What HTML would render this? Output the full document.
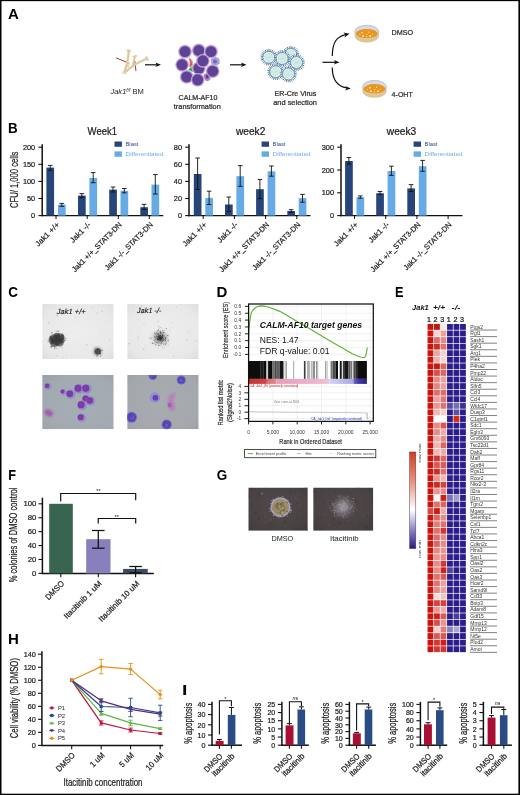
<!DOCTYPE html>
<html lang="en"><head><meta charset="utf-8"><title>Figure</title>
<style>html,body{margin:0;padding:0;background:#fff}body{width:520px;height:795px;overflow:hidden;font-family:"Liberation Sans",sans-serif}svg{display:block}</style></head>
<body>
<svg width="520" height="795" viewBox="0 0 520 795" font-family='"Liberation Sans", sans-serif'>
<defs>
<marker id="ah" viewBox="0 0 10 10" refX="8" refY="5" markerWidth="5.5" markerHeight="5.5" orient="auto-start-reverse"><path d="M0,0.8 L10,5 L0,9.2 L2.5,5 Z" fill="#111"/></marker>
<filter id="b1" x="-20%" y="-20%" width="140%" height="140%"><feGaussianBlur stdDeviation="0.5"/></filter>
<filter id="b2" x="-30%" y="-30%" width="160%" height="160%"><feGaussianBlur stdDeviation="1.2"/></filter>
<filter id="b3" x="-50%" y="-50%" width="200%" height="200%"><feGaussianBlur stdDeviation="2.2"/></filter>
<filter id="b05" x="-20%" y="-20%" width="140%" height="140%"><feGaussianBlur stdDeviation="0.3"/></filter>
<linearGradient id="cbar" x1="0" y1="0" x2="0" y2="1"><stop offset="0" stop-color="#d63a22"/><stop offset="0.3" stop-color="#e9907c"/><stop offset="0.6" stop-color="#ffffff"/><stop offset="0.8" stop-color="#8f86c8"/><stop offset="1" stop-color="#2a1688"/></linearGradient>
<radialGradient id="pg1" cx="0.5" cy="0.5" r="0.75"><stop offset="0" stop-color="#eeeeee"/><stop offset="0.7" stop-color="#e8e8e8"/><stop offset="1" stop-color="#dadada"/></radialGradient>
<radialGradient id="pg2" cx="0.55" cy="0.55" r="0.8"><stop offset="0" stop-color="#a7adb4"/><stop offset="0.7" stop-color="#a3a9b0"/><stop offset="1" stop-color="#979da6"/></radialGradient>
<radialGradient id="pg2b" cx="0.5" cy="0.5" r="0.8"><stop offset="0" stop-color="#a8acb1"/><stop offset="0.7" stop-color="#a4a8ad"/><stop offset="1" stop-color="#999da3"/></radialGradient>
<radialGradient id="pg3" cx="0.5" cy="0.45" r="0.8"><stop offset="0" stop-color="#514949"/><stop offset="0.6" stop-color="#4a4343"/><stop offset="1" stop-color="#3f3939"/></radialGradient>
<radialGradient id="cellg" cx="0.45" cy="0.45" r="0.6"><stop offset="0" stop-color="#7a52b8"/><stop offset="0.8" stop-color="#5d3f9d"/><stop offset="1" stop-color="#54388f"/></radialGradient>
<radialGradient id="dmsoCol" cx="0.5" cy="0.5" r="0.5"><stop offset="0" stop-color="#a89a78"/><stop offset="0.7" stop-color="#9a8c6e"/><stop offset="1" stop-color="#7d7494"/></radialGradient>
</defs>
<rect x="0.00" y="0.00" width="520.00" height="795.00" fill="#ffffff" />
<text transform="translate(8.0,18.75) scale(1.0,1)" font-size="15" font-weight="bold" fill="#000">A</text>
<text transform="translate(8.0,132.9) scale(0.9,1)" font-size="15" font-weight="bold" fill="#000">B</text>
<text transform="translate(8.2,297.1) scale(0.9,1)" font-size="15" font-weight="bold" fill="#000">C</text>
<text transform="translate(216.4,297.1) scale(1.0,1)" font-size="15" font-weight="bold" fill="#000">D</text>
<text transform="translate(395.1,297.1) scale(0.85,1)" font-size="15" font-weight="bold" fill="#000">E</text>
<text transform="translate(8.3,480.4) scale(0.85,1)" font-size="15" font-weight="bold" fill="#000">F</text>
<text transform="translate(216.7,480.4) scale(0.9,1)" font-size="15" font-weight="bold" fill="#000">G</text>
<text transform="translate(8.0,644.2) scale(1.0,1)" font-size="15" font-weight="bold" fill="#000">H</text>
<text transform="translate(181.9,694.5) scale(1.3,1)" font-size="15" font-weight="bold" fill="#000">I</text>
<g stroke-linecap="round" fill="none">
<path d="M116.5,58 L126.5,62.2" stroke="#a03a3a" stroke-width="1"/>
<path d="M134.8,61 L135.9,70.6" stroke="#a03a3a" stroke-width="1"/>
<path d="M124.3,72.2 C126.6,67 128.1,60 128.8,51.2" stroke="#dfc99e" stroke-width="2.3"/>
<path d="M126.6,71.2 C131,66.8 138,62.2 146.8,58.8" stroke="#dfc99e" stroke-width="2.0"/>
<path d="M132.4,66 C133.5,62 134.4,59.5 134.8,57" stroke="#dfc99e" stroke-width="1.9"/>
</g>
<circle cx="127.6" cy="50.4" r="1.3" fill="#dfc99e"/>
<circle cx="129.7" cy="50.9" r="1.2" fill="#dfc99e"/>
<circle cx="123.6" cy="72.6" r="1.3" fill="#dfc99e"/>
<circle cx="125.4" cy="73.2" r="1.1" fill="#dfc99e"/>
<circle cx="146.4" cy="57.6" r="1.3" fill="#dfc99e"/>
<circle cx="147.6" cy="59.6" r="1.3" fill="#dfc99e"/>
<circle cx="133.6" cy="56.6" r="1.1" fill="#dfc99e"/>
<circle cx="135.8" cy="56" r="1.2" fill="#dfc99e"/>
<circle cx="128.8" cy="63.5" r="1.2" fill="#dfc99e"/>
<circle cx="128.3" cy="66.3" r="1.1" fill="#dfc99e"/>
<circle cx="127.5" cy="70.2" r="1.0" fill="#dfc99e"/>
<circle cx="127.2" cy="50" r="0.8" fill="#eeeeee"/><circle cx="124" cy="73" r="0.8" fill="#eeeeee"/>
<line x1="145.00" y1="64.80" x2="158.00" y2="64.80" stroke="#111" stroke-width="1.2" />
<path d="M161,64.8 L155.4,62.5 L156.8,64.8 L155.4,67.1 Z" fill="#111"/>
<line x1="230.00" y1="64.80" x2="243.50" y2="64.80" stroke="#111" stroke-width="1.2" />
<path d="M246.5,64.8 L240.9,62.5 L242.3,64.8 L240.9,67.1 Z" fill="#111"/>
<line x1="322.50" y1="62.30" x2="336.50" y2="62.30" stroke="#111" stroke-width="1.2" />
<path d="M339.5,62.3 L333.9,60.0 L335.3,62.3 L333.9,64.6 Z" fill="#111"/>
<text x="110.4" y="94.3" font-size="7.3" fill="#2a2a2a" textLength="33.4" lengthAdjust="spacingAndGlyphs"><tspan font-style="italic">Jak1</tspan><tspan font-size="4.6" dy="-2.6" font-style="italic">f/f</tspan><tspan dy="2.6"> BM</tspan></text>
<g filter="url(#b05)">
<circle cx="198.8" cy="68.3" r="6.9" fill="#cdaedb"/>
<circle cx="198.8" cy="68.3" r="6.2" fill="#b691cd"/>
<circle cx="198.8" cy="68.3" r="5.45" fill="#5d4296"/>
<circle cx="185" cy="51.6" r="6.9" fill="#cdaedb"/>
<circle cx="185" cy="51.6" r="6.2" fill="#b691cd"/>
<circle cx="185" cy="51.6" r="5.45" fill="#5d4296"/>
<circle cx="198.8" cy="50.5" r="6.9" fill="#cdaedb"/>
<circle cx="198.8" cy="50.5" r="6.2" fill="#b691cd"/>
<circle cx="198.8" cy="50.5" r="5.45" fill="#5d4296"/>
<circle cx="211" cy="51.6" r="6.9" fill="#cdaedb"/>
<circle cx="211" cy="51.6" r="6.2" fill="#b691cd"/>
<circle cx="211" cy="51.6" r="5.45" fill="#5d4296"/>
<circle cx="182.1" cy="64.8" r="6.9" fill="#cdaedb"/>
<circle cx="182.1" cy="64.8" r="6.2" fill="#b691cd"/>
<circle cx="182.1" cy="64.8" r="5.45" fill="#5d4296"/>
<circle cx="212.7" cy="71.2" r="6.9" fill="#cdaedb"/>
<circle cx="212.7" cy="71.2" r="6.2" fill="#b691cd"/>
<circle cx="212.7" cy="71.2" r="5.45" fill="#5d4296"/>
<circle cx="186.7" cy="76.9" r="6.9" fill="#cdaedb"/>
<circle cx="186.7" cy="76.9" r="6.2" fill="#b691cd"/>
<circle cx="186.7" cy="76.9" r="5.45" fill="#5d4296"/>
<path d="M187.6,57.2 Q194.4,58.6 193.2,66.4 Q190.6,68.2 188.8,66.6 Q190.8,62 187.6,57.2 Z" fill="#e7a3ae"/>
<path d="M189,58.8 Q192.4,60.5 191.6,65.6 Q190.6,66.3 189.9,65.6 Q191.3,62 189,58.8 Z" fill="#bf3f57"/>
<path d="M191.2,66.6 L193,72 L188.4,69.8 Z" fill="#2f9a57" stroke="#8fd0a4" stroke-width="0.5"/>
<path d="M215,56.6 L219.2,58.8 L219.6,63.4 L216,66 L211.4,64.4 L210.8,59.2 Z" fill="#a79fd6" stroke="#c3bde6" stroke-width="0.6"/>
<circle cx="215" cy="61.4" r="2" fill="#7c63b8"/>
<ellipse cx="207" cy="77.2" rx="3.2" ry="4" fill="#a987c6" transform="rotate(-25 207 77.2)"/>
<ellipse cx="207.2" cy="76.8" rx="1.5" ry="2" fill="#6b3a8c" transform="rotate(-25 207 77.2)"/>
<circle cx="197.7" cy="79.8" r="6.9" fill="#cdaedb"/>
<circle cx="197.7" cy="79.8" r="6.2" fill="#b691cd"/>
<circle cx="197.7" cy="79.8" r="5.45" fill="#5d4296"/>
<circle cx="202.9" cy="60.8" r="6.9" fill="#cdaedb"/>
<circle cx="202.9" cy="60.8" r="6.2" fill="#b691cd"/>
<circle cx="202.9" cy="60.8" r="5.45" fill="#5d4296"/>
</g>
<text x="198.00" y="100.20" font-size="7.1" text-anchor="middle" fill="#2a2a2a" textLength="38.8" lengthAdjust="spacingAndGlyphs" stroke="#2a2a2a" stroke-width="0.22" >CALM-AF10</text>
<text x="197.30" y="108.60" font-size="7.1" text-anchor="middle" fill="#2a2a2a" textLength="47" lengthAdjust="spacingAndGlyphs" stroke="#2a2a2a" stroke-width="0.22" >transformation</text>
<g>
<circle cx="290.8" cy="54.4" r="7.6" fill="#ffffff"/>
<line x1="296.63" y1="55.28" x2="299.01" y2="55.64" stroke="#3f8f93" stroke-width="0.8"/>
<line x1="296.25" y1="56.65" x2="298.47" y2="57.57" stroke="#3a3a9c" stroke-width="0.8"/>
<line x1="295.56" y1="57.89" x2="297.49" y2="59.31" stroke="#3f8f93" stroke-width="0.8"/>
<line x1="294.58" y1="58.93" x2="296.12" y2="60.77" stroke="#3a3a9c" stroke-width="0.8"/>
<line x1="293.39" y1="59.70" x2="294.44" y2="61.86" stroke="#3f8f93" stroke-width="0.8"/>
<line x1="292.04" y1="60.17" x2="292.55" y2="62.51" stroke="#3a3a9c" stroke-width="0.8"/>
<line x1="290.63" y1="60.30" x2="290.56" y2="62.70" stroke="#3f8f93" stroke-width="0.8"/>
<line x1="289.22" y1="60.08" x2="288.58" y2="62.40" stroke="#3a3a9c" stroke-width="0.8"/>
<line x1="287.91" y1="59.54" x2="286.73" y2="61.63" stroke="#3f8f93" stroke-width="0.8"/>
<line x1="286.76" y1="58.70" x2="285.12" y2="60.45" stroke="#3a3a9c" stroke-width="0.8"/>
<line x1="285.85" y1="57.61" x2="283.83" y2="58.91" stroke="#3f8f93" stroke-width="0.8"/>
<line x1="285.22" y1="56.33" x2="282.96" y2="57.12" stroke="#3a3a9c" stroke-width="0.8"/>
<line x1="284.92" y1="54.94" x2="282.53" y2="55.16" stroke="#3f8f93" stroke-width="0.8"/>
<line x1="284.97" y1="53.52" x2="282.59" y2="53.16" stroke="#3a3a9c" stroke-width="0.8"/>
<line x1="285.35" y1="52.15" x2="283.13" y2="51.23" stroke="#3f8f93" stroke-width="0.8"/>
<line x1="286.04" y1="50.91" x2="284.11" y2="49.49" stroke="#3a3a9c" stroke-width="0.8"/>
<line x1="287.02" y1="49.87" x2="285.48" y2="48.03" stroke="#3f8f93" stroke-width="0.8"/>
<line x1="288.21" y1="49.10" x2="287.16" y2="46.94" stroke="#3a3a9c" stroke-width="0.8"/>
<line x1="289.56" y1="48.63" x2="289.05" y2="46.29" stroke="#3f8f93" stroke-width="0.8"/>
<line x1="290.97" y1="48.50" x2="291.04" y2="46.10" stroke="#3a3a9c" stroke-width="0.8"/>
<line x1="292.38" y1="48.72" x2="293.02" y2="46.40" stroke="#3f8f93" stroke-width="0.8"/>
<line x1="293.69" y1="49.26" x2="294.87" y2="47.17" stroke="#3a3a9c" stroke-width="0.8"/>
<line x1="294.84" y1="50.10" x2="296.48" y2="48.35" stroke="#3f8f93" stroke-width="0.8"/>
<line x1="295.75" y1="51.19" x2="297.77" y2="49.89" stroke="#3a3a9c" stroke-width="0.8"/>
<line x1="296.38" y1="52.47" x2="298.64" y2="51.68" stroke="#3f8f93" stroke-width="0.8"/>
<line x1="296.68" y1="53.86" x2="299.07" y2="53.64" stroke="#3a3a9c" stroke-width="0.8"/>
<circle cx="290.8" cy="54.4" r="5.9" fill="#ffffff" stroke="#3d7f9a" stroke-width="0.8"/>
<circle cx="290.8" cy="54.4" r="4.3" fill="#d3ebe4" stroke="#a2d2c6" stroke-width="0.45"/>
<path d="M289.2,55.4 q0.8,-1.6 1.6,-0.8 q0.8,0.6 1.6,-1" fill="none" stroke="#9fcfc2" stroke-width="0.5"/>
<circle cx="268.8" cy="57.3" r="7.6" fill="#ffffff"/>
<line x1="274.63" y1="58.18" x2="277.01" y2="58.54" stroke="#3f8f93" stroke-width="0.8"/>
<line x1="274.25" y1="59.55" x2="276.47" y2="60.47" stroke="#3a3a9c" stroke-width="0.8"/>
<line x1="273.56" y1="60.79" x2="275.49" y2="62.21" stroke="#3f8f93" stroke-width="0.8"/>
<line x1="272.58" y1="61.83" x2="274.12" y2="63.67" stroke="#3a3a9c" stroke-width="0.8"/>
<line x1="271.39" y1="62.60" x2="272.44" y2="64.76" stroke="#3f8f93" stroke-width="0.8"/>
<line x1="270.04" y1="63.07" x2="270.55" y2="65.41" stroke="#3a3a9c" stroke-width="0.8"/>
<line x1="268.63" y1="63.20" x2="268.56" y2="65.60" stroke="#3f8f93" stroke-width="0.8"/>
<line x1="267.22" y1="62.98" x2="266.58" y2="65.30" stroke="#3a3a9c" stroke-width="0.8"/>
<line x1="265.91" y1="62.44" x2="264.73" y2="64.53" stroke="#3f8f93" stroke-width="0.8"/>
<line x1="264.76" y1="61.60" x2="263.12" y2="63.35" stroke="#3a3a9c" stroke-width="0.8"/>
<line x1="263.85" y1="60.51" x2="261.83" y2="61.81" stroke="#3f8f93" stroke-width="0.8"/>
<line x1="263.22" y1="59.23" x2="260.96" y2="60.02" stroke="#3a3a9c" stroke-width="0.8"/>
<line x1="262.92" y1="57.84" x2="260.53" y2="58.06" stroke="#3f8f93" stroke-width="0.8"/>
<line x1="262.97" y1="56.42" x2="260.59" y2="56.06" stroke="#3a3a9c" stroke-width="0.8"/>
<line x1="263.35" y1="55.05" x2="261.13" y2="54.13" stroke="#3f8f93" stroke-width="0.8"/>
<line x1="264.04" y1="53.81" x2="262.11" y2="52.39" stroke="#3a3a9c" stroke-width="0.8"/>
<line x1="265.02" y1="52.77" x2="263.48" y2="50.93" stroke="#3f8f93" stroke-width="0.8"/>
<line x1="266.21" y1="52.00" x2="265.16" y2="49.84" stroke="#3a3a9c" stroke-width="0.8"/>
<line x1="267.56" y1="51.53" x2="267.05" y2="49.19" stroke="#3f8f93" stroke-width="0.8"/>
<line x1="268.97" y1="51.40" x2="269.04" y2="49.00" stroke="#3a3a9c" stroke-width="0.8"/>
<line x1="270.38" y1="51.62" x2="271.02" y2="49.30" stroke="#3f8f93" stroke-width="0.8"/>
<line x1="271.69" y1="52.16" x2="272.87" y2="50.07" stroke="#3a3a9c" stroke-width="0.8"/>
<line x1="272.84" y1="53.00" x2="274.48" y2="51.25" stroke="#3f8f93" stroke-width="0.8"/>
<line x1="273.75" y1="54.09" x2="275.77" y2="52.79" stroke="#3a3a9c" stroke-width="0.8"/>
<line x1="274.38" y1="55.37" x2="276.64" y2="54.58" stroke="#3f8f93" stroke-width="0.8"/>
<line x1="274.68" y1="56.76" x2="277.07" y2="56.54" stroke="#3a3a9c" stroke-width="0.8"/>
<circle cx="268.8" cy="57.3" r="5.9" fill="#ffffff" stroke="#3d7f9a" stroke-width="0.8"/>
<circle cx="268.8" cy="57.3" r="4.3" fill="#d3ebe4" stroke="#a2d2c6" stroke-width="0.45"/>
<path d="M267.2,58.3 q0.8,-1.6 1.6,-0.8 q0.8,0.6 1.6,-1" fill="none" stroke="#9fcfc2" stroke-width="0.5"/>
<circle cx="282.1" cy="58.5" r="7.6" fill="#ffffff"/>
<line x1="287.93" y1="59.38" x2="290.31" y2="59.74" stroke="#3f8f93" stroke-width="0.8"/>
<line x1="287.55" y1="60.75" x2="289.77" y2="61.67" stroke="#3a3a9c" stroke-width="0.8"/>
<line x1="286.86" y1="61.99" x2="288.79" y2="63.41" stroke="#3f8f93" stroke-width="0.8"/>
<line x1="285.88" y1="63.03" x2="287.42" y2="64.87" stroke="#3a3a9c" stroke-width="0.8"/>
<line x1="284.69" y1="63.80" x2="285.74" y2="65.96" stroke="#3f8f93" stroke-width="0.8"/>
<line x1="283.34" y1="64.27" x2="283.85" y2="66.61" stroke="#3a3a9c" stroke-width="0.8"/>
<line x1="281.93" y1="64.40" x2="281.86" y2="66.80" stroke="#3f8f93" stroke-width="0.8"/>
<line x1="280.52" y1="64.18" x2="279.88" y2="66.50" stroke="#3a3a9c" stroke-width="0.8"/>
<line x1="279.21" y1="63.64" x2="278.03" y2="65.73" stroke="#3f8f93" stroke-width="0.8"/>
<line x1="278.06" y1="62.80" x2="276.42" y2="64.55" stroke="#3a3a9c" stroke-width="0.8"/>
<line x1="277.15" y1="61.71" x2="275.13" y2="63.01" stroke="#3f8f93" stroke-width="0.8"/>
<line x1="276.52" y1="60.43" x2="274.26" y2="61.22" stroke="#3a3a9c" stroke-width="0.8"/>
<line x1="276.22" y1="59.04" x2="273.83" y2="59.26" stroke="#3f8f93" stroke-width="0.8"/>
<line x1="276.27" y1="57.62" x2="273.89" y2="57.26" stroke="#3a3a9c" stroke-width="0.8"/>
<line x1="276.65" y1="56.25" x2="274.43" y2="55.33" stroke="#3f8f93" stroke-width="0.8"/>
<line x1="277.34" y1="55.01" x2="275.41" y2="53.59" stroke="#3a3a9c" stroke-width="0.8"/>
<line x1="278.32" y1="53.97" x2="276.78" y2="52.13" stroke="#3f8f93" stroke-width="0.8"/>
<line x1="279.51" y1="53.20" x2="278.46" y2="51.04" stroke="#3a3a9c" stroke-width="0.8"/>
<line x1="280.86" y1="52.73" x2="280.35" y2="50.39" stroke="#3f8f93" stroke-width="0.8"/>
<line x1="282.27" y1="52.60" x2="282.34" y2="50.20" stroke="#3a3a9c" stroke-width="0.8"/>
<line x1="283.68" y1="52.82" x2="284.32" y2="50.50" stroke="#3f8f93" stroke-width="0.8"/>
<line x1="284.99" y1="53.36" x2="286.17" y2="51.27" stroke="#3a3a9c" stroke-width="0.8"/>
<line x1="286.14" y1="54.20" x2="287.78" y2="52.45" stroke="#3f8f93" stroke-width="0.8"/>
<line x1="287.05" y1="55.29" x2="289.07" y2="53.99" stroke="#3a3a9c" stroke-width="0.8"/>
<line x1="287.68" y1="56.57" x2="289.94" y2="55.78" stroke="#3f8f93" stroke-width="0.8"/>
<line x1="287.98" y1="57.96" x2="290.37" y2="57.74" stroke="#3a3a9c" stroke-width="0.8"/>
<circle cx="282.1" cy="58.5" r="5.9" fill="#ffffff" stroke="#3d7f9a" stroke-width="0.8"/>
<circle cx="282.1" cy="58.5" r="4.3" fill="#d3ebe4" stroke="#a2d2c6" stroke-width="0.45"/>
<path d="M280.5,59.5 q0.8,-1.6 1.6,-0.8 q0.8,0.6 1.6,-1" fill="none" stroke="#9fcfc2" stroke-width="0.5"/>
<circle cx="296.5" cy="62.5" r="7.6" fill="#ffffff"/>
<line x1="302.33" y1="63.38" x2="304.71" y2="63.74" stroke="#3f8f93" stroke-width="0.8"/>
<line x1="301.95" y1="64.75" x2="304.17" y2="65.67" stroke="#3a3a9c" stroke-width="0.8"/>
<line x1="301.26" y1="65.99" x2="303.19" y2="67.41" stroke="#3f8f93" stroke-width="0.8"/>
<line x1="300.28" y1="67.03" x2="301.82" y2="68.87" stroke="#3a3a9c" stroke-width="0.8"/>
<line x1="299.09" y1="67.80" x2="300.14" y2="69.96" stroke="#3f8f93" stroke-width="0.8"/>
<line x1="297.74" y1="68.27" x2="298.25" y2="70.61" stroke="#3a3a9c" stroke-width="0.8"/>
<line x1="296.33" y1="68.40" x2="296.26" y2="70.80" stroke="#3f8f93" stroke-width="0.8"/>
<line x1="294.92" y1="68.18" x2="294.28" y2="70.50" stroke="#3a3a9c" stroke-width="0.8"/>
<line x1="293.61" y1="67.64" x2="292.43" y2="69.73" stroke="#3f8f93" stroke-width="0.8"/>
<line x1="292.46" y1="66.80" x2="290.82" y2="68.55" stroke="#3a3a9c" stroke-width="0.8"/>
<line x1="291.55" y1="65.71" x2="289.53" y2="67.01" stroke="#3f8f93" stroke-width="0.8"/>
<line x1="290.92" y1="64.43" x2="288.66" y2="65.22" stroke="#3a3a9c" stroke-width="0.8"/>
<line x1="290.62" y1="63.04" x2="288.23" y2="63.26" stroke="#3f8f93" stroke-width="0.8"/>
<line x1="290.67" y1="61.62" x2="288.29" y2="61.26" stroke="#3a3a9c" stroke-width="0.8"/>
<line x1="291.05" y1="60.25" x2="288.83" y2="59.33" stroke="#3f8f93" stroke-width="0.8"/>
<line x1="291.74" y1="59.01" x2="289.81" y2="57.59" stroke="#3a3a9c" stroke-width="0.8"/>
<line x1="292.72" y1="57.97" x2="291.18" y2="56.13" stroke="#3f8f93" stroke-width="0.8"/>
<line x1="293.91" y1="57.20" x2="292.86" y2="55.04" stroke="#3a3a9c" stroke-width="0.8"/>
<line x1="295.26" y1="56.73" x2="294.75" y2="54.39" stroke="#3f8f93" stroke-width="0.8"/>
<line x1="296.67" y1="56.60" x2="296.74" y2="54.20" stroke="#3a3a9c" stroke-width="0.8"/>
<line x1="298.08" y1="56.82" x2="298.72" y2="54.50" stroke="#3f8f93" stroke-width="0.8"/>
<line x1="299.39" y1="57.36" x2="300.57" y2="55.27" stroke="#3a3a9c" stroke-width="0.8"/>
<line x1="300.54" y1="58.20" x2="302.18" y2="56.45" stroke="#3f8f93" stroke-width="0.8"/>
<line x1="301.45" y1="59.29" x2="303.47" y2="57.99" stroke="#3a3a9c" stroke-width="0.8"/>
<line x1="302.08" y1="60.57" x2="304.34" y2="59.78" stroke="#3f8f93" stroke-width="0.8"/>
<line x1="302.38" y1="61.96" x2="304.77" y2="61.74" stroke="#3a3a9c" stroke-width="0.8"/>
<circle cx="296.5" cy="62.5" r="5.9" fill="#ffffff" stroke="#3d7f9a" stroke-width="0.8"/>
<circle cx="296.5" cy="62.5" r="4.3" fill="#d3ebe4" stroke="#a2d2c6" stroke-width="0.45"/>
<path d="M294.9,63.5 q0.8,-1.6 1.6,-0.8 q0.8,0.6 1.6,-1" fill="none" stroke="#9fcfc2" stroke-width="0.5"/>
<circle cx="275.8" cy="71.7" r="7.6" fill="#ffffff"/>
<line x1="281.63" y1="72.58" x2="284.01" y2="72.94" stroke="#3f8f93" stroke-width="0.8"/>
<line x1="281.25" y1="73.95" x2="283.47" y2="74.87" stroke="#3a3a9c" stroke-width="0.8"/>
<line x1="280.56" y1="75.19" x2="282.49" y2="76.61" stroke="#3f8f93" stroke-width="0.8"/>
<line x1="279.58" y1="76.23" x2="281.12" y2="78.07" stroke="#3a3a9c" stroke-width="0.8"/>
<line x1="278.39" y1="77.00" x2="279.44" y2="79.16" stroke="#3f8f93" stroke-width="0.8"/>
<line x1="277.04" y1="77.47" x2="277.55" y2="79.81" stroke="#3a3a9c" stroke-width="0.8"/>
<line x1="275.63" y1="77.60" x2="275.56" y2="80.00" stroke="#3f8f93" stroke-width="0.8"/>
<line x1="274.22" y1="77.38" x2="273.58" y2="79.70" stroke="#3a3a9c" stroke-width="0.8"/>
<line x1="272.91" y1="76.84" x2="271.73" y2="78.93" stroke="#3f8f93" stroke-width="0.8"/>
<line x1="271.76" y1="76.00" x2="270.12" y2="77.75" stroke="#3a3a9c" stroke-width="0.8"/>
<line x1="270.85" y1="74.91" x2="268.83" y2="76.21" stroke="#3f8f93" stroke-width="0.8"/>
<line x1="270.22" y1="73.63" x2="267.96" y2="74.42" stroke="#3a3a9c" stroke-width="0.8"/>
<line x1="269.92" y1="72.24" x2="267.53" y2="72.46" stroke="#3f8f93" stroke-width="0.8"/>
<line x1="269.97" y1="70.82" x2="267.59" y2="70.46" stroke="#3a3a9c" stroke-width="0.8"/>
<line x1="270.35" y1="69.45" x2="268.13" y2="68.53" stroke="#3f8f93" stroke-width="0.8"/>
<line x1="271.04" y1="68.21" x2="269.11" y2="66.79" stroke="#3a3a9c" stroke-width="0.8"/>
<line x1="272.02" y1="67.17" x2="270.48" y2="65.33" stroke="#3f8f93" stroke-width="0.8"/>
<line x1="273.21" y1="66.40" x2="272.16" y2="64.24" stroke="#3a3a9c" stroke-width="0.8"/>
<line x1="274.56" y1="65.93" x2="274.05" y2="63.59" stroke="#3f8f93" stroke-width="0.8"/>
<line x1="275.97" y1="65.80" x2="276.04" y2="63.40" stroke="#3a3a9c" stroke-width="0.8"/>
<line x1="277.38" y1="66.02" x2="278.02" y2="63.70" stroke="#3f8f93" stroke-width="0.8"/>
<line x1="278.69" y1="66.56" x2="279.87" y2="64.47" stroke="#3a3a9c" stroke-width="0.8"/>
<line x1="279.84" y1="67.40" x2="281.48" y2="65.65" stroke="#3f8f93" stroke-width="0.8"/>
<line x1="280.75" y1="68.49" x2="282.77" y2="67.19" stroke="#3a3a9c" stroke-width="0.8"/>
<line x1="281.38" y1="69.77" x2="283.64" y2="68.98" stroke="#3f8f93" stroke-width="0.8"/>
<line x1="281.68" y1="71.16" x2="284.07" y2="70.94" stroke="#3a3a9c" stroke-width="0.8"/>
<circle cx="275.8" cy="71.7" r="5.9" fill="#ffffff" stroke="#3d7f9a" stroke-width="0.8"/>
<circle cx="275.8" cy="71.7" r="4.3" fill="#d3ebe4" stroke="#a2d2c6" stroke-width="0.45"/>
<path d="M274.2,72.7 q0.8,-1.6 1.6,-0.8 q0.8,0.6 1.6,-1" fill="none" stroke="#9fcfc2" stroke-width="0.5"/>
<circle cx="288.5" cy="74" r="7.6" fill="#ffffff"/>
<line x1="294.33" y1="74.88" x2="296.71" y2="75.24" stroke="#3f8f93" stroke-width="0.8"/>
<line x1="293.95" y1="76.25" x2="296.17" y2="77.17" stroke="#3a3a9c" stroke-width="0.8"/>
<line x1="293.26" y1="77.49" x2="295.19" y2="78.91" stroke="#3f8f93" stroke-width="0.8"/>
<line x1="292.28" y1="78.53" x2="293.82" y2="80.37" stroke="#3a3a9c" stroke-width="0.8"/>
<line x1="291.09" y1="79.30" x2="292.14" y2="81.46" stroke="#3f8f93" stroke-width="0.8"/>
<line x1="289.74" y1="79.77" x2="290.25" y2="82.11" stroke="#3a3a9c" stroke-width="0.8"/>
<line x1="288.33" y1="79.90" x2="288.26" y2="82.30" stroke="#3f8f93" stroke-width="0.8"/>
<line x1="286.92" y1="79.68" x2="286.28" y2="82.00" stroke="#3a3a9c" stroke-width="0.8"/>
<line x1="285.61" y1="79.14" x2="284.43" y2="81.23" stroke="#3f8f93" stroke-width="0.8"/>
<line x1="284.46" y1="78.30" x2="282.82" y2="80.05" stroke="#3a3a9c" stroke-width="0.8"/>
<line x1="283.55" y1="77.21" x2="281.53" y2="78.51" stroke="#3f8f93" stroke-width="0.8"/>
<line x1="282.92" y1="75.93" x2="280.66" y2="76.72" stroke="#3a3a9c" stroke-width="0.8"/>
<line x1="282.62" y1="74.54" x2="280.23" y2="74.76" stroke="#3f8f93" stroke-width="0.8"/>
<line x1="282.67" y1="73.12" x2="280.29" y2="72.76" stroke="#3a3a9c" stroke-width="0.8"/>
<line x1="283.05" y1="71.75" x2="280.83" y2="70.83" stroke="#3f8f93" stroke-width="0.8"/>
<line x1="283.74" y1="70.51" x2="281.81" y2="69.09" stroke="#3a3a9c" stroke-width="0.8"/>
<line x1="284.72" y1="69.47" x2="283.18" y2="67.63" stroke="#3f8f93" stroke-width="0.8"/>
<line x1="285.91" y1="68.70" x2="284.86" y2="66.54" stroke="#3a3a9c" stroke-width="0.8"/>
<line x1="287.26" y1="68.23" x2="286.75" y2="65.89" stroke="#3f8f93" stroke-width="0.8"/>
<line x1="288.67" y1="68.10" x2="288.74" y2="65.70" stroke="#3a3a9c" stroke-width="0.8"/>
<line x1="290.08" y1="68.32" x2="290.72" y2="66.00" stroke="#3f8f93" stroke-width="0.8"/>
<line x1="291.39" y1="68.86" x2="292.57" y2="66.77" stroke="#3a3a9c" stroke-width="0.8"/>
<line x1="292.54" y1="69.70" x2="294.18" y2="67.95" stroke="#3f8f93" stroke-width="0.8"/>
<line x1="293.45" y1="70.79" x2="295.47" y2="69.49" stroke="#3a3a9c" stroke-width="0.8"/>
<line x1="294.08" y1="72.07" x2="296.34" y2="71.28" stroke="#3f8f93" stroke-width="0.8"/>
<line x1="294.38" y1="73.46" x2="296.77" y2="73.24" stroke="#3a3a9c" stroke-width="0.8"/>
<circle cx="288.5" cy="74" r="5.9" fill="#ffffff" stroke="#3d7f9a" stroke-width="0.8"/>
<circle cx="288.5" cy="74" r="4.3" fill="#d3ebe4" stroke="#a2d2c6" stroke-width="0.45"/>
<path d="M286.9,75 q0.8,-1.6 1.6,-0.8 q0.8,0.6 1.6,-1" fill="none" stroke="#9fcfc2" stroke-width="0.5"/>
</g>
<text x="295.40" y="96.30" font-size="7.1" text-anchor="middle" fill="#2a2a2a" textLength="41.8" lengthAdjust="spacingAndGlyphs" stroke="#2a2a2a" stroke-width="0.22" >ER-Cre Virus</text>
<text x="295.10" y="105.40" font-size="7.1" text-anchor="middle" fill="#2a2a2a" textLength="43.8" lengthAdjust="spacingAndGlyphs" stroke="#2a2a2a" stroke-width="0.22" >and selection</text>
<path d="M332.3,56 C332.3,42 337,36.5 345.5,34.6" fill="none" stroke="#111" stroke-width="1.2"/>
<path d="M349.4,33.8 L343.6,32.6 L345.4,34.7 L344.6,37.4 Z" fill="#111"/>
<path d="M332.3,67.5 C332.3,81 338,86.5 346.8,88" fill="none" stroke="#111" stroke-width="1.2"/>
<path d="M350.8,88.6 L345.2,86 L346.6,88.2 L345,90.6 Z" fill="#111"/>
<g filter="url(#b05)">
<path d="M355.0,31.5 L355.0,36.0 A11.8,6.3 0 0 0 378.6,36.0 L378.6,31.5 Z" fill="#dfc694" stroke="#cdb88c" stroke-width="0.4"/>
<ellipse cx="366.8" cy="31.5" rx="11.8" ry="6.3" fill="#d6dae4" stroke="#b4b8c6" stroke-width="0.8"/>
<ellipse cx="366.8" cy="33.5" rx="10.8" ry="4.6" fill="#e8961a"/>
<circle cx="362.2" cy="32.6" r="0.9" fill="#fbe6b8"/>
<circle cx="368.8" cy="32.1" r="0.7" fill="#fbe6b8"/>
<circle cx="367.0" cy="34.3" r="0.6" fill="#fbe6b8"/>
<circle cx="363.2" cy="36.1" r="1.0" fill="#fbe6b8"/>
<circle cx="370.2" cy="36.1" r="1.0" fill="#fbe6b8"/>
<circle cx="366.6" cy="36.7" r="0.6" fill="#fbe6b8"/>
<circle cx="359.8" cy="34.3" r="0.6" fill="#fbe6b8"/>
<circle cx="372.40000000000003" cy="34.1" r="0.5" fill="#fbe6b8"/>
</g>
<g filter="url(#b05)">
<path d="M362.7,86.7 L362.7,91.2 A11.8,6.3 0 0 0 386.3,91.2 L386.3,86.7 Z" fill="#dfc694" stroke="#cdb88c" stroke-width="0.4"/>
<ellipse cx="374.5" cy="86.7" rx="11.8" ry="6.3" fill="#d6dae4" stroke="#b4b8c6" stroke-width="0.8"/>
<ellipse cx="374.5" cy="88.7" rx="10.8" ry="4.6" fill="#e8961a"/>
<circle cx="369.9" cy="87.8" r="0.9" fill="#fbe6b8"/>
<circle cx="376.5" cy="87.3" r="0.7" fill="#fbe6b8"/>
<circle cx="374.7" cy="89.5" r="0.6" fill="#fbe6b8"/>
<circle cx="370.9" cy="91.3" r="1.0" fill="#fbe6b8"/>
<circle cx="377.9" cy="91.3" r="1.0" fill="#fbe6b8"/>
<circle cx="374.3" cy="91.9" r="0.6" fill="#fbe6b8"/>
<circle cx="367.5" cy="89.5" r="0.6" fill="#fbe6b8"/>
<circle cx="380.1" cy="89.3" r="0.5" fill="#fbe6b8"/>
</g>
<text x="391.60" y="34.70" font-size="7.5" text-anchor="start" fill="#2a2a2a" textLength="21.6" lengthAdjust="spacingAndGlyphs" stroke="#2a2a2a" stroke-width="0.22" >DMSO</text>
<text x="391.60" y="96.50" font-size="7.5" text-anchor="start" fill="#2a2a2a" textLength="21.2" lengthAdjust="spacingAndGlyphs" stroke="#2a2a2a" stroke-width="0.22" >4-OHT</text>
<line x1="42.20" y1="144.20" x2="42.20" y2="216.30" stroke="#111" stroke-width="1.5" />
<line x1="41.50" y1="215.60" x2="163.20" y2="215.60" stroke="#111" stroke-width="1.4" />
<line x1="38.40" y1="215.60" x2="42.20" y2="215.60" stroke="#111" stroke-width="1.1" />
<text x="35.20" y="218.20" font-size="7.3" text-anchor="end" fill="#222" textLength="4.1" lengthAdjust="spacingAndGlyphs" stroke="#222" stroke-width="0.22" >0</text>
<line x1="38.40" y1="198.50" x2="42.20" y2="198.50" stroke="#111" stroke-width="1.1" />
<text x="35.20" y="201.10" font-size="7.3" text-anchor="end" fill="#222" textLength="8.2" lengthAdjust="spacingAndGlyphs" stroke="#222" stroke-width="0.22" >50</text>
<line x1="38.40" y1="181.40" x2="42.20" y2="181.40" stroke="#111" stroke-width="1.1" />
<text x="35.20" y="184.00" font-size="7.3" text-anchor="end" fill="#222" textLength="12.299999999999999" lengthAdjust="spacingAndGlyphs" stroke="#222" stroke-width="0.22" >100</text>
<line x1="38.40" y1="164.30" x2="42.20" y2="164.30" stroke="#111" stroke-width="1.1" />
<text x="35.20" y="166.90" font-size="7.3" text-anchor="end" fill="#222" textLength="12.299999999999999" lengthAdjust="spacingAndGlyphs" stroke="#222" stroke-width="0.22" >150</text>
<line x1="38.40" y1="147.20" x2="42.20" y2="147.20" stroke="#111" stroke-width="1.1" />
<text x="35.20" y="149.80" font-size="7.3" text-anchor="end" fill="#222" textLength="12.299999999999999" lengthAdjust="spacingAndGlyphs" stroke="#222" stroke-width="0.22" >200</text>
<text x="102.30" y="135.00" font-size="10.4" text-anchor="middle" fill="#1a1a1a" textLength="29.4" lengthAdjust="spacingAndGlyphs" stroke="#1a1a1a" stroke-width="0.22" >Week1</text>
<rect x="46.40" y="167.60" width="7.70" height="48.00" fill="#28457a" />
<rect x="58.00" y="204.60" width="7.70" height="11.00" fill="#66abe5" />
<rect x="78.00" y="195.60" width="7.70" height="20.00" fill="#28457a" />
<rect x="89.40" y="178.00" width="7.70" height="37.60" fill="#66abe5" />
<rect x="109.20" y="189.60" width="7.70" height="26.00" fill="#28457a" />
<rect x="120.50" y="190.80" width="7.70" height="24.80" fill="#66abe5" />
<rect x="140.30" y="207.20" width="7.70" height="8.40" fill="#28457a" />
<rect x="151.50" y="184.60" width="7.70" height="31.00" fill="#66abe5" />
<line x1="50.20" y1="165.40" x2="50.20" y2="170.30" stroke="#111" stroke-width="0.9" />
<line x1="47.90" y1="165.40" x2="52.50" y2="165.40" stroke="#111" stroke-width="0.9" />
<line x1="47.90" y1="170.30" x2="52.50" y2="170.30" stroke="#111" stroke-width="0.9" />
<line x1="61.80" y1="203.40" x2="61.80" y2="206.30" stroke="#111" stroke-width="0.9" />
<line x1="59.50" y1="203.40" x2="64.10" y2="203.40" stroke="#111" stroke-width="0.9" />
<line x1="59.50" y1="206.30" x2="64.10" y2="206.30" stroke="#111" stroke-width="0.9" />
<line x1="81.80" y1="193.60" x2="81.80" y2="197.70" stroke="#111" stroke-width="0.9" />
<line x1="79.50" y1="193.60" x2="84.10" y2="193.60" stroke="#111" stroke-width="0.9" />
<line x1="79.50" y1="197.70" x2="84.10" y2="197.70" stroke="#111" stroke-width="0.9" />
<line x1="93.20" y1="172.60" x2="93.20" y2="182.70" stroke="#111" stroke-width="0.9" />
<line x1="90.90" y1="172.60" x2="95.50" y2="172.60" stroke="#111" stroke-width="0.9" />
<line x1="90.90" y1="182.70" x2="95.50" y2="182.70" stroke="#111" stroke-width="0.9" />
<line x1="113.00" y1="187.00" x2="113.00" y2="192.00" stroke="#111" stroke-width="0.9" />
<line x1="110.70" y1="187.00" x2="115.30" y2="187.00" stroke="#111" stroke-width="0.9" />
<line x1="110.70" y1="192.00" x2="115.30" y2="192.00" stroke="#111" stroke-width="0.9" />
<line x1="124.30" y1="188.50" x2="124.30" y2="192.80" stroke="#111" stroke-width="0.9" />
<line x1="122.00" y1="188.50" x2="126.60" y2="188.50" stroke="#111" stroke-width="0.9" />
<line x1="122.00" y1="192.80" x2="126.60" y2="192.80" stroke="#111" stroke-width="0.9" />
<line x1="144.10" y1="204.30" x2="144.10" y2="209.40" stroke="#111" stroke-width="0.9" />
<line x1="141.80" y1="204.30" x2="146.40" y2="204.30" stroke="#111" stroke-width="0.9" />
<line x1="141.80" y1="209.40" x2="146.40" y2="209.40" stroke="#111" stroke-width="0.9" />
<line x1="155.30" y1="174.60" x2="155.30" y2="194.00" stroke="#111" stroke-width="0.9" />
<line x1="153.00" y1="174.60" x2="157.60" y2="174.60" stroke="#111" stroke-width="0.9" />
<line x1="153.00" y1="194.00" x2="157.60" y2="194.00" stroke="#111" stroke-width="0.9" />
<line x1="56.00" y1="215.60" x2="56.00" y2="219.00" stroke="#111" stroke-width="1.0" />
<text transform="translate(60.00,225.20) rotate(-45)" font-size="7.6" text-anchor="end" fill="#222" textLength="30.8" lengthAdjust="spacingAndGlyphs" stroke="#222" stroke-width="0.22" >Jak1 +/+</text>
<line x1="87.20" y1="215.60" x2="87.20" y2="219.00" stroke="#111" stroke-width="1.0" />
<text transform="translate(91.20,225.20) rotate(-45)" font-size="7.6" text-anchor="end" fill="#222" textLength="25.6" lengthAdjust="spacingAndGlyphs" stroke="#222" stroke-width="0.22" >Jak1 -/-</text>
<line x1="118.30" y1="215.60" x2="118.30" y2="219.00" stroke="#111" stroke-width="1.0" />
<text transform="translate(122.30,225.20) rotate(-45)" font-size="7.6" text-anchor="end" fill="#222" textLength="67" lengthAdjust="spacingAndGlyphs" stroke="#222" stroke-width="0.22" >Jak1 +/+_STAT3-DN</text>
<line x1="149.30" y1="215.60" x2="149.30" y2="219.00" stroke="#111" stroke-width="1.0" />
<text transform="translate(153.30,225.20) rotate(-45)" font-size="7.6" text-anchor="end" fill="#222" textLength="64.5" lengthAdjust="spacingAndGlyphs" stroke="#222" stroke-width="0.22" >Jak1 -/-_STAT3-DN</text>
<rect x="114.50" y="141.50" width="7.40" height="5.30" fill="#28457a" />
<rect x="114.50" y="151.40" width="7.40" height="5.40" fill="#66abe5" />
<text x="125.50" y="146.10" font-size="6.2" text-anchor="start" fill="#2c4a8c" textLength="12.9" lengthAdjust="spacingAndGlyphs" >Blast</text>
<text x="125.50" y="156.30" font-size="6.2" text-anchor="start" fill="#6aaee6" textLength="38" lengthAdjust="spacingAndGlyphs" >Differentiated</text>
<text transform="translate(17.70,179.80) rotate(-90)" font-size="10" text-anchor="middle" fill="#222" textLength="56.5" lengthAdjust="spacingAndGlyphs" stroke="#222" stroke-width="0.22" >CFU/ 1,000 cells</text>
<line x1="189.00" y1="144.20" x2="189.00" y2="216.30" stroke="#111" stroke-width="1.5" />
<line x1="188.30" y1="215.60" x2="310.50" y2="215.60" stroke="#111" stroke-width="1.4" />
<line x1="185.20" y1="215.60" x2="189.00" y2="215.60" stroke="#111" stroke-width="1.1" />
<text x="182.00" y="218.20" font-size="7.3" text-anchor="end" fill="#222" textLength="4.1" lengthAdjust="spacingAndGlyphs" stroke="#222" stroke-width="0.22" >0</text>
<line x1="185.20" y1="198.50" x2="189.00" y2="198.50" stroke="#111" stroke-width="1.1" />
<text x="182.00" y="201.10" font-size="7.3" text-anchor="end" fill="#222" textLength="8.2" lengthAdjust="spacingAndGlyphs" stroke="#222" stroke-width="0.22" >20</text>
<line x1="185.20" y1="181.40" x2="189.00" y2="181.40" stroke="#111" stroke-width="1.1" />
<text x="182.00" y="184.00" font-size="7.3" text-anchor="end" fill="#222" textLength="8.2" lengthAdjust="spacingAndGlyphs" stroke="#222" stroke-width="0.22" >40</text>
<line x1="185.20" y1="164.30" x2="189.00" y2="164.30" stroke="#111" stroke-width="1.1" />
<text x="182.00" y="166.90" font-size="7.3" text-anchor="end" fill="#222" textLength="8.2" lengthAdjust="spacingAndGlyphs" stroke="#222" stroke-width="0.22" >60</text>
<line x1="185.20" y1="147.20" x2="189.00" y2="147.20" stroke="#111" stroke-width="1.1" />
<text x="182.00" y="149.80" font-size="7.3" text-anchor="end" fill="#222" textLength="8.2" lengthAdjust="spacingAndGlyphs" stroke="#222" stroke-width="0.22" >80</text>
<text x="250.60" y="135.00" font-size="10.4" text-anchor="middle" fill="#1a1a1a" textLength="29.4" lengthAdjust="spacingAndGlyphs" stroke="#1a1a1a" stroke-width="0.22" >week2</text>
<rect x="193.80" y="174.00" width="7.70" height="41.60" fill="#28457a" />
<rect x="205.30" y="197.90" width="7.70" height="17.70" fill="#66abe5" />
<rect x="225.00" y="204.50" width="7.70" height="11.10" fill="#28457a" />
<rect x="236.40" y="176.20" width="7.70" height="39.40" fill="#66abe5" />
<rect x="256.10" y="189.20" width="7.70" height="26.40" fill="#28457a" />
<rect x="267.60" y="171.30" width="7.70" height="44.30" fill="#66abe5" />
<rect x="287.30" y="211.00" width="7.70" height="4.60" fill="#28457a" />
<rect x="298.70" y="198.20" width="7.70" height="17.40" fill="#66abe5" />
<line x1="197.60" y1="158.00" x2="197.60" y2="189.50" stroke="#111" stroke-width="0.9" />
<line x1="195.30" y1="158.00" x2="199.90" y2="158.00" stroke="#111" stroke-width="0.9" />
<line x1="195.30" y1="189.50" x2="199.90" y2="189.50" stroke="#111" stroke-width="0.9" />
<line x1="209.10" y1="191.20" x2="209.10" y2="204.50" stroke="#111" stroke-width="0.9" />
<line x1="206.80" y1="191.20" x2="211.40" y2="191.20" stroke="#111" stroke-width="0.9" />
<line x1="206.80" y1="204.50" x2="211.40" y2="204.50" stroke="#111" stroke-width="0.9" />
<line x1="228.80" y1="197.00" x2="228.80" y2="211.70" stroke="#111" stroke-width="0.9" />
<line x1="226.50" y1="197.00" x2="231.10" y2="197.00" stroke="#111" stroke-width="0.9" />
<line x1="226.50" y1="211.70" x2="231.10" y2="211.70" stroke="#111" stroke-width="0.9" />
<line x1="240.20" y1="165.60" x2="240.20" y2="186.30" stroke="#111" stroke-width="0.9" />
<line x1="237.90" y1="165.60" x2="242.50" y2="165.60" stroke="#111" stroke-width="0.9" />
<line x1="237.90" y1="186.30" x2="242.50" y2="186.30" stroke="#111" stroke-width="0.9" />
<line x1="259.90" y1="179.40" x2="259.90" y2="198.70" stroke="#111" stroke-width="0.9" />
<line x1="257.60" y1="179.40" x2="262.20" y2="179.40" stroke="#111" stroke-width="0.9" />
<line x1="257.60" y1="198.70" x2="262.20" y2="198.70" stroke="#111" stroke-width="0.9" />
<line x1="271.40" y1="166.00" x2="271.40" y2="176.20" stroke="#111" stroke-width="0.9" />
<line x1="269.10" y1="166.00" x2="273.70" y2="166.00" stroke="#111" stroke-width="0.9" />
<line x1="269.10" y1="176.20" x2="273.70" y2="176.20" stroke="#111" stroke-width="0.9" />
<line x1="291.10" y1="209.70" x2="291.10" y2="212.60" stroke="#111" stroke-width="0.9" />
<line x1="288.80" y1="209.70" x2="293.40" y2="209.70" stroke="#111" stroke-width="0.9" />
<line x1="288.80" y1="212.60" x2="293.40" y2="212.60" stroke="#111" stroke-width="0.9" />
<line x1="302.50" y1="194.40" x2="302.50" y2="202.20" stroke="#111" stroke-width="0.9" />
<line x1="300.20" y1="194.40" x2="304.80" y2="194.40" stroke="#111" stroke-width="0.9" />
<line x1="300.20" y1="202.20" x2="304.80" y2="202.20" stroke="#111" stroke-width="0.9" />
<line x1="203.20" y1="215.60" x2="203.20" y2="219.00" stroke="#111" stroke-width="1.0" />
<text transform="translate(207.20,225.20) rotate(-45)" font-size="7.6" text-anchor="end" fill="#222" textLength="30.8" lengthAdjust="spacingAndGlyphs" stroke="#222" stroke-width="0.22" >Jak1 +/+</text>
<line x1="234.40" y1="215.60" x2="234.40" y2="219.00" stroke="#111" stroke-width="1.0" />
<text transform="translate(238.40,225.20) rotate(-45)" font-size="7.6" text-anchor="end" fill="#222" textLength="25.6" lengthAdjust="spacingAndGlyphs" stroke="#222" stroke-width="0.22" >Jak1 -/-</text>
<line x1="265.60" y1="215.60" x2="265.60" y2="219.00" stroke="#111" stroke-width="1.0" />
<text transform="translate(269.60,225.20) rotate(-45)" font-size="7.6" text-anchor="end" fill="#222" textLength="67" lengthAdjust="spacingAndGlyphs" stroke="#222" stroke-width="0.22" >Jak1 +/+_STAT3-DN</text>
<line x1="296.80" y1="215.60" x2="296.80" y2="219.00" stroke="#111" stroke-width="1.0" />
<text transform="translate(300.80,225.20) rotate(-45)" font-size="7.6" text-anchor="end" fill="#222" textLength="64.5" lengthAdjust="spacingAndGlyphs" stroke="#222" stroke-width="0.22" >Jak1 -/-_STAT3-DN</text>
<rect x="261.60" y="141.50" width="7.40" height="5.30" fill="#28457a" />
<rect x="261.60" y="151.40" width="7.40" height="5.40" fill="#66abe5" />
<text x="272.60" y="146.10" font-size="6.2" text-anchor="start" fill="#2c4a8c" textLength="12.9" lengthAdjust="spacingAndGlyphs" >Blast</text>
<text x="272.60" y="156.30" font-size="6.2" text-anchor="start" fill="#6aaee6" textLength="38" lengthAdjust="spacingAndGlyphs" >Differentiated</text>
<line x1="341.00" y1="144.20" x2="341.00" y2="216.30" stroke="#111" stroke-width="1.5" />
<line x1="340.30" y1="215.60" x2="462.50" y2="215.60" stroke="#111" stroke-width="1.4" />
<line x1="337.20" y1="215.60" x2="341.00" y2="215.60" stroke="#111" stroke-width="1.1" />
<text x="334.00" y="218.20" font-size="7.3" text-anchor="end" fill="#222" textLength="4.1" lengthAdjust="spacingAndGlyphs" stroke="#222" stroke-width="0.22" >0</text>
<line x1="337.20" y1="192.80" x2="341.00" y2="192.80" stroke="#111" stroke-width="1.1" />
<text x="334.00" y="195.40" font-size="7.3" text-anchor="end" fill="#222" textLength="12.299999999999999" lengthAdjust="spacingAndGlyphs" stroke="#222" stroke-width="0.22" >100</text>
<line x1="337.20" y1="170.00" x2="341.00" y2="170.00" stroke="#111" stroke-width="1.1" />
<text x="334.00" y="172.60" font-size="7.3" text-anchor="end" fill="#222" textLength="12.299999999999999" lengthAdjust="spacingAndGlyphs" stroke="#222" stroke-width="0.22" >200</text>
<line x1="337.20" y1="147.20" x2="341.00" y2="147.20" stroke="#111" stroke-width="1.1" />
<text x="334.00" y="149.80" font-size="7.3" text-anchor="end" fill="#222" textLength="12.299999999999999" lengthAdjust="spacingAndGlyphs" stroke="#222" stroke-width="0.22" >300</text>
<text x="401.50" y="135.00" font-size="10.4" text-anchor="middle" fill="#1a1a1a" textLength="29.4" lengthAdjust="spacingAndGlyphs" stroke="#1a1a1a" stroke-width="0.22" >week3</text>
<rect x="345.10" y="161.00" width="7.70" height="54.60" fill="#28457a" />
<rect x="356.50" y="197.30" width="7.70" height="18.30" fill="#66abe5" />
<rect x="376.20" y="193.30" width="7.70" height="22.30" fill="#28457a" />
<rect x="387.60" y="171.00" width="7.70" height="44.60" fill="#66abe5" />
<rect x="407.30" y="188.40" width="7.70" height="27.20" fill="#28457a" />
<rect x="418.80" y="166.20" width="7.70" height="49.40" fill="#66abe5" />
<line x1="348.90" y1="157.50" x2="348.90" y2="164.10" stroke="#111" stroke-width="0.9" />
<line x1="346.60" y1="157.50" x2="351.20" y2="157.50" stroke="#111" stroke-width="0.9" />
<line x1="346.60" y1="164.10" x2="351.20" y2="164.10" stroke="#111" stroke-width="0.9" />
<line x1="360.30" y1="195.90" x2="360.30" y2="198.20" stroke="#111" stroke-width="0.9" />
<line x1="358.00" y1="195.90" x2="362.60" y2="195.90" stroke="#111" stroke-width="0.9" />
<line x1="358.00" y1="198.20" x2="362.60" y2="198.20" stroke="#111" stroke-width="0.9" />
<line x1="380.00" y1="191.50" x2="380.00" y2="194.40" stroke="#111" stroke-width="0.9" />
<line x1="377.70" y1="191.50" x2="382.30" y2="191.50" stroke="#111" stroke-width="0.9" />
<line x1="377.70" y1="194.40" x2="382.30" y2="194.40" stroke="#111" stroke-width="0.9" />
<line x1="391.40" y1="166.20" x2="391.40" y2="175.40" stroke="#111" stroke-width="0.9" />
<line x1="389.10" y1="166.20" x2="393.70" y2="166.20" stroke="#111" stroke-width="0.9" />
<line x1="389.10" y1="175.40" x2="393.70" y2="175.40" stroke="#111" stroke-width="0.9" />
<line x1="411.10" y1="184.60" x2="411.10" y2="191.50" stroke="#111" stroke-width="0.9" />
<line x1="408.80" y1="184.60" x2="413.40" y2="184.60" stroke="#111" stroke-width="0.9" />
<line x1="408.80" y1="191.50" x2="413.40" y2="191.50" stroke="#111" stroke-width="0.9" />
<line x1="422.60" y1="160.40" x2="422.60" y2="171.30" stroke="#111" stroke-width="0.9" />
<line x1="420.30" y1="160.40" x2="424.90" y2="160.40" stroke="#111" stroke-width="0.9" />
<line x1="420.30" y1="171.30" x2="424.90" y2="171.30" stroke="#111" stroke-width="0.9" />
<line x1="354.50" y1="215.60" x2="354.50" y2="219.00" stroke="#111" stroke-width="1.0" />
<text transform="translate(358.50,225.20) rotate(-45)" font-size="7.6" text-anchor="end" fill="#222" textLength="30.8" lengthAdjust="spacingAndGlyphs" stroke="#222" stroke-width="0.22" >Jak1 +/+</text>
<line x1="385.70" y1="215.60" x2="385.70" y2="219.00" stroke="#111" stroke-width="1.0" />
<text transform="translate(389.70,225.20) rotate(-45)" font-size="7.6" text-anchor="end" fill="#222" textLength="25.6" lengthAdjust="spacingAndGlyphs" stroke="#222" stroke-width="0.22" >Jak1 -/-</text>
<line x1="416.90" y1="215.60" x2="416.90" y2="219.00" stroke="#111" stroke-width="1.0" />
<text transform="translate(420.90,225.20) rotate(-45)" font-size="7.6" text-anchor="end" fill="#222" textLength="67" lengthAdjust="spacingAndGlyphs" stroke="#222" stroke-width="0.22" >Jak1 +/+_STAT3-DN</text>
<line x1="448.10" y1="215.60" x2="448.10" y2="219.00" stroke="#111" stroke-width="1.0" />
<text transform="translate(452.10,225.20) rotate(-45)" font-size="7.6" text-anchor="end" fill="#222" textLength="64.5" lengthAdjust="spacingAndGlyphs" stroke="#222" stroke-width="0.22" >Jak1 -/-_STAT3-DN</text>
<rect x="413.60" y="141.50" width="7.40" height="5.30" fill="#28457a" />
<rect x="413.60" y="151.40" width="7.40" height="5.40" fill="#66abe5" />
<text x="424.60" y="146.10" font-size="6.2" text-anchor="start" fill="#2c4a8c" textLength="12.9" lengthAdjust="spacingAndGlyphs" >Blast</text>
<text x="424.60" y="156.30" font-size="6.2" text-anchor="start" fill="#6aaee6" textLength="38" lengthAdjust="spacingAndGlyphs" >Differentiated</text>
<clipPath id="c1"><rect x="42.2" y="304.1" width="71.5" height="55.0"/></clipPath>
<clipPath id="c2"><rect x="127.2" y="304.1" width="71.5" height="55.0"/></clipPath>
<clipPath id="c3"><rect x="42.2" y="375.0" width="71.5" height="54.2"/></clipPath>
<clipPath id="c4"><rect x="127.2" y="375.0" width="71.5" height="54.2"/></clipPath>
<g clip-path="url(#c1)">
<rect x="42.20" y="304.10" width="71.50" height="55.00" fill="url(#pg1)" />
<circle cx="86.7" cy="344.9" r="0.70" fill="#a8a8a8" opacity="0.68"/>
<circle cx="95.1" cy="354.8" r="0.31" fill="#a8a8a8" opacity="0.49"/>
<circle cx="109.7" cy="339.8" r="0.75" fill="#a8a8a8" opacity="0.35"/>
<circle cx="75.7" cy="317.7" r="0.57" fill="#a8a8a8" opacity="0.53"/>
<circle cx="43.1" cy="316.0" r="0.44" fill="#a8a8a8" opacity="0.67"/>
<circle cx="96.9" cy="312.9" r="0.70" fill="#a8a8a8" opacity="0.36"/>
<circle cx="86.3" cy="311.1" r="0.30" fill="#a8a8a8" opacity="0.65"/>
<circle cx="57.2" cy="316.0" r="0.79" fill="#a8a8a8" opacity="0.65"/>
<circle cx="62.9" cy="357.0" r="0.57" fill="#a8a8a8" opacity="0.57"/>
<circle cx="56.8" cy="355.9" r="0.65" fill="#a8a8a8" opacity="0.69"/>
<circle cx="106.1" cy="320.5" r="0.48" fill="#a8a8a8" opacity="0.37"/>
<circle cx="52.6" cy="307.7" r="0.45" fill="#a8a8a8" opacity="0.54"/>
<circle cx="42.4" cy="341.4" r="0.47" fill="#a8a8a8" opacity="0.42"/>
<circle cx="100.7" cy="330.5" r="0.46" fill="#a8a8a8" opacity="0.49"/>
<circle cx="92.6" cy="307.2" r="0.79" fill="#a8a8a8" opacity="0.31"/>
<circle cx="95.8" cy="350.6" r="0.31" fill="#a8a8a8" opacity="0.62"/>
<circle cx="68.4" cy="335.9" r="0.30" fill="#a8a8a8" opacity="0.32"/>
<circle cx="55.1" cy="356.6" r="0.40" fill="#a8a8a8" opacity="0.60"/>
<circle cx="108.7" cy="355.9" r="0.47" fill="#a8a8a8" opacity="0.44"/>
<circle cx="79.7" cy="346.8" r="0.35" fill="#a8a8a8" opacity="0.60"/>
<circle cx="99.2" cy="351.4" r="0.32" fill="#a8a8a8" opacity="0.68"/>
<circle cx="48.7" cy="322.8" r="0.61" fill="#a8a8a8" opacity="0.67"/>
<circle cx="66.5" cy="354.9" r="0.57" fill="#a8a8a8" opacity="0.42"/>
<circle cx="64.9" cy="313.9" r="0.34" fill="#a8a8a8" opacity="0.36"/>
<circle cx="91.5" cy="358.9" r="0.38" fill="#a8a8a8" opacity="0.32"/>
<circle cx="112.7" cy="333.4" r="0.50" fill="#a8a8a8" opacity="0.39"/>
<circle cx="84.7" cy="349.5" r="0.53" fill="#a8a8a8" opacity="0.47"/>
<circle cx="46.2" cy="354.5" r="0.32" fill="#a8a8a8" opacity="0.50"/>
<circle cx="102.1" cy="311.3" r="0.67" fill="#a8a8a8" opacity="0.68"/>
<circle cx="87.3" cy="347.4" r="0.35" fill="#a8a8a8" opacity="0.47"/>
<g filter="url(#b1)">
<circle cx="56.8" cy="339.9" r="5.4" fill="#363636" opacity="0.66"/>
<circle cx="53.8" cy="338.4" r="4.2" fill="#363636" opacity="0.66"/>
<circle cx="59.8" cy="337.7" r="4.4" fill="#363636" opacity="0.66"/>
<circle cx="59.4" cy="342.5" r="4" fill="#363636" opacity="0.66"/>
<circle cx="54.3" cy="342.9" r="4" fill="#363636" opacity="0.66"/>
<circle cx="61.4" cy="340.2" r="3.3" fill="#363636" opacity="0.66"/>
<circle cx="52.0" cy="340.9" r="3" fill="#363636" opacity="0.66"/>
<circle cx="56.8" cy="335.9" r="3.2" fill="#363636" opacity="0.66"/>
<circle cx="62.3" cy="336.4" r="2.2" fill="#363636" opacity="0.66"/>
<circle cx="51.0" cy="338.1" r="2" fill="#363636" opacity="0.66"/>
</g>
<circle cx="62.1" cy="347.2" r="0.5" fill="#444" opacity="0.5"/>
<circle cx="54.6" cy="347.7" r="0.5" fill="#444" opacity="0.5"/>
<circle cx="65.8" cy="339.9" r="0.5" fill="#444" opacity="0.5"/>
<circle cx="64.8" cy="338.7" r="0.5" fill="#444" opacity="0.5"/>
<circle cx="48.1" cy="340.6" r="0.5" fill="#444" opacity="0.5"/>
<circle cx="49.2" cy="340.9" r="0.5" fill="#444" opacity="0.5"/>
<circle cx="50.8" cy="344.1" r="0.5" fill="#444" opacity="0.5"/>
<circle cx="50.1" cy="346.4" r="0.5" fill="#444" opacity="0.5"/>
<circle cx="65.0" cy="337.8" r="0.5" fill="#444" opacity="0.5"/>
<circle cx="49.0" cy="339.9" r="0.5" fill="#444" opacity="0.5"/>
<circle cx="63.3" cy="344.0" r="0.5" fill="#444" opacity="0.5"/>
<circle cx="58.6" cy="331.0" r="0.5" fill="#444" opacity="0.5"/>
<circle cx="51.1" cy="346.7" r="0.5" fill="#444" opacity="0.5"/>
<circle cx="58.1" cy="331.3" r="0.5" fill="#444" opacity="0.5"/>
<circle cx="52.3" cy="332.3" r="0.5" fill="#444" opacity="0.5"/>
<circle cx="51.1" cy="346.5" r="0.5" fill="#444" opacity="0.5"/>
<circle cx="55.2" cy="347.9" r="0.5" fill="#444" opacity="0.5"/>
<circle cx="57.9" cy="331.3" r="0.5" fill="#444" opacity="0.5"/>
<circle cx="54.3" cy="348.8" r="0.5" fill="#444" opacity="0.5"/>
<circle cx="51.9" cy="333.1" r="0.5" fill="#444" opacity="0.5"/>
<circle cx="65.1" cy="340.5" r="0.5" fill="#444" opacity="0.5"/>
<circle cx="56.8" cy="348.5" r="0.5" fill="#444" opacity="0.5"/>
<circle cx="48.1" cy="342.0" r="0.5" fill="#444" opacity="0.5"/>
<circle cx="51.4" cy="332.8" r="0.5" fill="#444" opacity="0.5"/>
<circle cx="51.9" cy="346.9" r="0.5" fill="#444" opacity="0.5"/>
<circle cx="56.1" cy="330.9" r="0.5" fill="#444" opacity="0.5"/>
<circle cx="51.5" cy="347.2" r="0.5" fill="#444" opacity="0.5"/>
<circle cx="62.7" cy="333.6" r="0.5" fill="#444" opacity="0.5"/>
<circle cx="66.0" cy="338.5" r="0.5" fill="#444" opacity="0.5"/>
<circle cx="48.6" cy="339.0" r="0.5" fill="#444" opacity="0.5"/>
<circle cx="97.8" cy="351.4" r="3.0" fill="#333" opacity="0.85" filter="url(#b1)"/>
<circle cx="97.8" cy="351.4" r="4.6" fill="#555" opacity="0.35" filter="url(#b2)"/>
<circle cx="100.8" cy="356.5" r="0.4" fill="#333" opacity="0.7"/>
<circle cx="93.4" cy="352.0" r="0.4" fill="#333" opacity="0.7"/>
<circle cx="97.5" cy="348.7" r="0.4" fill="#333" opacity="0.7"/>
<circle cx="94.8" cy="349.7" r="0.4" fill="#333" opacity="0.7"/>
<circle cx="94.6" cy="348.3" r="0.4" fill="#333" opacity="0.7"/>
<circle cx="97.4" cy="349.4" r="0.4" fill="#333" opacity="0.7"/>
<circle cx="95.3" cy="352.4" r="0.4" fill="#333" opacity="0.7"/>
<circle cx="97.0" cy="349.4" r="0.4" fill="#333" opacity="0.7"/>
<circle cx="95.8" cy="351.8" r="0.4" fill="#333" opacity="0.7"/>
<circle cx="99.3" cy="353.1" r="0.4" fill="#333" opacity="0.7"/>
<circle cx="98.5" cy="353.4" r="0.4" fill="#333" opacity="0.7"/>
<circle cx="95.0" cy="354.0" r="0.4" fill="#333" opacity="0.7"/>
<circle cx="98.0" cy="353.4" r="0.4" fill="#333" opacity="0.7"/>
<circle cx="95.7" cy="352.8" r="0.4" fill="#333" opacity="0.7"/>
<circle cx="100.5" cy="353.8" r="0.4" fill="#333" opacity="0.7"/>
<circle cx="100.0" cy="351.9" r="0.4" fill="#333" opacity="0.7"/>
<circle cx="94.9" cy="350.6" r="0.4" fill="#333" opacity="0.7"/>
<circle cx="101.4" cy="350.4" r="0.4" fill="#333" opacity="0.7"/>
<circle cx="99.0" cy="348.5" r="0.4" fill="#333" opacity="0.7"/>
<circle cx="100.1" cy="354.3" r="0.4" fill="#333" opacity="0.7"/>
<circle cx="102.6" cy="350.1" r="0.4" fill="#333" opacity="0.7"/>
<circle cx="96.6" cy="353.0" r="0.4" fill="#333" opacity="0.7"/>
<circle cx="100.7" cy="353.7" r="0.4" fill="#333" opacity="0.7"/>
<circle cx="100.8" cy="355.1" r="0.4" fill="#333" opacity="0.7"/>
<circle cx="96.0" cy="353.2" r="0.4" fill="#333" opacity="0.7"/>
<circle cx="96.8" cy="355.1" r="0.4" fill="#333" opacity="0.7"/>
<circle cx="102.4" cy="350.3" r="0.4" fill="#333" opacity="0.7"/>
<circle cx="97.5" cy="355.8" r="0.4" fill="#333" opacity="0.7"/>
<circle cx="94.7" cy="353.2" r="0.4" fill="#333" opacity="0.7"/>
<circle cx="95.1" cy="351.5" r="0.4" fill="#333" opacity="0.7"/>
<circle cx="100.2" cy="353.7" r="0.4" fill="#333" opacity="0.7"/>
<circle cx="96.4" cy="356.4" r="0.4" fill="#333" opacity="0.7"/>
<circle cx="100.5" cy="351.6" r="0.4" fill="#333" opacity="0.7"/>
<circle cx="100.5" cy="350.2" r="0.4" fill="#333" opacity="0.7"/>
<circle cx="97.5" cy="354.1" r="0.4" fill="#333" opacity="0.7"/>
<circle cx="96.9" cy="354.7" r="0.4" fill="#333" opacity="0.7"/>
<circle cx="95.2" cy="348.0" r="0.4" fill="#333" opacity="0.7"/>
<circle cx="100.1" cy="353.5" r="0.4" fill="#333" opacity="0.7"/>
<circle cx="95.4" cy="350.9" r="0.4" fill="#333" opacity="0.7"/>
<circle cx="95.0" cy="350.9" r="0.4" fill="#333" opacity="0.7"/>
<circle cx="97.7" cy="349.3" r="0.4" fill="#333" opacity="0.7"/>
<circle cx="97.7" cy="355.5" r="0.4" fill="#333" opacity="0.7"/>
<circle cx="99.4" cy="350.1" r="0.4" fill="#333" opacity="0.7"/>
<circle cx="98.4" cy="348.2" r="0.4" fill="#333" opacity="0.7"/>
<circle cx="96.9" cy="348.0" r="0.4" fill="#333" opacity="0.7"/>
<circle cx="100.1" cy="349.9" r="0.4" fill="#333" opacity="0.7"/>
<circle cx="99.2" cy="349.6" r="0.4" fill="#333" opacity="0.7"/>
<circle cx="98.9" cy="349.4" r="0.4" fill="#333" opacity="0.7"/>
<circle cx="96.9" cy="348.9" r="0.4" fill="#333" opacity="0.7"/>
<circle cx="98.3" cy="348.8" r="0.4" fill="#333" opacity="0.7"/>
</g>
<text transform="translate(56.2,313.6) skewX(-12)" font-size="7.4" fill="#222" textLength="29" lengthAdjust="spacingAndGlyphs" stroke="#222" stroke-width="0.15">Jak1 +/+</text>
<g clip-path="url(#c2)">
<rect x="127.20" y="304.10" width="71.50" height="55.00" fill="url(#pg1)" />
<circle cx="161.4" cy="334.3" r="0.55" fill="#a8a8a8" opacity="0.43"/>
<circle cx="138.2" cy="336.3" r="0.71" fill="#a8a8a8" opacity="0.33"/>
<circle cx="143.6" cy="349.2" r="0.70" fill="#a8a8a8" opacity="0.57"/>
<circle cx="129.0" cy="343.8" r="0.79" fill="#a8a8a8" opacity="0.70"/>
<circle cx="177.3" cy="306.8" r="0.72" fill="#a8a8a8" opacity="0.39"/>
<circle cx="173.4" cy="356.5" r="0.66" fill="#a8a8a8" opacity="0.35"/>
<circle cx="148.1" cy="354.6" r="0.37" fill="#a8a8a8" opacity="0.54"/>
<circle cx="156.8" cy="313.0" r="0.61" fill="#a8a8a8" opacity="0.32"/>
<circle cx="134.9" cy="325.0" r="0.34" fill="#a8a8a8" opacity="0.32"/>
<circle cx="168.3" cy="344.9" r="0.74" fill="#a8a8a8" opacity="0.35"/>
<circle cx="158.1" cy="321.4" r="0.60" fill="#a8a8a8" opacity="0.50"/>
<circle cx="194.3" cy="324.7" r="0.33" fill="#a8a8a8" opacity="0.58"/>
<circle cx="138.0" cy="338.8" r="0.55" fill="#a8a8a8" opacity="0.66"/>
<circle cx="166.9" cy="338.2" r="0.43" fill="#a8a8a8" opacity="0.52"/>
<circle cx="145.4" cy="345.4" r="0.56" fill="#a8a8a8" opacity="0.35"/>
<circle cx="144.0" cy="324.5" r="0.67" fill="#a8a8a8" opacity="0.37"/>
<circle cx="178.2" cy="340.1" r="0.34" fill="#a8a8a8" opacity="0.57"/>
<circle cx="133.7" cy="311.0" r="0.60" fill="#a8a8a8" opacity="0.40"/>
<circle cx="189.9" cy="330.5" r="0.46" fill="#a8a8a8" opacity="0.62"/>
<circle cx="129.3" cy="344.0" r="0.33" fill="#a8a8a8" opacity="0.36"/>
<circle cx="195.3" cy="341.6" r="0.41" fill="#a8a8a8" opacity="0.35"/>
<circle cx="196.7" cy="340.7" r="0.71" fill="#a8a8a8" opacity="0.36"/>
<circle cx="171.9" cy="323.6" r="0.42" fill="#a8a8a8" opacity="0.43"/>
<circle cx="171.1" cy="323.3" r="0.49" fill="#a8a8a8" opacity="0.35"/>
<circle cx="186.6" cy="339.7" r="0.70" fill="#a8a8a8" opacity="0.47"/>
<circle cx="188.1" cy="332.6" r="0.60" fill="#a8a8a8" opacity="0.53"/>
<circle cx="180.1" cy="325.9" r="0.35" fill="#a8a8a8" opacity="0.31"/>
<circle cx="141.7" cy="306.3" r="0.74" fill="#a8a8a8" opacity="0.49"/>
<circle cx="181.6" cy="304.1" r="0.54" fill="#a8a8a8" opacity="0.66"/>
<circle cx="171.5" cy="327.7" r="0.53" fill="#a8a8a8" opacity="0.34"/>
<circle cx="138.3" cy="312.8" r="0.49" fill="#a8a8a8" opacity="0.45"/>
<circle cx="190.1" cy="312.5" r="0.43" fill="#a8a8a8" opacity="0.41"/>
<circle cx="138.7" cy="319.9" r="0.42" fill="#a8a8a8" opacity="0.49"/>
<circle cx="129.5" cy="354.9" r="0.48" fill="#a8a8a8" opacity="0.68"/>
<ellipse cx="160.2" cy="337.8" rx="7" ry="6.4" fill="#666" opacity="0.5" filter="url(#b3)"/>
<ellipse cx="160" cy="337.8" rx="3.2" ry="2.8" fill="#333" opacity="0.6" filter="url(#b2)"/>
<circle cx="159.2" cy="335.4" r="0.58" fill="#2e2e2e" opacity="0.45"/>
<circle cx="157.6" cy="333.5" r="0.39" fill="#2e2e2e" opacity="0.67"/>
<circle cx="160.0" cy="336.1" r="0.31" fill="#2e2e2e" opacity="0.49"/>
<circle cx="162.8" cy="339.1" r="0.42" fill="#2e2e2e" opacity="0.79"/>
<circle cx="158.7" cy="339.4" r="0.38" fill="#2e2e2e" opacity="0.69"/>
<circle cx="159.1" cy="332.8" r="0.35" fill="#2e2e2e" opacity="0.50"/>
<circle cx="156.9" cy="332.0" r="0.43" fill="#2e2e2e" opacity="0.79"/>
<circle cx="162.9" cy="337.9" r="0.32" fill="#2e2e2e" opacity="0.71"/>
<circle cx="154.9" cy="341.0" r="0.60" fill="#2e2e2e" opacity="0.61"/>
<circle cx="159.1" cy="339.2" r="0.33" fill="#2e2e2e" opacity="0.43"/>
<circle cx="170.0" cy="330.9" r="0.32" fill="#2e2e2e" opacity="0.50"/>
<circle cx="160.8" cy="338.0" r="0.42" fill="#2e2e2e" opacity="0.42"/>
<circle cx="160.1" cy="341.3" r="0.32" fill="#2e2e2e" opacity="0.42"/>
<circle cx="162.6" cy="337.4" r="0.35" fill="#2e2e2e" opacity="0.60"/>
<circle cx="158.4" cy="339.0" r="0.39" fill="#2e2e2e" opacity="0.44"/>
<circle cx="159.8" cy="337.7" r="0.58" fill="#2e2e2e" opacity="0.64"/>
<circle cx="160.3" cy="337.6" r="0.46" fill="#2e2e2e" opacity="0.59"/>
<circle cx="159.3" cy="337.4" r="0.41" fill="#2e2e2e" opacity="0.65"/>
<circle cx="159.6" cy="334.2" r="0.43" fill="#2e2e2e" opacity="0.73"/>
<circle cx="160.6" cy="340.0" r="0.33" fill="#2e2e2e" opacity="0.52"/>
<circle cx="161.4" cy="338.5" r="0.39" fill="#2e2e2e" opacity="0.45"/>
<circle cx="168.5" cy="342.3" r="0.37" fill="#2e2e2e" opacity="0.43"/>
<circle cx="157.1" cy="339.2" r="0.32" fill="#2e2e2e" opacity="0.68"/>
<circle cx="161.9" cy="338.3" r="0.36" fill="#2e2e2e" opacity="0.51"/>
<circle cx="157.1" cy="340.8" r="0.39" fill="#2e2e2e" opacity="0.70"/>
<circle cx="157.2" cy="336.8" r="0.57" fill="#2e2e2e" opacity="0.66"/>
<circle cx="160.5" cy="333.0" r="0.55" fill="#2e2e2e" opacity="0.66"/>
<circle cx="162.6" cy="337.1" r="0.52" fill="#2e2e2e" opacity="0.68"/>
<circle cx="160.0" cy="339.6" r="0.34" fill="#2e2e2e" opacity="0.43"/>
<circle cx="162.5" cy="341.7" r="0.38" fill="#2e2e2e" opacity="0.67"/>
<circle cx="158.4" cy="345.3" r="0.47" fill="#2e2e2e" opacity="0.41"/>
<circle cx="163.5" cy="338.8" r="0.34" fill="#2e2e2e" opacity="0.54"/>
<circle cx="164.5" cy="332.8" r="0.37" fill="#2e2e2e" opacity="0.57"/>
<circle cx="158.7" cy="339.4" r="0.40" fill="#2e2e2e" opacity="0.40"/>
<circle cx="156.8" cy="335.9" r="0.33" fill="#2e2e2e" opacity="0.61"/>
<circle cx="163.7" cy="344.0" r="0.51" fill="#2e2e2e" opacity="0.58"/>
<circle cx="160.9" cy="337.5" r="0.40" fill="#2e2e2e" opacity="0.77"/>
<circle cx="157.8" cy="338.4" r="0.43" fill="#2e2e2e" opacity="0.58"/>
<circle cx="160.8" cy="332.2" r="0.59" fill="#2e2e2e" opacity="0.64"/>
<circle cx="162.2" cy="339.2" r="0.54" fill="#2e2e2e" opacity="0.57"/>
<circle cx="161.5" cy="338.2" r="0.47" fill="#2e2e2e" opacity="0.59"/>
<circle cx="160.3" cy="337.7" r="0.42" fill="#2e2e2e" opacity="0.49"/>
<circle cx="159.9" cy="339.7" r="0.41" fill="#2e2e2e" opacity="0.70"/>
<circle cx="160.5" cy="343.8" r="0.41" fill="#2e2e2e" opacity="0.50"/>
<circle cx="165.6" cy="337.2" r="0.49" fill="#2e2e2e" opacity="0.56"/>
<circle cx="165.5" cy="344.2" r="0.55" fill="#2e2e2e" opacity="0.60"/>
<circle cx="161.3" cy="338.1" r="0.52" fill="#2e2e2e" opacity="0.76"/>
<circle cx="160.8" cy="339.7" r="0.54" fill="#2e2e2e" opacity="0.53"/>
<circle cx="158.3" cy="333.7" r="0.54" fill="#2e2e2e" opacity="0.55"/>
<circle cx="165.7" cy="338.1" r="0.45" fill="#2e2e2e" opacity="0.63"/>
<circle cx="161.6" cy="340.8" r="0.31" fill="#2e2e2e" opacity="0.52"/>
<circle cx="158.0" cy="339.7" r="0.44" fill="#2e2e2e" opacity="0.68"/>
<circle cx="152.5" cy="343.1" r="0.58" fill="#2e2e2e" opacity="0.68"/>
<circle cx="159.7" cy="336.9" r="0.46" fill="#2e2e2e" opacity="0.72"/>
<circle cx="156.0" cy="342.5" r="0.46" fill="#2e2e2e" opacity="0.51"/>
<circle cx="164.0" cy="339.7" r="0.33" fill="#2e2e2e" opacity="0.54"/>
<circle cx="159.8" cy="337.6" r="0.39" fill="#2e2e2e" opacity="0.77"/>
<circle cx="158.9" cy="345.5" r="0.51" fill="#2e2e2e" opacity="0.43"/>
<circle cx="160.3" cy="331.8" r="0.57" fill="#2e2e2e" opacity="0.68"/>
<circle cx="166.2" cy="328.6" r="0.52" fill="#2e2e2e" opacity="0.64"/>
<circle cx="163.0" cy="347.9" r="0.37" fill="#2e2e2e" opacity="0.79"/>
<circle cx="159.1" cy="337.5" r="0.42" fill="#2e2e2e" opacity="0.40"/>
<circle cx="157.7" cy="339.8" r="0.57" fill="#2e2e2e" opacity="0.76"/>
<circle cx="155.1" cy="333.6" r="0.42" fill="#2e2e2e" opacity="0.44"/>
<circle cx="157.3" cy="330.9" r="0.41" fill="#2e2e2e" opacity="0.75"/>
<circle cx="160.8" cy="340.3" r="0.39" fill="#2e2e2e" opacity="0.51"/>
<circle cx="158.4" cy="336.1" r="0.49" fill="#2e2e2e" opacity="0.71"/>
<circle cx="160.5" cy="339.6" r="0.32" fill="#2e2e2e" opacity="0.63"/>
<circle cx="163.1" cy="332.8" r="0.43" fill="#2e2e2e" opacity="0.57"/>
<circle cx="154.5" cy="336.8" r="0.57" fill="#2e2e2e" opacity="0.52"/>
<circle cx="158.1" cy="347.8" r="0.36" fill="#2e2e2e" opacity="0.41"/>
<circle cx="166.4" cy="343.1" r="0.47" fill="#2e2e2e" opacity="0.64"/>
<circle cx="161.2" cy="340.0" r="0.49" fill="#2e2e2e" opacity="0.68"/>
<circle cx="159.3" cy="331.7" r="0.32" fill="#2e2e2e" opacity="0.59"/>
<circle cx="162.4" cy="334.2" r="0.56" fill="#2e2e2e" opacity="0.66"/>
<circle cx="161.3" cy="337.3" r="0.37" fill="#2e2e2e" opacity="0.68"/>
<circle cx="161.5" cy="335.9" r="0.36" fill="#2e2e2e" opacity="0.46"/>
<circle cx="160.5" cy="338.0" r="0.35" fill="#2e2e2e" opacity="0.65"/>
<circle cx="160.5" cy="338.1" r="0.54" fill="#2e2e2e" opacity="0.72"/>
<circle cx="158.3" cy="330.0" r="0.58" fill="#2e2e2e" opacity="0.78"/>
<circle cx="158.5" cy="336.2" r="0.33" fill="#2e2e2e" opacity="0.43"/>
<circle cx="160.3" cy="338.3" r="0.41" fill="#2e2e2e" opacity="0.58"/>
<circle cx="160.2" cy="337.7" r="0.42" fill="#2e2e2e" opacity="0.62"/>
<circle cx="158.7" cy="339.3" r="0.34" fill="#2e2e2e" opacity="0.64"/>
<circle cx="158.5" cy="339.5" r="0.59" fill="#2e2e2e" opacity="0.78"/>
<circle cx="165.2" cy="340.1" r="0.53" fill="#2e2e2e" opacity="0.69"/>
<circle cx="158.9" cy="341.8" r="0.41" fill="#2e2e2e" opacity="0.69"/>
<circle cx="163.7" cy="335.9" r="0.41" fill="#2e2e2e" opacity="0.52"/>
<circle cx="157.2" cy="337.8" r="0.47" fill="#2e2e2e" opacity="0.52"/>
<circle cx="155.7" cy="344.8" r="0.55" fill="#2e2e2e" opacity="0.61"/>
<circle cx="163.4" cy="338.8" r="0.50" fill="#2e2e2e" opacity="0.43"/>
<circle cx="160.0" cy="339.5" r="0.33" fill="#2e2e2e" opacity="0.59"/>
<circle cx="165.1" cy="337.3" r="0.58" fill="#2e2e2e" opacity="0.44"/>
<circle cx="159.4" cy="338.8" r="0.54" fill="#2e2e2e" opacity="0.40"/>
<circle cx="160.3" cy="337.2" r="0.38" fill="#2e2e2e" opacity="0.58"/>
<circle cx="159.7" cy="338.3" r="0.46" fill="#2e2e2e" opacity="0.42"/>
<circle cx="161.3" cy="343.0" r="0.44" fill="#2e2e2e" opacity="0.43"/>
<circle cx="160.0" cy="338.6" r="0.59" fill="#2e2e2e" opacity="0.67"/>
<circle cx="155.3" cy="337.6" r="0.53" fill="#2e2e2e" opacity="0.57"/>
<circle cx="158.8" cy="336.9" r="0.57" fill="#2e2e2e" opacity="0.66"/>
<circle cx="159.5" cy="337.0" r="0.53" fill="#2e2e2e" opacity="0.57"/>
<circle cx="160.4" cy="337.6" r="0.55" fill="#2e2e2e" opacity="0.77"/>
<circle cx="153.9" cy="343.5" r="0.57" fill="#2e2e2e" opacity="0.46"/>
<circle cx="160.2" cy="337.8" r="0.43" fill="#2e2e2e" opacity="0.79"/>
<circle cx="161.3" cy="337.8" r="0.38" fill="#2e2e2e" opacity="0.59"/>
<circle cx="159.0" cy="342.7" r="0.50" fill="#2e2e2e" opacity="0.45"/>
<circle cx="161.2" cy="339.4" r="0.41" fill="#2e2e2e" opacity="0.76"/>
<circle cx="160.6" cy="337.5" r="0.36" fill="#2e2e2e" opacity="0.41"/>
<circle cx="163.4" cy="332.1" r="0.34" fill="#2e2e2e" opacity="0.49"/>
<circle cx="161.7" cy="337.0" r="0.58" fill="#2e2e2e" opacity="0.41"/>
<circle cx="161.7" cy="341.0" r="0.53" fill="#2e2e2e" opacity="0.55"/>
<circle cx="160.5" cy="336.1" r="0.35" fill="#2e2e2e" opacity="0.61"/>
<circle cx="160.9" cy="337.7" r="0.33" fill="#2e2e2e" opacity="0.66"/>
<circle cx="158.7" cy="339.2" r="0.41" fill="#2e2e2e" opacity="0.59"/>
<circle cx="156.9" cy="336.0" r="0.47" fill="#2e2e2e" opacity="0.51"/>
<circle cx="159.4" cy="337.6" r="0.52" fill="#2e2e2e" opacity="0.45"/>
<circle cx="160.0" cy="337.8" r="0.53" fill="#2e2e2e" opacity="0.57"/>
<circle cx="159.6" cy="337.8" r="0.48" fill="#2e2e2e" opacity="0.72"/>
<circle cx="161.6" cy="338.3" r="0.42" fill="#2e2e2e" opacity="0.54"/>
<circle cx="160.2" cy="337.8" r="0.39" fill="#2e2e2e" opacity="0.58"/>
<circle cx="157.7" cy="334.3" r="0.46" fill="#2e2e2e" opacity="0.69"/>
<circle cx="162.3" cy="337.0" r="0.58" fill="#2e2e2e" opacity="0.80"/>
<circle cx="158.3" cy="343.2" r="0.32" fill="#2e2e2e" opacity="0.58"/>
<circle cx="159.3" cy="327.9" r="0.46" fill="#2e2e2e" opacity="0.56"/>
<circle cx="162.0" cy="336.9" r="0.55" fill="#2e2e2e" opacity="0.46"/>
<circle cx="156.5" cy="342.6" r="0.45" fill="#2e2e2e" opacity="0.63"/>
<circle cx="160.7" cy="339.4" r="0.33" fill="#2e2e2e" opacity="0.54"/>
<circle cx="160.5" cy="338.2" r="0.59" fill="#2e2e2e" opacity="0.51"/>
<circle cx="159.9" cy="339.5" r="0.38" fill="#2e2e2e" opacity="0.73"/>
<circle cx="154.3" cy="332.2" r="0.42" fill="#2e2e2e" opacity="0.65"/>
<circle cx="160.2" cy="338.6" r="0.43" fill="#2e2e2e" opacity="0.76"/>
<circle cx="164.9" cy="346.8" r="0.34" fill="#2e2e2e" opacity="0.42"/>
<circle cx="160.2" cy="337.2" r="0.31" fill="#2e2e2e" opacity="0.73"/>
<circle cx="159.9" cy="337.8" r="0.56" fill="#2e2e2e" opacity="0.42"/>
<circle cx="155.0" cy="334.7" r="0.48" fill="#2e2e2e" opacity="0.64"/>
<circle cx="161.2" cy="343.0" r="0.58" fill="#2e2e2e" opacity="0.44"/>
<circle cx="161.1" cy="338.1" r="0.32" fill="#2e2e2e" opacity="0.58"/>
<circle cx="159.0" cy="336.2" r="0.57" fill="#2e2e2e" opacity="0.69"/>
<circle cx="165.9" cy="340.3" r="0.34" fill="#2e2e2e" opacity="0.70"/>
<circle cx="159.8" cy="345.2" r="0.39" fill="#2e2e2e" opacity="0.40"/>
<circle cx="160.8" cy="327.2" r="0.44" fill="#2e2e2e" opacity="0.46"/>
<circle cx="160.4" cy="338.8" r="0.38" fill="#2e2e2e" opacity="0.78"/>
<circle cx="161.3" cy="341.6" r="0.32" fill="#2e2e2e" opacity="0.57"/>
<circle cx="158.4" cy="336.1" r="0.50" fill="#2e2e2e" opacity="0.47"/>
<circle cx="165.3" cy="343.6" r="0.43" fill="#2e2e2e" opacity="0.63"/>
<circle cx="160.6" cy="337.6" r="0.34" fill="#2e2e2e" opacity="0.51"/>
<circle cx="149.3" cy="338.2" r="0.47" fill="#2e2e2e" opacity="0.66"/>
<circle cx="158.0" cy="339.0" r="0.54" fill="#2e2e2e" opacity="0.73"/>
<circle cx="159.4" cy="340.7" r="0.41" fill="#2e2e2e" opacity="0.76"/>
<circle cx="160.0" cy="340.2" r="0.49" fill="#2e2e2e" opacity="0.66"/>
<circle cx="166.6" cy="336.1" r="0.40" fill="#2e2e2e" opacity="0.44"/>
<circle cx="156.2" cy="333.6" r="0.55" fill="#2e2e2e" opacity="0.63"/>
<circle cx="165.0" cy="339.3" r="0.49" fill="#2e2e2e" opacity="0.69"/>
<circle cx="160.1" cy="338.6" r="0.42" fill="#2e2e2e" opacity="0.53"/>
<circle cx="166.5" cy="341.9" r="0.42" fill="#2e2e2e" opacity="0.75"/>
<circle cx="163.2" cy="339.0" r="0.39" fill="#2e2e2e" opacity="0.47"/>
<circle cx="162.8" cy="336.9" r="0.45" fill="#2e2e2e" opacity="0.44"/>
<circle cx="150.9" cy="342.9" r="0.37" fill="#2e2e2e" opacity="0.41"/>
<circle cx="159.6" cy="337.6" r="0.45" fill="#2e2e2e" opacity="0.77"/>
<circle cx="162.5" cy="337.0" r="0.44" fill="#2e2e2e" opacity="0.44"/>
<circle cx="160.8" cy="333.2" r="0.33" fill="#2e2e2e" opacity="0.79"/>
<circle cx="156.1" cy="336.7" r="0.43" fill="#2e2e2e" opacity="0.51"/>
<circle cx="155.1" cy="336.2" r="0.36" fill="#2e2e2e" opacity="0.61"/>
<circle cx="161.0" cy="337.4" r="0.41" fill="#2e2e2e" opacity="0.65"/>
<circle cx="164.0" cy="335.8" r="0.46" fill="#2e2e2e" opacity="0.46"/>
<circle cx="168.2" cy="340.4" r="0.58" fill="#2e2e2e" opacity="0.59"/>
<circle cx="154.7" cy="339.8" r="0.45" fill="#2e2e2e" opacity="0.51"/>
<circle cx="160.1" cy="334.6" r="0.38" fill="#2e2e2e" opacity="0.59"/>
<circle cx="160.3" cy="335.7" r="0.36" fill="#2e2e2e" opacity="0.68"/>
<circle cx="160.0" cy="336.2" r="0.33" fill="#2e2e2e" opacity="0.80"/>
<circle cx="160.9" cy="338.6" r="0.43" fill="#2e2e2e" opacity="0.65"/>
<circle cx="161.4" cy="336.3" r="0.35" fill="#2e2e2e" opacity="0.68"/>
<circle cx="162.9" cy="339.8" r="0.41" fill="#2e2e2e" opacity="0.42"/>
<circle cx="159.8" cy="336.0" r="0.34" fill="#2e2e2e" opacity="0.71"/>
<circle cx="157.0" cy="342.9" r="0.45" fill="#2e2e2e" opacity="0.75"/>
<circle cx="163.7" cy="335.9" r="0.38" fill="#2e2e2e" opacity="0.53"/>
<circle cx="162.8" cy="335.4" r="0.42" fill="#2e2e2e" opacity="0.79"/>
<circle cx="163.0" cy="340.6" r="0.50" fill="#2e2e2e" opacity="0.70"/>
<circle cx="158.5" cy="326.1" r="0.39" fill="#2e2e2e" opacity="0.74"/>
<circle cx="160.2" cy="337.7" r="0.43" fill="#2e2e2e" opacity="0.74"/>
<circle cx="158.2" cy="334.0" r="0.45" fill="#2e2e2e" opacity="0.68"/>
<circle cx="154.8" cy="333.3" r="0.54" fill="#2e2e2e" opacity="0.46"/>
<circle cx="151.0" cy="338.1" r="0.53" fill="#2e2e2e" opacity="0.73"/>
<circle cx="160.3" cy="337.8" r="0.46" fill="#2e2e2e" opacity="0.59"/>
<circle cx="163.2" cy="340.5" r="0.56" fill="#2e2e2e" opacity="0.50"/>
<circle cx="164.2" cy="330.7" r="0.42" fill="#2e2e2e" opacity="0.66"/>
<circle cx="160.2" cy="337.9" r="0.50" fill="#2e2e2e" opacity="0.63"/>
<circle cx="160.2" cy="337.1" r="0.45" fill="#2e2e2e" opacity="0.57"/>
<circle cx="160.0" cy="338.2" r="0.48" fill="#2e2e2e" opacity="0.70"/>
<circle cx="155.5" cy="339.4" r="0.51" fill="#2e2e2e" opacity="0.42"/>
<circle cx="160.1" cy="339.3" r="0.32" fill="#2e2e2e" opacity="0.41"/>
<circle cx="160.4" cy="335.5" r="0.33" fill="#2e2e2e" opacity="0.58"/>
<circle cx="158.4" cy="338.5" r="0.46" fill="#2e2e2e" opacity="0.41"/>
<circle cx="161.8" cy="332.7" r="0.53" fill="#2e2e2e" opacity="0.65"/>
<circle cx="163.4" cy="332.7" r="0.56" fill="#2e2e2e" opacity="0.65"/>
<circle cx="165.6" cy="338.5" r="0.57" fill="#2e2e2e" opacity="0.80"/>
<circle cx="161.5" cy="341.7" r="0.33" fill="#2e2e2e" opacity="0.55"/>
<circle cx="161.8" cy="338.8" r="0.37" fill="#2e2e2e" opacity="0.40"/>
<circle cx="157.9" cy="338.9" r="0.42" fill="#2e2e2e" opacity="0.47"/>
<circle cx="167.8" cy="335.6" r="0.57" fill="#2e2e2e" opacity="0.68"/>
<circle cx="161.2" cy="342.1" r="0.42" fill="#2e2e2e" opacity="0.41"/>
<circle cx="157.1" cy="338.7" r="0.53" fill="#2e2e2e" opacity="0.68"/>
<circle cx="162.5" cy="335.2" r="0.56" fill="#2e2e2e" opacity="0.77"/>
<circle cx="162.3" cy="330.4" r="0.42" fill="#2e2e2e" opacity="0.66"/>
<circle cx="156.9" cy="332.9" r="0.43" fill="#2e2e2e" opacity="0.48"/>
<circle cx="157.6" cy="342.4" r="0.38" fill="#2e2e2e" opacity="0.67"/>
<circle cx="160.5" cy="335.6" r="0.55" fill="#2e2e2e" opacity="0.55"/>
<circle cx="165.2" cy="341.0" r="0.48" fill="#2e2e2e" opacity="0.54"/>
<circle cx="160.3" cy="337.9" r="0.34" fill="#2e2e2e" opacity="0.57"/>
<circle cx="160.7" cy="338.1" r="0.30" fill="#2e2e2e" opacity="0.62"/>
</g>
<text transform="translate(136.6,312.9) skewX(-12)" font-size="7.4" fill="#222" textLength="24.3" lengthAdjust="spacingAndGlyphs" stroke="#222" stroke-width="0.15">Jak1 -/-</text>
<g clip-path="url(#c3)">
<rect x="42.20" y="375.00" width="71.50" height="54.20" fill="url(#pg2)" />
<g filter="url(#b1)">
<circle cx="47.9" cy="386.29999999999995" r="3.4" fill="#8a8ec8"/>
<circle cx="47.9" cy="386.29999999999995" r="2.50" fill="#9a86c8"/>
<circle cx="47.06" cy="385.74" r="2.26" fill="#7c38a4"/>
<circle cx="46.70" cy="385.50" r="1.04" fill="#8c44b2" opacity="0.5"/>
<circle cx="63.300000000000004" cy="392.09999999999997" r="3.0" fill="#8a8ec8"/>
<circle cx="63.300000000000004" cy="392.09999999999997" r="2.10" fill="#9a86c8"/>
<circle cx="62.46" cy="391.54" r="1.95" fill="#7c38a4"/>
<circle cx="62.10" cy="391.30" r="0.90" fill="#8c44b2" opacity="0.5"/>
<circle cx="70.6" cy="394.29999999999995" r="4.7" fill="#8a8ec8"/>
<circle cx="70.6" cy="394.29999999999995" r="3.80" fill="#9a86c8"/>
<circle cx="69.76" cy="393.74" r="3.28" fill="#7c38a4"/>
<circle cx="69.40" cy="393.50" r="1.51" fill="#8c44b2" opacity="0.5"/>
<circle cx="78.89999999999999" cy="388.79999999999995" r="5.0" fill="#8a8ec8"/>
<circle cx="78.89999999999999" cy="388.79999999999995" r="4.10" fill="#9a86c8"/>
<circle cx="78.06" cy="388.24" r="3.51" fill="#7c38a4"/>
<circle cx="77.70" cy="388.00" r="1.62" fill="#8c44b2" opacity="0.5"/>
<circle cx="86.6" cy="388.79999999999995" r="5.0" fill="#8a8ec8"/>
<circle cx="86.6" cy="388.79999999999995" r="4.10" fill="#9a86c8"/>
<circle cx="85.76" cy="388.24" r="3.51" fill="#7c38a4"/>
<circle cx="85.40" cy="388.00" r="1.62" fill="#8c44b2" opacity="0.5"/>
<circle cx="86.39999999999999" cy="399.2" r="4.4" fill="#8a8ec8"/>
<circle cx="86.39999999999999" cy="399.2" r="3.50" fill="#9a86c8"/>
<circle cx="85.56" cy="398.64" r="3.04" fill="#7c38a4"/>
<circle cx="85.20" cy="398.40" r="1.40" fill="#8c44b2" opacity="0.5"/>
<circle cx="90.6" cy="401.0" r="4.6" fill="#8a8ec8"/>
<circle cx="90.6" cy="401.0" r="3.70" fill="#9a86c8"/>
<circle cx="89.76" cy="400.44" r="3.20" fill="#7c38a4"/>
<circle cx="89.40" cy="400.20" r="1.48" fill="#8c44b2" opacity="0.5"/>
<circle cx="82.0" cy="405.29999999999995" r="4.9" fill="#8a8ec8"/>
<circle cx="82.0" cy="405.29999999999995" r="4.00" fill="#9a86c8"/>
<circle cx="81.16" cy="404.74" r="3.43" fill="#7c38a4"/>
<circle cx="80.80" cy="404.50" r="1.58" fill="#8c44b2" opacity="0.5"/>
<circle cx="81.5" cy="417.7" r="4.3" fill="#8a8ec8"/>
<circle cx="81.5" cy="417.7" r="3.40" fill="#9a86c8"/>
<circle cx="80.66" cy="417.14" r="2.96" fill="#7c38a4"/>
<circle cx="80.30" cy="416.90" r="1.37" fill="#8c44b2" opacity="0.5"/>
</g>
<ellipse cx="48.8" cy="412.9" rx="4.4" ry="3.2" fill="#a055b2" opacity="0.9" filter="url(#b2)" transform="rotate(30 48.8 412.9)"/>
</g>
<g clip-path="url(#c4)">
<rect x="127.20" y="375.00" width="71.50" height="54.20" fill="url(#pg2b)" />
<g filter="url(#b1)">
<circle cx="152.8" cy="375.7" r="4.3" fill="#6a70cc"/>
<circle cx="152.8" cy="375.7" r="3.30" fill="#5a42b0"/>
<circle cx="154.7" cy="375.2" r="0.5" fill="#8a78d0" opacity="0.8"/>
<circle cx="151.8" cy="377.7" r="0.5" fill="#8a78d0" opacity="0.8"/>
<circle cx="153.1" cy="375.9" r="0.5" fill="#8a78d0" opacity="0.8"/>
<circle cx="152.9" cy="375.7" r="0.5" fill="#8a78d0" opacity="0.8"/>
<circle cx="151.3" cy="374.6" r="0.5" fill="#8a78d0" opacity="0.8"/>
<circle cx="150.9" cy="376.0" r="0.5" fill="#8a78d0" opacity="0.8"/>
<circle cx="150.7" cy="376.4" r="0.5" fill="#8a78d0" opacity="0.8"/>
<circle cx="151.8" cy="374.9" r="0.5" fill="#8a78d0" opacity="0.8"/>
<circle cx="181.3" cy="380" r="4.6" fill="#6a70cc"/>
<circle cx="181.3" cy="380" r="3.60" fill="#5a42b0"/>
<circle cx="181.8" cy="381.0" r="0.5" fill="#8a78d0" opacity="0.8"/>
<circle cx="179.3" cy="380.8" r="0.5" fill="#8a78d0" opacity="0.8"/>
<circle cx="181.4" cy="380.8" r="0.5" fill="#8a78d0" opacity="0.8"/>
<circle cx="181.4" cy="379.8" r="0.5" fill="#8a78d0" opacity="0.8"/>
<circle cx="180.7" cy="379.9" r="0.5" fill="#8a78d0" opacity="0.8"/>
<circle cx="180.5" cy="378.7" r="0.5" fill="#8a78d0" opacity="0.8"/>
<circle cx="182.9" cy="381.1" r="0.5" fill="#8a78d0" opacity="0.8"/>
<circle cx="180.6" cy="380.5" r="0.5" fill="#8a78d0" opacity="0.8"/>
<circle cx="155" cy="397.6" r="5.1" fill="#8388d0"/>
<circle cx="155" cy="397.6" r="4.20" fill="#9d98d6"/>
<circle cx="155.4" cy="397.8" r="2.98" fill="#6c40b0" filter="url(#b05)"/>
<circle cx="131.6" cy="417.3" r="5.5" fill="#6a70cc"/>
<circle cx="131.6" cy="417.3" r="4.50" fill="#5a42b0"/>
<circle cx="133.1" cy="415.4" r="0.5" fill="#8a78d0" opacity="0.8"/>
<circle cx="130.8" cy="419.3" r="0.5" fill="#8a78d0" opacity="0.8"/>
<circle cx="132.8" cy="418.4" r="0.5" fill="#8a78d0" opacity="0.8"/>
<circle cx="133.3" cy="418.3" r="0.5" fill="#8a78d0" opacity="0.8"/>
<circle cx="133.3" cy="416.3" r="0.5" fill="#8a78d0" opacity="0.8"/>
<circle cx="133.1" cy="417.7" r="0.5" fill="#8a78d0" opacity="0.8"/>
<circle cx="130.2" cy="417.6" r="0.5" fill="#8a78d0" opacity="0.8"/>
<circle cx="132.1" cy="418.0" r="0.5" fill="#8a78d0" opacity="0.8"/>
<circle cx="166.7" cy="424.6" r="5.1" fill="#6a70cc"/>
<circle cx="166.7" cy="424.6" r="4.10" fill="#5a42b0"/>
<circle cx="166.5" cy="424.7" r="0.5" fill="#8a78d0" opacity="0.8"/>
<circle cx="166.4" cy="424.0" r="0.5" fill="#8a78d0" opacity="0.8"/>
<circle cx="166.6" cy="424.9" r="0.5" fill="#8a78d0" opacity="0.8"/>
<circle cx="165.8" cy="427.1" r="0.5" fill="#8a78d0" opacity="0.8"/>
<circle cx="166.6" cy="424.9" r="0.5" fill="#8a78d0" opacity="0.8"/>
<circle cx="165.2" cy="426.8" r="0.5" fill="#8a78d0" opacity="0.8"/>
<circle cx="167.5" cy="425.1" r="0.5" fill="#8a78d0" opacity="0.8"/>
<circle cx="167.2" cy="426.5" r="0.5" fill="#8a78d0" opacity="0.8"/>
</g>
<path d="M168.6,396 L176,391.5 L173.5,400 L175.5,409 L171,411.5 L167.4,405.5 Z" fill="#b57abc" opacity="0.85" filter="url(#b2)"/>
<ellipse cx="169.6" cy="405" rx="2" ry="2.6" fill="#a050b0" opacity="0.7" filter="url(#b1)"/>
</g>
<rect x="248.60" y="304.00" width="124.70" height="117.40" fill="#ffffff" />
<line x1="248.60" y1="306.40" x2="373.30" y2="306.40" stroke="#e4e4e4" stroke-width="0.5" />
<line x1="248.60" y1="313.25" x2="373.30" y2="313.25" stroke="#e4e4e4" stroke-width="0.5" />
<line x1="248.60" y1="320.10" x2="373.30" y2="320.10" stroke="#e4e4e4" stroke-width="0.5" />
<line x1="248.60" y1="326.95" x2="373.30" y2="326.95" stroke="#e4e4e4" stroke-width="0.5" />
<line x1="248.60" y1="333.80" x2="373.30" y2="333.80" stroke="#e4e4e4" stroke-width="0.5" />
<line x1="248.60" y1="340.65" x2="373.30" y2="340.65" stroke="#e4e4e4" stroke-width="0.5" />
<line x1="248.60" y1="347.50" x2="373.30" y2="347.50" stroke="#e4e4e4" stroke-width="0.5" />
<line x1="248.60" y1="354.35" x2="373.30" y2="354.35" stroke="#e4e4e4" stroke-width="0.5" />
<line x1="272.90" y1="304.00" x2="272.90" y2="361.00" stroke="#e4e4e4" stroke-width="0.5" />
<line x1="272.90" y1="384.00" x2="272.90" y2="421.40" stroke="#e4e4e4" stroke-width="0.5" />
<line x1="297.20" y1="304.00" x2="297.20" y2="361.00" stroke="#e4e4e4" stroke-width="0.5" />
<line x1="297.20" y1="384.00" x2="297.20" y2="421.40" stroke="#e4e4e4" stroke-width="0.5" />
<line x1="321.50" y1="304.00" x2="321.50" y2="361.00" stroke="#e4e4e4" stroke-width="0.5" />
<line x1="321.50" y1="384.00" x2="321.50" y2="421.40" stroke="#e4e4e4" stroke-width="0.5" />
<line x1="345.80" y1="304.00" x2="345.80" y2="361.00" stroke="#e4e4e4" stroke-width="0.5" />
<line x1="345.80" y1="384.00" x2="345.80" y2="421.40" stroke="#e4e4e4" stroke-width="0.5" />
<line x1="370.10" y1="304.00" x2="370.10" y2="361.00" stroke="#e4e4e4" stroke-width="0.5" />
<line x1="370.10" y1="384.00" x2="370.10" y2="421.40" stroke="#e4e4e4" stroke-width="0.5" />
<polyline fill="none" stroke="#5fb336" stroke-width="1.15" stroke-linejoin="round" points="248.6,347.5 248.7,337.0 249.0,329.0 249.8,321.0 251.0,313.6 252.2,311.2 253.5,309.5 255.3,307.8 257.3,306.7 259.2,306.1 261.2,305.9 264.0,306.1 267.0,306.7 271.0,308.0 276.0,309.9 280.4,311.6 288.0,316.0 296.7,321.2 305.0,326.0 313.1,330.8 321.0,335.6 329.4,340.6 338.0,345.6 345.8,350.0 352.0,353.4 357.0,355.8 360.5,357.0 363.0,357.5 364.6,357.3 365.6,356.2 366.3,353.6 366.8,350.5 367.3,347.5"/>
<text x="259.80" y="327.60" font-size="8.3" text-anchor="start" fill="#111" font-weight="bold" font-style="italic" textLength="102.2" lengthAdjust="spacingAndGlyphs" >CALM-AF10 target genes</text>
<text x="259.80" y="343.00" font-size="8.3" text-anchor="start" fill="#111" textLength="38.8" lengthAdjust="spacingAndGlyphs" >NES: 1.47</text>
<text x="259.80" y="353.80" font-size="8.3" text-anchor="start" fill="#111" textLength="69.8" lengthAdjust="spacingAndGlyphs" >FDR q-value: 0.01</text>
<line x1="245.00" y1="306.40" x2="248.60" y2="306.40" stroke="#222" stroke-width="1.0" />
<text x="241.20" y="308.10" font-size="4.8" text-anchor="end" fill="#333" textLength="6.9" lengthAdjust="spacingAndGlyphs" >0.6</text>
<line x1="245.00" y1="313.25" x2="248.60" y2="313.25" stroke="#222" stroke-width="1.0" />
<text x="241.20" y="314.95" font-size="4.8" text-anchor="end" fill="#333" textLength="6.9" lengthAdjust="spacingAndGlyphs" >0.5</text>
<line x1="245.00" y1="320.10" x2="248.60" y2="320.10" stroke="#222" stroke-width="1.0" />
<text x="241.20" y="321.80" font-size="4.8" text-anchor="end" fill="#333" textLength="6.9" lengthAdjust="spacingAndGlyphs" >0.4</text>
<line x1="245.00" y1="326.95" x2="248.60" y2="326.95" stroke="#222" stroke-width="1.0" />
<text x="241.20" y="328.65" font-size="4.8" text-anchor="end" fill="#333" textLength="6.9" lengthAdjust="spacingAndGlyphs" >0.3</text>
<line x1="245.00" y1="333.80" x2="248.60" y2="333.80" stroke="#222" stroke-width="1.0" />
<text x="241.20" y="335.50" font-size="4.8" text-anchor="end" fill="#333" textLength="6.9" lengthAdjust="spacingAndGlyphs" >0.2</text>
<line x1="245.00" y1="340.65" x2="248.60" y2="340.65" stroke="#222" stroke-width="1.0" />
<text x="241.20" y="342.35" font-size="4.8" text-anchor="end" fill="#333" textLength="6.9" lengthAdjust="spacingAndGlyphs" >0.1</text>
<line x1="245.00" y1="347.50" x2="248.60" y2="347.50" stroke="#222" stroke-width="1.0" />
<text x="241.20" y="349.20" font-size="4.8" text-anchor="end" fill="#333" textLength="6.9" lengthAdjust="spacingAndGlyphs" >0.0</text>
<line x1="245.00" y1="354.35" x2="248.60" y2="354.35" stroke="#222" stroke-width="1.0" />
<text x="241.20" y="356.05" font-size="4.8" text-anchor="end" fill="#333" textLength="7.8" lengthAdjust="spacingAndGlyphs" >-0.1</text>
<text transform="translate(228.30,330.00) rotate(-90)" font-size="7.5" text-anchor="middle" fill="#333" textLength="56" lengthAdjust="spacingAndGlyphs" stroke="#333" stroke-width="0.22" >Enrichment score (ES)</text>
<g filter="url(#b05)">
<rect x="248.50" y="361.00" width="12.30" height="17.90" fill="#080808" />
<rect x="260.80" y="361.00" width="2.40" height="17.90" fill="#1c1c1c" />
<rect x="263.20" y="361.00" width="3.00" height="17.90" fill="#0c0c0c" />
<rect x="266.20" y="361.00" width="0.60" height="17.90" fill="#9a9a9a" />
<rect x="267.40" y="361.00" width="0.60" height="17.90" fill="#aaaaaa" />
<rect x="268.10" y="361.00" width="4.40" height="17.90" fill="#0c0c0c" />
<rect x="272.50" y="361.00" width="1.90" height="17.90" fill="#6a6a6a" />
<rect x="274.40" y="361.00" width="2.40" height="17.90" fill="#4a4a4a" />
<rect x="276.80" y="361.00" width="2.80" height="17.90" fill="#5e5e5e" />
<rect x="279.60" y="361.00" width="3.90" height="17.90" fill="#141414" />
<rect x="283.90" y="361.00" width="0.50" height="17.90" fill="#bbbbbb" />
<rect x="285.00" y="361.00" width="0.50" height="17.90" fill="#888888" />
<rect x="286.20" y="361.00" width="0.50" height="17.90" fill="#555555" />
<rect x="293.50" y="361.00" width="0.60" height="17.90" fill="#666666" />
<rect x="303.90" y="361.00" width="1.60" height="17.90" fill="#3a3a3a" />
<rect x="307.30" y="361.00" width="0.60" height="17.90" fill="#7a7a7a" />
<rect x="308.60" y="361.00" width="0.80" height="17.90" fill="#444444" />
<rect x="310.90" y="361.00" width="0.70" height="17.90" fill="#8a8a8a" />
<rect x="312.20" y="361.00" width="0.50" height="17.90" fill="#9a9a9a" />
<rect x="313.40" y="361.00" width="1.20" height="17.90" fill="#4a4a4a" />
<rect x="316.00" y="361.00" width="0.90" height="17.90" fill="#8a8a8a" />
<rect x="317.40" y="361.00" width="0.80" height="17.90" fill="#9a9a9a" />
<rect x="325.10" y="361.00" width="0.80" height="17.90" fill="#8a8a8a" />
<rect x="326.60" y="361.00" width="0.80" height="17.90" fill="#9a9a9a" />
<rect x="330.60" y="361.00" width="2.00" height="17.90" fill="#777777" />
<rect x="332.60" y="361.00" width="3.00" height="17.90" fill="#4c4c4c" />
<rect x="335.60" y="361.00" width="2.40" height="17.90" fill="#101010" />
<rect x="339.80" y="361.00" width="1.90" height="17.90" fill="#141414" />
<rect x="342.40" y="361.00" width="0.40" height="17.90" fill="#aaaaaa" />
<rect x="343.00" y="361.00" width="2.00" height="17.90" fill="#3c3c3c" />
<rect x="345.00" y="361.00" width="3.50" height="17.90" fill="#121212" />
<rect x="348.50" y="361.00" width="1.90" height="17.90" fill="#5a5a5a" />
<rect x="350.40" y="361.00" width="1.80" height="17.90" fill="#777777" />
<rect x="352.60" y="361.00" width="0.40" height="17.90" fill="#bbbbbb" />
<rect x="353.40" y="361.00" width="2.40" height="17.90" fill="#4a4a4a" />
<rect x="355.80" y="361.00" width="2.20" height="17.90" fill="#2a2a2a" />
<rect x="358.00" y="361.00" width="8.90" height="17.90" fill="#080808" />
</g>
<linearGradient id="gs1" x1="0" x2="1" y1="0" y2="0"><stop offset="0" stop-color="#c8322f"/><stop offset="0.62" stop-color="#cf4648"/><stop offset="0.66" stop-color="#dc6c6c"/><stop offset="1" stop-color="#e48a8c"/></linearGradient>
<linearGradient id="gs2" x1="0" x2="1" y1="0" y2="0"><stop offset="0" stop-color="#e69cba"/><stop offset="1" stop-color="#efc0d6"/></linearGradient>
<linearGradient id="gs3" x1="0" x2="1" y1="0" y2="0"><stop offset="0" stop-color="#d6d2f2"/><stop offset="1" stop-color="#a9a6e2"/></linearGradient>
<linearGradient id="gs4" x1="0" x2="1" y1="0" y2="0"><stop offset="0" stop-color="#6a68c8"/><stop offset="0.4" stop-color="#4038a8"/><stop offset="1" stop-color="#2a2090"/></linearGradient>
<rect x="248.60" y="378.90" width="27.80" height="5.00" fill="url(#gs1)" />
<rect x="276.40" y="378.90" width="53.00" height="5.00" fill="url(#gs2)" />
<rect x="329.40" y="378.90" width="24.00" height="5.00" fill="url(#gs3)" />
<rect x="353.40" y="378.90" width="13.50" height="5.00" fill="url(#gs4)" />
<line x1="248.60" y1="386.40" x2="373.30" y2="386.40" stroke="#e4e4e4" stroke-width="0.5" />
<line x1="244.40" y1="386.40" x2="248.60" y2="386.40" stroke="#222" stroke-width="1.0" />
<text x="241.20" y="388.10" font-size="4.8" text-anchor="end" fill="#333" >4</text>
<line x1="248.60" y1="392.85" x2="373.30" y2="392.85" stroke="#e4e4e4" stroke-width="0.5" />
<line x1="244.40" y1="392.85" x2="248.60" y2="392.85" stroke="#222" stroke-width="1.0" />
<text x="241.20" y="394.55" font-size="4.8" text-anchor="end" fill="#333" >3</text>
<line x1="248.60" y1="399.30" x2="373.30" y2="399.30" stroke="#e4e4e4" stroke-width="0.5" />
<line x1="244.40" y1="399.30" x2="248.60" y2="399.30" stroke="#222" stroke-width="1.0" />
<text x="241.20" y="401.00" font-size="4.8" text-anchor="end" fill="#333" >2</text>
<line x1="248.60" y1="405.75" x2="373.30" y2="405.75" stroke="#e4e4e4" stroke-width="0.5" />
<line x1="244.40" y1="405.75" x2="248.60" y2="405.75" stroke="#222" stroke-width="1.0" />
<text x="241.20" y="407.45" font-size="4.8" text-anchor="end" fill="#333" >1</text>
<line x1="248.60" y1="412.20" x2="373.30" y2="412.20" stroke="#e4e4e4" stroke-width="0.5" />
<line x1="244.40" y1="412.20" x2="248.60" y2="412.20" stroke="#222" stroke-width="1.0" />
<text x="241.20" y="413.90" font-size="4.8" text-anchor="end" fill="#333" >0</text>
<line x1="248.60" y1="418.65" x2="373.30" y2="418.65" stroke="#e4e4e4" stroke-width="0.5" />
<line x1="244.40" y1="418.65" x2="248.60" y2="418.65" stroke="#222" stroke-width="1.0" />
<text x="241.20" y="420.35" font-size="4.8" text-anchor="end" fill="#333" >-1</text>
<path d="M248.8,410.9 L250.4,411.5 L256,411.9 L287,412.2 L340,412.5 L362,412.8 L366.4,413.0 L366.9,413.4 L367.2,419.4 L367.2,412.6" fill="none" stroke="#b8b8b8" stroke-width="0.7"/>
<text x="249.40" y="386.90" font-size="2.9" text-anchor="start" fill="#cc2222" textLength="49.0" lengthAdjust="spacingAndGlyphs" >'CA_Jak1_Wt' (positively correlated)</text>
<text x="310.80" y="420.00" font-size="2.9" text-anchor="start" fill="#2233cc" textLength="51.3" lengthAdjust="spacingAndGlyphs" >'CA_Jak1_Del' (negatively correlated)</text>
<text x="274.00" y="403.40" font-size="3.0" text-anchor="start" fill="#777" textLength="25.5" lengthAdjust="spacingAndGlyphs" >Zero cross at 8001</text>
<rect x="248.6" y="304.0" width="124.70" height="117.40" fill="none" stroke="#111" stroke-width="1.25"/>
<line x1="248.60" y1="421.40" x2="248.60" y2="424.40" stroke="#222" stroke-width="1.0" />
<text x="248.60" y="433.60" font-size="5.4" text-anchor="middle" fill="#333" textLength="2.7" lengthAdjust="spacingAndGlyphs" >0</text>
<line x1="272.90" y1="421.40" x2="272.90" y2="424.40" stroke="#222" stroke-width="1.0" />
<text x="272.90" y="433.60" font-size="5.4" text-anchor="middle" fill="#333" textLength="12.4" lengthAdjust="spacingAndGlyphs" >5,000</text>
<line x1="297.20" y1="421.40" x2="297.20" y2="424.40" stroke="#222" stroke-width="1.0" />
<text x="297.20" y="433.60" font-size="5.4" text-anchor="middle" fill="#333" textLength="15.4" lengthAdjust="spacingAndGlyphs" >10,000</text>
<line x1="321.50" y1="421.40" x2="321.50" y2="424.40" stroke="#222" stroke-width="1.0" />
<text x="321.50" y="433.60" font-size="5.4" text-anchor="middle" fill="#333" textLength="15.4" lengthAdjust="spacingAndGlyphs" >15,000</text>
<line x1="345.80" y1="421.40" x2="345.80" y2="424.40" stroke="#222" stroke-width="1.0" />
<text x="345.80" y="433.60" font-size="5.4" text-anchor="middle" fill="#333" textLength="15.4" lengthAdjust="spacingAndGlyphs" >20,000</text>
<line x1="370.10" y1="421.40" x2="370.10" y2="424.40" stroke="#222" stroke-width="1.0" />
<text x="370.10" y="433.60" font-size="5.4" text-anchor="middle" fill="#333" textLength="15.4" lengthAdjust="spacingAndGlyphs" >25,000</text>
<text x="310.60" y="444.20" font-size="7.4" text-anchor="middle" fill="#333" textLength="62.5" lengthAdjust="spacingAndGlyphs" stroke="#333" stroke-width="0.22" >Rank in Ordered Dataset</text>
<text transform="translate(223.20,402.50) rotate(-90)" font-size="7.5" text-anchor="middle" fill="#333" textLength="46" lengthAdjust="spacingAndGlyphs" stroke="#333" stroke-width="0.22" >Ranked list metric</text>
<text transform="translate(231.60,402.50) rotate(-90)" font-size="7.5" text-anchor="middle" fill="#333" textLength="39" lengthAdjust="spacingAndGlyphs" stroke="#333" stroke-width="0.22" >(Signal2Noise)</text>
<rect x="244.6" y="449.4" width="131.2" height="8.3" fill="#fff" stroke="#222" stroke-width="0.8"/>
<line x1="247.70" y1="453.60" x2="252.80" y2="453.60" stroke="#5fb336" stroke-width="1.0" />
<text x="255.80" y="454.70" font-size="3.6" text-anchor="start" fill="#444" textLength="30.6" lengthAdjust="spacingAndGlyphs" >Enrichment profile</text>
<line x1="297.00" y1="453.60" x2="300.80" y2="453.60" stroke="#888" stroke-width="0.6" />
<text x="305.40" y="454.70" font-size="3.6" text-anchor="start" fill="#444" textLength="6.2" lengthAdjust="spacingAndGlyphs" >Hits</text>
<line x1="329.60" y1="453.60" x2="332.80" y2="453.60" stroke="#ccc" stroke-width="0.6" />
<text x="337.30" y="454.70" font-size="3.6" text-anchor="start" fill="#444" textLength="36.5" lengthAdjust="spacingAndGlyphs" >Ranking metric scores</text>
<text x="412" y="310.2" font-size="7.8" font-weight="bold" font-style="italic" fill="#111" textLength="16.8" lengthAdjust="spacingAndGlyphs">Jak1</text>
<text x="433" y="310.2" font-size="7.8" font-weight="bold" font-style="italic" fill="#111" textLength="12" lengthAdjust="spacingAndGlyphs">+/+</text>
<text x="451.6" y="310.2" font-size="7.8" font-weight="bold" font-style="italic" fill="#111" textLength="8.6" lengthAdjust="spacingAndGlyphs">-/-</text>
<text x="429.00" y="322.20" font-size="7.2" text-anchor="middle" fill="#111" stroke="#111" stroke-width="0.22" >1</text>
<text x="435.62" y="322.20" font-size="7.2" text-anchor="middle" fill="#111" stroke="#111" stroke-width="0.22" >2</text>
<text x="442.24" y="322.20" font-size="7.2" text-anchor="middle" fill="#111" stroke="#111" stroke-width="0.22" >3</text>
<text x="448.86" y="322.20" font-size="7.2" text-anchor="middle" fill="#111" stroke="#111" stroke-width="0.22" >1</text>
<text x="455.48" y="322.20" font-size="7.2" text-anchor="middle" fill="#111" stroke="#111" stroke-width="0.22" >2</text>
<text x="462.10" y="322.20" font-size="7.2" text-anchor="middle" fill="#111" stroke="#111" stroke-width="0.22" >3</text>
<rect x="427.20" y="323.60" width="39.00" height="328.90" fill="#ffffff" />
<rect x="427.55" y="323.95" width="5.80" height="5.88" fill="#cb140e" />
<rect x="434.05" y="323.95" width="5.80" height="5.88" fill="#cb140e" />
<rect x="440.55" y="323.95" width="5.80" height="5.88" fill="#fae8e7" />
<rect x="447.05" y="323.95" width="5.80" height="5.88" fill="#2c1e8a" />
<rect x="453.55" y="323.95" width="5.80" height="5.88" fill="#2c1e8a" />
<rect x="460.05" y="323.95" width="5.80" height="5.88" fill="#2c1e8a" />
<text transform="translate(470.3,328.60) scale(0.94,1)" font-size="5.3" fill="#333">Ptgs2</text>
<line x1="470.00" y1="330.03" x2="497.00" y2="330.03" stroke="#6a6a6a" stroke-width="0.85" />
<rect x="427.55" y="330.53" width="5.80" height="5.88" fill="#cb140e" />
<rect x="434.05" y="330.53" width="5.80" height="5.88" fill="#f6d5d4" />
<rect x="440.55" y="330.53" width="5.80" height="5.88" fill="#eaa19f" />
<rect x="447.05" y="330.53" width="5.80" height="5.88" fill="#2c1e8a" />
<rect x="453.55" y="330.53" width="5.80" height="5.88" fill="#2c1e8a" />
<rect x="460.05" y="330.53" width="5.80" height="5.88" fill="#2c1e8a" />
<text transform="translate(470.3,335.18) scale(0.94,1)" font-size="5.3" fill="#333">Rgl1</text>
<line x1="470.00" y1="336.61" x2="497.00" y2="336.61" stroke="#6a6a6a" stroke-width="0.85" />
<rect x="427.55" y="337.11" width="5.80" height="5.88" fill="#cb140e" />
<rect x="434.05" y="337.11" width="5.80" height="5.88" fill="#df6d6a" />
<rect x="440.55" y="337.11" width="5.80" height="5.88" fill="#e58a86" />
<rect x="447.05" y="337.11" width="5.80" height="5.88" fill="#2c1e8a" />
<rect x="453.55" y="337.11" width="5.80" height="5.88" fill="#2c1e8a" />
<rect x="460.05" y="337.11" width="5.80" height="5.88" fill="#2c1e8a" />
<text transform="translate(470.3,341.76) scale(0.94,1)" font-size="5.3" fill="#333">Sash1</text>
<line x1="470.00" y1="343.18" x2="497.00" y2="343.18" stroke="#6a6a6a" stroke-width="0.85" />
<rect x="427.55" y="343.68" width="5.80" height="5.88" fill="#cb140e" />
<rect x="434.05" y="343.68" width="5.80" height="5.88" fill="#d02c26" />
<rect x="440.55" y="343.68" width="5.80" height="5.88" fill="#e0726e" />
<rect x="447.05" y="343.68" width="5.80" height="5.88" fill="#2c1e8a" />
<rect x="453.55" y="343.68" width="5.80" height="5.88" fill="#2c1e8a" />
<rect x="460.05" y="343.68" width="5.80" height="5.88" fill="#2c1e8a" />
<text transform="translate(470.3,348.33) scale(0.94,1)" font-size="5.3" fill="#333">Sgk1</text>
<line x1="470.00" y1="349.76" x2="497.00" y2="349.76" stroke="#6a6a6a" stroke-width="0.85" />
<rect x="427.55" y="350.26" width="5.80" height="5.88" fill="#cb140e" />
<rect x="434.05" y="350.26" width="5.80" height="5.88" fill="#eba6a3" />
<rect x="440.55" y="350.26" width="5.80" height="5.88" fill="#f5d0cf" />
<rect x="447.05" y="350.26" width="5.80" height="5.88" fill="#2c1e8a" />
<rect x="453.55" y="350.26" width="5.80" height="5.88" fill="#2c1e8a" />
<rect x="460.05" y="350.26" width="5.80" height="5.88" fill="#2c1e8a" />
<text transform="translate(470.3,354.91) scale(0.94,1)" font-size="5.3" fill="#333">Arg1</text>
<line x1="470.00" y1="356.34" x2="497.00" y2="356.34" stroke="#6a6a6a" stroke-width="0.85" />
<rect x="427.55" y="356.84" width="5.80" height="5.88" fill="#cb140e" />
<rect x="434.05" y="356.84" width="5.80" height="5.88" fill="#eeb1af" />
<rect x="440.55" y="356.84" width="5.80" height="5.88" fill="#f6d5d4" />
<rect x="447.05" y="356.84" width="5.80" height="5.88" fill="#2c1e8a" />
<rect x="453.55" y="356.84" width="5.80" height="5.88" fill="#2c1e8a" />
<rect x="460.05" y="356.84" width="5.80" height="5.88" fill="#2c1e8a" />
<text transform="translate(470.3,361.49) scale(0.94,1)" font-size="5.3" fill="#333">Plek</text>
<line x1="470.00" y1="362.92" x2="497.00" y2="362.92" stroke="#6a6a6a" stroke-width="0.85" />
<rect x="427.55" y="363.42" width="5.80" height="5.88" fill="#cb140e" />
<rect x="434.05" y="363.42" width="5.80" height="5.88" fill="#cb140e" />
<rect x="440.55" y="363.42" width="5.80" height="5.88" fill="#dd6460" />
<rect x="447.05" y="363.42" width="5.80" height="5.88" fill="#2c1e8a" />
<rect x="453.55" y="363.42" width="5.80" height="5.88" fill="#2c1e8a" />
<rect x="460.05" y="363.42" width="5.80" height="5.88" fill="#2c1e8a" />
<text transform="translate(470.3,368.07) scale(0.94,1)" font-size="5.3" fill="#333">P4ha2</text>
<line x1="470.00" y1="369.50" x2="497.00" y2="369.50" stroke="#6a6a6a" stroke-width="0.85" />
<rect x="427.55" y="370.00" width="5.80" height="5.88" fill="#cb140e" />
<rect x="434.05" y="370.00" width="5.80" height="5.88" fill="#d84f4a" />
<rect x="440.55" y="370.00" width="5.80" height="5.88" fill="#dd6662" />
<rect x="447.05" y="370.00" width="5.80" height="5.88" fill="#2c1e8a" />
<rect x="453.55" y="370.00" width="5.80" height="5.88" fill="#2c1e8a" />
<rect x="460.05" y="370.00" width="5.80" height="5.88" fill="#2c1e8a" />
<text transform="translate(470.3,374.65) scale(0.94,1)" font-size="5.3" fill="#333">Pmp22</text>
<line x1="470.00" y1="376.07" x2="497.00" y2="376.07" stroke="#6a6a6a" stroke-width="0.85" />
<rect x="427.55" y="376.57" width="5.80" height="5.88" fill="#cb140e" />
<rect x="434.05" y="376.57" width="5.80" height="5.88" fill="#e58a86" />
<rect x="440.55" y="376.57" width="5.80" height="5.88" fill="#eaa19f" />
<rect x="447.05" y="376.57" width="5.80" height="5.88" fill="#2c1e8a" />
<rect x="453.55" y="376.57" width="5.80" height="5.88" fill="#2c1e8a" />
<rect x="460.05" y="376.57" width="5.80" height="5.88" fill="#2c1e8a" />
<text transform="translate(470.3,381.22) scale(0.94,1)" font-size="5.3" fill="#333">Aldoc</text>
<line x1="470.00" y1="382.65" x2="497.00" y2="382.65" stroke="#6a6a6a" stroke-width="0.85" />
<rect x="427.55" y="383.15" width="5.80" height="5.88" fill="#cb140e" />
<rect x="434.05" y="383.15" width="5.80" height="5.88" fill="#e48582" />
<rect x="440.55" y="383.15" width="5.80" height="5.88" fill="#eaa19f" />
<rect x="447.05" y="383.15" width="5.80" height="5.88" fill="#2c1e8a" />
<rect x="453.55" y="383.15" width="5.80" height="5.88" fill="#2c1e8a" />
<rect x="460.05" y="383.15" width="5.80" height="5.88" fill="#2c1e8a" />
<text transform="translate(470.3,387.80) scale(0.94,1)" font-size="5.3" fill="#333">Slfn5</text>
<line x1="470.00" y1="389.23" x2="497.00" y2="389.23" stroke="#6a6a6a" stroke-width="0.85" />
<rect x="427.55" y="389.73" width="5.80" height="5.88" fill="#cb140e" />
<rect x="434.05" y="389.73" width="5.80" height="5.88" fill="#df6d6a" />
<rect x="440.55" y="389.73" width="5.80" height="5.88" fill="#df6d6a" />
<rect x="447.05" y="389.73" width="5.80" height="5.88" fill="#2c1e8a" />
<rect x="453.55" y="389.73" width="5.80" height="5.88" fill="#2c1e8a" />
<rect x="460.05" y="389.73" width="5.80" height="5.88" fill="#2c1e8a" />
<text transform="translate(470.3,394.38) scale(0.94,1)" font-size="5.3" fill="#333">Ccl3</text>
<line x1="470.00" y1="395.81" x2="497.00" y2="395.81" stroke="#6a6a6a" stroke-width="0.85" />
<rect x="427.55" y="396.31" width="5.80" height="5.88" fill="#cb140e" />
<rect x="434.05" y="396.31" width="5.80" height="5.88" fill="#eaa19f" />
<rect x="440.55" y="396.31" width="5.80" height="5.88" fill="#e17773" />
<rect x="447.05" y="396.31" width="5.80" height="5.88" fill="#2c1e8a" />
<rect x="453.55" y="396.31" width="5.80" height="5.88" fill="#2c1e8a" />
<rect x="460.05" y="396.31" width="5.80" height="5.88" fill="#2c1e8a" />
<text transform="translate(470.3,400.96) scale(0.94,1)" font-size="5.3" fill="#333">Ccl4</text>
<line x1="470.00" y1="402.39" x2="497.00" y2="402.39" stroke="#6a6a6a" stroke-width="0.85" />
<rect x="427.55" y="402.89" width="5.80" height="5.88" fill="#cb140e" />
<rect x="434.05" y="402.89" width="5.80" height="5.88" fill="#e89593" />
<rect x="440.55" y="402.89" width="5.80" height="5.88" fill="#e0726e" />
<rect x="447.05" y="402.89" width="5.80" height="5.88" fill="#564ba1" />
<rect x="453.55" y="402.89" width="5.80" height="5.88" fill="#766db3" />
<rect x="460.05" y="402.89" width="5.80" height="5.88" fill="#3d3093" />
<text transform="translate(470.3,407.54) scale(0.94,1)" font-size="5.3" fill="#333">Wfdc17</text>
<line x1="470.00" y1="408.96" x2="497.00" y2="408.96" stroke="#6a6a6a" stroke-width="0.85" />
<rect x="427.55" y="409.46" width="5.80" height="5.88" fill="#cb140e" />
<rect x="434.05" y="409.46" width="5.80" height="5.88" fill="#efb8b7" />
<rect x="440.55" y="409.46" width="5.80" height="5.88" fill="#f5d0cf" />
<rect x="447.05" y="409.46" width="5.80" height="5.88" fill="#2c1e8a" />
<rect x="453.55" y="409.46" width="5.80" height="5.88" fill="#5a50a4" />
<rect x="460.05" y="409.46" width="5.80" height="5.88" fill="#2c1e8a" />
<text transform="translate(470.3,414.11) scale(0.94,1)" font-size="5.3" fill="#333">Dusp3</text>
<line x1="470.00" y1="415.54" x2="497.00" y2="415.54" stroke="#6a6a6a" stroke-width="0.85" />
<rect x="427.55" y="416.04" width="5.80" height="5.88" fill="#cb140e" />
<rect x="434.05" y="416.04" width="5.80" height="5.88" fill="#ffffff" />
<rect x="440.55" y="416.04" width="5.80" height="5.88" fill="#ffffff" />
<rect x="447.05" y="416.04" width="5.80" height="5.88" fill="#2c1e8a" />
<rect x="453.55" y="416.04" width="5.80" height="5.88" fill="#d62a10" />
<rect x="460.05" y="416.04" width="5.80" height="5.88" fill="#2c1e8a" />
<text transform="translate(470.3,420.69) scale(0.94,1)" font-size="5.3" fill="#333">C1qtnf1</text>
<line x1="470.00" y1="422.12" x2="497.00" y2="422.12" stroke="#6a6a6a" stroke-width="0.85" />
<rect x="427.55" y="422.62" width="5.80" height="5.88" fill="#cb140e" />
<rect x="434.05" y="422.62" width="5.80" height="5.88" fill="#e58a86" />
<rect x="440.55" y="422.62" width="5.80" height="5.88" fill="#da5651" />
<rect x="447.05" y="422.62" width="5.80" height="5.88" fill="#2c1e8a" />
<rect x="453.55" y="422.62" width="5.80" height="5.88" fill="#2c1e8a" />
<rect x="460.05" y="422.62" width="5.80" height="5.88" fill="#2c1e8a" />
<text transform="translate(470.3,427.27) scale(0.94,1)" font-size="5.3" fill="#333">Sdc1</text>
<line x1="470.00" y1="428.70" x2="497.00" y2="428.70" stroke="#6a6a6a" stroke-width="0.85" />
<rect x="427.55" y="429.20" width="5.80" height="5.88" fill="#cb140e" />
<rect x="434.05" y="429.20" width="5.80" height="5.88" fill="#e58a86" />
<rect x="440.55" y="429.20" width="5.80" height="5.88" fill="#edadab" />
<rect x="447.05" y="429.20" width="5.80" height="5.88" fill="#2c1e8a" />
<rect x="453.55" y="429.20" width="5.80" height="5.88" fill="#2c1e8a" />
<rect x="460.05" y="429.20" width="5.80" height="5.88" fill="#2c1e8a" />
<text transform="translate(470.3,433.85) scale(0.94,1)" font-size="5.3" fill="#333">Egln3</text>
<line x1="470.00" y1="435.28" x2="497.00" y2="435.28" stroke="#6a6a6a" stroke-width="0.85" />
<rect x="427.55" y="435.78" width="5.80" height="5.88" fill="#cb140e" />
<rect x="434.05" y="435.78" width="5.80" height="5.88" fill="#edadab" />
<rect x="440.55" y="435.78" width="5.80" height="5.88" fill="#e58a86" />
<rect x="447.05" y="435.78" width="5.80" height="5.88" fill="#2c1e8a" />
<rect x="453.55" y="435.78" width="5.80" height="5.88" fill="#2c1e8a" />
<rect x="460.05" y="435.78" width="5.80" height="5.88" fill="#2c1e8a" />
<text transform="translate(470.3,440.43) scale(0.94,1)" font-size="5.3" fill="#333">Gm6093</text>
<line x1="470.00" y1="441.85" x2="497.00" y2="441.85" stroke="#6a6a6a" stroke-width="0.85" />
<rect x="427.55" y="442.35" width="5.80" height="5.88" fill="#cb140e" />
<rect x="434.05" y="442.35" width="5.80" height="5.88" fill="#efb8b7" />
<rect x="440.55" y="442.35" width="5.80" height="5.88" fill="#dd6662" />
<rect x="447.05" y="442.35" width="5.80" height="5.88" fill="#2c1e8a" />
<rect x="453.55" y="442.35" width="5.80" height="5.88" fill="#2c1e8a" />
<rect x="460.05" y="442.35" width="5.80" height="5.88" fill="#2c1e8a" />
<text transform="translate(470.3,447.00) scale(0.94,1)" font-size="5.3" fill="#333">Tsc22d1</text>
<line x1="470.00" y1="448.43" x2="497.00" y2="448.43" stroke="#6a6a6a" stroke-width="0.85" />
<rect x="427.55" y="448.93" width="5.80" height="5.88" fill="#cb140e" />
<rect x="434.05" y="448.93" width="5.80" height="5.88" fill="#efb8b7" />
<rect x="440.55" y="448.93" width="5.80" height="5.88" fill="#ecaaa8" />
<rect x="447.05" y="448.93" width="5.80" height="5.88" fill="#2c1e8a" />
<rect x="453.55" y="448.93" width="5.80" height="5.88" fill="#2c1e8a" />
<rect x="460.05" y="448.93" width="5.80" height="5.88" fill="#2c1e8a" />
<text transform="translate(470.3,453.58) scale(0.94,1)" font-size="5.3" fill="#333">Dab2</text>
<line x1="470.00" y1="455.01" x2="497.00" y2="455.01" stroke="#6a6a6a" stroke-width="0.85" />
<rect x="427.55" y="455.51" width="5.80" height="5.88" fill="#cb140e" />
<rect x="434.05" y="455.51" width="5.80" height="5.88" fill="#d33732" />
<rect x="440.55" y="455.51" width="5.80" height="5.88" fill="#dd6662" />
<rect x="447.05" y="455.51" width="5.80" height="5.88" fill="#2c1e8a" />
<rect x="453.55" y="455.51" width="5.80" height="5.88" fill="#2c1e8a" />
<rect x="460.05" y="455.51" width="5.80" height="5.88" fill="#2c1e8a" />
<text transform="translate(470.3,460.16) scale(0.94,1)" font-size="5.3" fill="#333">Maff</text>
<line x1="470.00" y1="461.59" x2="497.00" y2="461.59" stroke="#6a6a6a" stroke-width="0.85" />
<rect x="427.55" y="462.09" width="5.80" height="5.88" fill="#cb140e" />
<rect x="434.05" y="462.09" width="5.80" height="5.88" fill="#db5a56" />
<rect x="440.55" y="462.09" width="5.80" height="5.88" fill="#db5a56" />
<rect x="447.05" y="462.09" width="5.80" height="5.88" fill="#2c1e8a" />
<rect x="453.55" y="462.09" width="5.80" height="5.88" fill="#2c1e8a" />
<rect x="460.05" y="462.09" width="5.80" height="5.88" fill="#2c1e8a" />
<text transform="translate(470.3,466.74) scale(0.94,1)" font-size="5.3" fill="#333">Gpr84</text>
<line x1="470.00" y1="468.17" x2="497.00" y2="468.17" stroke="#6a6a6a" stroke-width="0.85" />
<rect x="427.55" y="468.67" width="5.80" height="5.88" fill="#cb140e" />
<rect x="434.05" y="468.67" width="5.80" height="5.88" fill="#d02c26" />
<rect x="440.55" y="468.67" width="5.80" height="5.88" fill="#e0726e" />
<rect x="447.05" y="468.67" width="5.80" height="5.88" fill="#2c1e8a" />
<rect x="453.55" y="468.67" width="5.80" height="5.88" fill="#2c1e8a" />
<rect x="460.05" y="468.67" width="5.80" height="5.88" fill="#2c1e8a" />
<text transform="translate(470.3,473.32) scale(0.94,1)" font-size="5.3" fill="#333">Rgs11</text>
<line x1="470.00" y1="474.74" x2="497.00" y2="474.74" stroke="#6a6a6a" stroke-width="0.85" />
<rect x="427.55" y="475.24" width="5.80" height="5.88" fill="#cb140e" />
<rect x="434.05" y="475.24" width="5.80" height="5.88" fill="#e89593" />
<rect x="440.55" y="475.24" width="5.80" height="5.88" fill="#efb8b7" />
<rect x="447.05" y="475.24" width="5.80" height="5.88" fill="#2c1e8a" />
<rect x="453.55" y="475.24" width="5.80" height="5.88" fill="#2c1e8a" />
<rect x="460.05" y="475.24" width="5.80" height="5.88" fill="#2c1e8a" />
<text transform="translate(470.3,479.89) scale(0.94,1)" font-size="5.3" fill="#333">Rcor2</text>
<line x1="470.00" y1="481.32" x2="497.00" y2="481.32" stroke="#6a6a6a" stroke-width="0.85" />
<rect x="427.55" y="481.82" width="5.80" height="5.88" fill="#cb140e" />
<rect x="434.05" y="481.82" width="5.80" height="5.88" fill="#d02c26" />
<rect x="440.55" y="481.82" width="5.80" height="5.88" fill="#d5433e" />
<rect x="447.05" y="481.82" width="5.80" height="5.88" fill="#2c1e8a" />
<rect x="453.55" y="481.82" width="5.80" height="5.88" fill="#2c1e8a" />
<rect x="460.05" y="481.82" width="5.80" height="5.88" fill="#2c1e8a" />
<text transform="translate(470.3,486.47) scale(0.94,1)" font-size="5.3" fill="#333">Nkx2-3</text>
<line x1="470.00" y1="487.90" x2="497.00" y2="487.90" stroke="#6a6a6a" stroke-width="0.85" />
<rect x="427.55" y="488.40" width="5.80" height="5.88" fill="#cb140e" />
<rect x="434.05" y="488.40" width="5.80" height="5.88" fill="#e89593" />
<rect x="440.55" y="488.40" width="5.80" height="5.88" fill="#e58a86" />
<rect x="447.05" y="488.40" width="5.80" height="5.88" fill="#2c1e8a" />
<rect x="453.55" y="488.40" width="5.80" height="5.88" fill="#2c1e8a" />
<rect x="460.05" y="488.40" width="5.80" height="5.88" fill="#2c1e8a" />
<text transform="translate(470.3,493.05) scale(0.94,1)" font-size="5.3" fill="#333">Il2ra</text>
<line x1="470.00" y1="494.48" x2="497.00" y2="494.48" stroke="#6a6a6a" stroke-width="0.85" />
<rect x="427.55" y="494.98" width="5.80" height="5.88" fill="#cb140e" />
<rect x="434.05" y="494.98" width="5.80" height="5.88" fill="#fcf3f3" />
<rect x="440.55" y="494.98" width="5.80" height="5.88" fill="#ce201a" />
<rect x="447.05" y="494.98" width="5.80" height="5.88" fill="#7c74b6" />
<rect x="453.55" y="494.98" width="5.80" height="5.88" fill="#a09aca" />
<rect x="460.05" y="494.98" width="5.80" height="5.88" fill="#2c1e8a" />
<text transform="translate(470.3,499.63) scale(0.94,1)" font-size="5.3" fill="#333">Il1rn</text>
<line x1="470.00" y1="501.06" x2="497.00" y2="501.06" stroke="#6a6a6a" stroke-width="0.85" />
<rect x="427.55" y="501.56" width="5.80" height="5.88" fill="#cb140e" />
<rect x="434.05" y="501.56" width="5.80" height="5.88" fill="#e0726e" />
<rect x="440.55" y="501.56" width="5.80" height="5.88" fill="#dd6662" />
<rect x="447.05" y="501.56" width="5.80" height="5.88" fill="#2c1e8a" />
<rect x="453.55" y="501.56" width="5.80" height="5.88" fill="#2c1e8a" />
<rect x="460.05" y="501.56" width="5.80" height="5.88" fill="#2c1e8a" />
<text transform="translate(470.3,506.21) scale(0.94,1)" font-size="5.3" fill="#333">Tgm2</text>
<line x1="470.00" y1="507.63" x2="497.00" y2="507.63" stroke="#6a6a6a" stroke-width="0.85" />
<rect x="427.55" y="508.13" width="5.80" height="5.88" fill="#d64843" />
<rect x="434.05" y="508.13" width="5.80" height="5.88" fill="#cd1b15" />
<rect x="440.55" y="508.13" width="5.80" height="5.88" fill="#edadab" />
<rect x="447.05" y="508.13" width="5.80" height="5.88" fill="#2c1e8a" />
<rect x="453.55" y="508.13" width="5.80" height="5.88" fill="#2c1e8a" />
<rect x="460.05" y="508.13" width="5.80" height="5.88" fill="#2c1e8a" />
<text transform="translate(470.3,512.78) scale(0.94,1)" font-size="5.3" fill="#333">Mgarp</text>
<line x1="470.00" y1="514.21" x2="497.00" y2="514.21" stroke="#6a6a6a" stroke-width="0.85" />
<rect x="427.55" y="514.71" width="5.80" height="5.88" fill="#cb140e" />
<rect x="434.05" y="514.71" width="5.80" height="5.88" fill="#dd6662" />
<rect x="440.55" y="514.71" width="5.80" height="5.88" fill="#e58a86" />
<rect x="447.05" y="514.71" width="5.80" height="5.88" fill="#2c1e8a" />
<rect x="453.55" y="514.71" width="5.80" height="5.88" fill="#2c1e8a" />
<rect x="460.05" y="514.71" width="5.80" height="5.88" fill="#2c1e8a" />
<text transform="translate(470.3,519.36) scale(0.94,1)" font-size="5.3" fill="#333">Selenbp1</text>
<line x1="470.00" y1="520.79" x2="497.00" y2="520.79" stroke="#6a6a6a" stroke-width="0.85" />
<rect x="427.55" y="521.29" width="5.80" height="5.88" fill="#cb140e" />
<rect x="434.05" y="521.29" width="5.80" height="5.88" fill="#e27e7a" />
<rect x="440.55" y="521.29" width="5.80" height="5.88" fill="#e0726e" />
<rect x="447.05" y="521.29" width="5.80" height="5.88" fill="#2c1e8a" />
<rect x="453.55" y="521.29" width="5.80" height="5.88" fill="#2c1e8a" />
<rect x="460.05" y="521.29" width="5.80" height="5.88" fill="#2c1e8a" />
<text transform="translate(470.3,525.94) scale(0.94,1)" font-size="5.3" fill="#333">Csf1</text>
<line x1="470.00" y1="527.37" x2="497.00" y2="527.37" stroke="#6a6a6a" stroke-width="0.85" />
<rect x="427.55" y="527.87" width="5.80" height="5.88" fill="#cb140e" />
<rect x="434.05" y="527.87" width="5.80" height="5.88" fill="#e0726e" />
<rect x="440.55" y="527.87" width="5.80" height="5.88" fill="#d33732" />
<rect x="447.05" y="527.87" width="5.80" height="5.88" fill="#2c1e8a" />
<rect x="453.55" y="527.87" width="5.80" height="5.88" fill="#2c1e8a" />
<rect x="460.05" y="527.87" width="5.80" height="5.88" fill="#2c1e8a" />
<text transform="translate(470.3,532.52) scale(0.94,1)" font-size="5.3" fill="#333">Tcf7</text>
<line x1="470.00" y1="533.95" x2="497.00" y2="533.95" stroke="#6a6a6a" stroke-width="0.85" />
<rect x="427.55" y="534.45" width="5.80" height="5.88" fill="#cb140e" />
<rect x="434.05" y="534.45" width="5.80" height="5.88" fill="#df6d6a" />
<rect x="440.55" y="534.45" width="5.80" height="5.88" fill="#e58a86" />
<rect x="447.05" y="534.45" width="5.80" height="5.88" fill="#2c1e8a" />
<rect x="453.55" y="534.45" width="5.80" height="5.88" fill="#2c1e8a" />
<rect x="460.05" y="534.45" width="5.80" height="5.88" fill="#2c1e8a" />
<text transform="translate(470.3,539.10) scale(0.94,1)" font-size="5.3" fill="#333">Abca1</text>
<line x1="470.00" y1="540.52" x2="497.00" y2="540.52" stroke="#6a6a6a" stroke-width="0.85" />
<rect x="427.55" y="541.02" width="5.80" height="5.88" fill="#cb140e" />
<rect x="434.05" y="541.02" width="5.80" height="5.88" fill="#dd6662" />
<rect x="440.55" y="541.02" width="5.80" height="5.88" fill="#e58a86" />
<rect x="447.05" y="541.02" width="5.80" height="5.88" fill="#2c1e8a" />
<rect x="453.55" y="541.02" width="5.80" height="5.88" fill="#2c1e8a" />
<rect x="460.05" y="541.02" width="5.80" height="5.88" fill="#2c1e8a" />
<text transform="translate(470.3,545.67) scale(0.94,1)" font-size="5.3" fill="#333">Cdkn2c</text>
<line x1="470.00" y1="547.10" x2="497.00" y2="547.10" stroke="#6a6a6a" stroke-width="0.85" />
<rect x="427.55" y="547.60" width="5.80" height="5.88" fill="#cb140e" />
<rect x="434.05" y="547.60" width="5.80" height="5.88" fill="#e58a86" />
<rect x="440.55" y="547.60" width="5.80" height="5.88" fill="#e89593" />
<rect x="447.05" y="547.60" width="5.80" height="5.88" fill="#2c1e8a" />
<rect x="453.55" y="547.60" width="5.80" height="5.88" fill="#2c1e8a" />
<rect x="460.05" y="547.60" width="5.80" height="5.88" fill="#2c1e8a" />
<text transform="translate(470.3,552.25) scale(0.94,1)" font-size="5.3" fill="#333">Htra3</text>
<line x1="470.00" y1="553.68" x2="497.00" y2="553.68" stroke="#6a6a6a" stroke-width="0.85" />
<rect x="427.55" y="554.18" width="5.80" height="5.88" fill="#cb140e" />
<rect x="434.05" y="554.18" width="5.80" height="5.88" fill="#e89593" />
<rect x="440.55" y="554.18" width="5.80" height="5.88" fill="#e58a86" />
<rect x="447.05" y="554.18" width="5.80" height="5.88" fill="#2c1e8a" />
<rect x="453.55" y="554.18" width="5.80" height="5.88" fill="#2c1e8a" />
<rect x="460.05" y="554.18" width="5.80" height="5.88" fill="#2c1e8a" />
<text transform="translate(470.3,558.83) scale(0.94,1)" font-size="5.3" fill="#333">Spp1</text>
<line x1="470.00" y1="560.26" x2="497.00" y2="560.26" stroke="#6a6a6a" stroke-width="0.85" />
<rect x="427.55" y="560.76" width="5.80" height="5.88" fill="#cb140e" />
<rect x="434.05" y="560.76" width="5.80" height="5.88" fill="#e58a86" />
<rect x="440.55" y="560.76" width="5.80" height="5.88" fill="#d33732" />
<rect x="447.05" y="560.76" width="5.80" height="5.88" fill="#2c1e8a" />
<rect x="453.55" y="560.76" width="5.80" height="5.88" fill="#2c1e8a" />
<rect x="460.05" y="560.76" width="5.80" height="5.88" fill="#2c1e8a" />
<text transform="translate(470.3,565.41) scale(0.94,1)" font-size="5.3" fill="#333">Oasl2</text>
<line x1="470.00" y1="566.84" x2="497.00" y2="566.84" stroke="#6a6a6a" stroke-width="0.85" />
<rect x="427.55" y="567.34" width="5.80" height="5.88" fill="#cb140e" />
<rect x="434.05" y="567.34" width="5.80" height="5.88" fill="#e58a86" />
<rect x="440.55" y="567.34" width="5.80" height="5.88" fill="#ce201a" />
<rect x="447.05" y="567.34" width="5.80" height="5.88" fill="#52469f" />
<rect x="453.55" y="567.34" width="5.80" height="5.88" fill="#2c1e8a" />
<rect x="460.05" y="567.34" width="5.80" height="5.88" fill="#2c1e8a" />
<text transform="translate(470.3,571.99) scale(0.94,1)" font-size="5.3" fill="#333">Oas2</text>
<line x1="470.00" y1="573.41" x2="497.00" y2="573.41" stroke="#6a6a6a" stroke-width="0.85" />
<rect x="427.55" y="573.91" width="5.80" height="5.88" fill="#cb140e" />
<rect x="434.05" y="573.91" width="5.80" height="5.88" fill="#e0726e" />
<rect x="440.55" y="573.91" width="5.80" height="5.88" fill="#db5a56" />
<rect x="447.05" y="573.91" width="5.80" height="5.88" fill="#2c1e8a" />
<rect x="453.55" y="573.91" width="5.80" height="5.88" fill="#2c1e8a" />
<rect x="460.05" y="573.91" width="5.80" height="5.88" fill="#2c1e8a" />
<text transform="translate(470.3,578.56) scale(0.94,1)" font-size="5.3" fill="#333">Oas3</text>
<line x1="470.00" y1="579.99" x2="497.00" y2="579.99" stroke="#6a6a6a" stroke-width="0.85" />
<rect x="427.55" y="580.49" width="5.80" height="5.88" fill="#cb140e" />
<rect x="434.05" y="580.49" width="5.80" height="5.88" fill="#e0726e" />
<rect x="440.55" y="580.49" width="5.80" height="5.88" fill="#eaa19f" />
<rect x="447.05" y="580.49" width="5.80" height="5.88" fill="#2c1e8a" />
<rect x="453.55" y="580.49" width="5.80" height="5.88" fill="#2c1e8a" />
<rect x="460.05" y="580.49" width="5.80" height="5.88" fill="#2c1e8a" />
<text transform="translate(470.3,585.14) scale(0.94,1)" font-size="5.3" fill="#333">Hcar2</text>
<line x1="470.00" y1="586.57" x2="497.00" y2="586.57" stroke="#6a6a6a" stroke-width="0.85" />
<rect x="427.55" y="587.07" width="5.80" height="5.88" fill="#cb140e" />
<rect x="434.05" y="587.07" width="5.80" height="5.88" fill="#e58a86" />
<rect x="440.55" y="587.07" width="5.80" height="5.88" fill="#eaa19f" />
<rect x="447.05" y="587.07" width="5.80" height="5.88" fill="#2c1e8a" />
<rect x="453.55" y="587.07" width="5.80" height="5.88" fill="#2c1e8a" />
<rect x="460.05" y="587.07" width="5.80" height="5.88" fill="#2c1e8a" />
<text transform="translate(470.3,591.72) scale(0.94,1)" font-size="5.3" fill="#333">Samd9l</text>
<line x1="470.00" y1="593.15" x2="497.00" y2="593.15" stroke="#6a6a6a" stroke-width="0.85" />
<rect x="427.55" y="593.65" width="5.80" height="5.88" fill="#cb140e" />
<rect x="434.05" y="593.65" width="5.80" height="5.88" fill="#f7dcdb" />
<rect x="440.55" y="593.65" width="5.80" height="5.88" fill="#f2c4c3" />
<rect x="447.05" y="593.65" width="5.80" height="5.88" fill="#2c1e8a" />
<rect x="453.55" y="593.65" width="5.80" height="5.88" fill="#2c1e8a" />
<rect x="460.05" y="593.65" width="5.80" height="5.88" fill="#2c1e8a" />
<text transform="translate(470.3,598.30) scale(0.94,1)" font-size="5.3" fill="#333">Cd33</text>
<line x1="470.00" y1="599.73" x2="497.00" y2="599.73" stroke="#6a6a6a" stroke-width="0.85" />
<rect x="427.55" y="600.23" width="5.80" height="5.88" fill="#cb140e" />
<rect x="434.05" y="600.23" width="5.80" height="5.88" fill="#d5433e" />
<rect x="440.55" y="600.23" width="5.80" height="5.88" fill="#d5433e" />
<rect x="447.05" y="600.23" width="5.80" height="5.88" fill="#2c1e8a" />
<rect x="453.55" y="600.23" width="5.80" height="5.88" fill="#2c1e8a" />
<rect x="460.05" y="600.23" width="5.80" height="5.88" fill="#2c1e8a" />
<text transform="translate(470.3,604.88) scale(0.94,1)" font-size="5.3" fill="#333">Bnip3</text>
<line x1="470.00" y1="606.30" x2="497.00" y2="606.30" stroke="#6a6a6a" stroke-width="0.85" />
<rect x="427.55" y="606.80" width="5.80" height="5.88" fill="#cb140e" />
<rect x="434.05" y="606.80" width="5.80" height="5.88" fill="#e89593" />
<rect x="440.55" y="606.80" width="5.80" height="5.88" fill="#edadab" />
<rect x="447.05" y="606.80" width="5.80" height="5.88" fill="#2c1e8a" />
<rect x="453.55" y="606.80" width="5.80" height="5.88" fill="#2c1e8a" />
<rect x="460.05" y="606.80" width="5.80" height="5.88" fill="#2c1e8a" />
<text transform="translate(470.3,611.45) scale(0.94,1)" font-size="5.3" fill="#333">Adam8</text>
<line x1="470.00" y1="612.88" x2="497.00" y2="612.88" stroke="#6a6a6a" stroke-width="0.85" />
<rect x="427.55" y="613.38" width="5.80" height="5.88" fill="#cb140e" />
<rect x="434.05" y="613.38" width="5.80" height="5.88" fill="#ce201a" />
<rect x="440.55" y="613.38" width="5.80" height="5.88" fill="#db5a56" />
<rect x="447.05" y="613.38" width="5.80" height="5.88" fill="#2c1e8a" />
<rect x="453.55" y="613.38" width="5.80" height="5.88" fill="#4a3e9a" />
<rect x="460.05" y="613.38" width="5.80" height="5.88" fill="#2c1e8a" />
<text transform="translate(470.3,618.03) scale(0.94,1)" font-size="5.3" fill="#333">Gdf15</text>
<line x1="470.00" y1="619.46" x2="497.00" y2="619.46" stroke="#6a6a6a" stroke-width="0.85" />
<rect x="427.55" y="619.96" width="5.80" height="5.88" fill="#cb140e" />
<rect x="434.05" y="619.96" width="5.80" height="5.88" fill="#d84f4a" />
<rect x="440.55" y="619.96" width="5.80" height="5.88" fill="#e89593" />
<rect x="447.05" y="619.96" width="5.80" height="5.88" fill="#2c1e8a" />
<rect x="453.55" y="619.96" width="5.80" height="5.88" fill="#2c1e8a" />
<rect x="460.05" y="619.96" width="5.80" height="5.88" fill="#2c1e8a" />
<text transform="translate(470.3,624.61) scale(0.94,1)" font-size="5.3" fill="#333">Mmp13</text>
<line x1="470.00" y1="626.04" x2="497.00" y2="626.04" stroke="#6a6a6a" stroke-width="0.85" />
<rect x="427.55" y="626.54" width="5.80" height="5.88" fill="#cb140e" />
<rect x="434.05" y="626.54" width="5.80" height="5.88" fill="#f5d0cf" />
<rect x="440.55" y="626.54" width="5.80" height="5.88" fill="#e27e7a" />
<rect x="447.05" y="626.54" width="5.80" height="5.88" fill="#8b83bf" />
<rect x="453.55" y="626.54" width="5.80" height="5.88" fill="#aba5d0" />
<rect x="460.05" y="626.54" width="5.80" height="5.88" fill="#2c1e8a" />
<text transform="translate(470.3,631.19) scale(0.94,1)" font-size="5.3" fill="#333">Mmp12</text>
<line x1="470.00" y1="632.62" x2="497.00" y2="632.62" stroke="#6a6a6a" stroke-width="0.85" />
<rect x="427.55" y="633.12" width="5.80" height="5.88" fill="#cb140e" />
<rect x="434.05" y="633.12" width="5.80" height="5.88" fill="#db5a56" />
<rect x="440.55" y="633.12" width="5.80" height="5.88" fill="#db5a56" />
<rect x="447.05" y="633.12" width="5.80" height="5.88" fill="#2c1e8a" />
<rect x="453.55" y="633.12" width="5.80" height="5.88" fill="#2c1e8a" />
<rect x="460.05" y="633.12" width="5.80" height="5.88" fill="#2c1e8a" />
<text transform="translate(470.3,637.77) scale(0.94,1)" font-size="5.3" fill="#333">Nt5e</text>
<line x1="470.00" y1="639.19" x2="497.00" y2="639.19" stroke="#6a6a6a" stroke-width="0.85" />
<rect x="427.55" y="639.69" width="5.80" height="5.88" fill="#cb140e" />
<rect x="434.05" y="639.69" width="5.80" height="5.88" fill="#d33732" />
<rect x="440.55" y="639.69" width="5.80" height="5.88" fill="#ce201a" />
<rect x="447.05" y="639.69" width="5.80" height="5.88" fill="#2c1e8a" />
<rect x="453.55" y="639.69" width="5.80" height="5.88" fill="#2c1e8a" />
<rect x="460.05" y="639.69" width="5.80" height="5.88" fill="#2c1e8a" />
<text transform="translate(470.3,644.34) scale(0.94,1)" font-size="5.3" fill="#333">Plod2</text>
<line x1="470.00" y1="645.77" x2="497.00" y2="645.77" stroke="#6a6a6a" stroke-width="0.85" />
<rect x="427.55" y="646.27" width="5.80" height="5.88" fill="#cb140e" />
<rect x="434.05" y="646.27" width="5.80" height="5.88" fill="#d33732" />
<rect x="440.55" y="646.27" width="5.80" height="5.88" fill="#d33732" />
<rect x="447.05" y="646.27" width="5.80" height="5.88" fill="#2c1e8a" />
<rect x="453.55" y="646.27" width="5.80" height="5.88" fill="#2c1e8a" />
<rect x="460.05" y="646.27" width="5.80" height="5.88" fill="#2c1e8a" />
<text transform="translate(470.3,650.92) scale(0.94,1)" font-size="5.3" fill="#333">Amot</text>
<line x1="470.00" y1="652.35" x2="497.00" y2="652.35" stroke="#6a6a6a" stroke-width="0.85" />
<rect x="409.6" y="452" width="6.2" height="96.6" fill="url(#cbar)" stroke="#444" stroke-width="0.5"/>
<text transform="translate(421.30,453.00) rotate(-90)" font-size="4.2" text-anchor="middle" fill="#333" textLength="19" lengthAdjust="spacingAndGlyphs" >row max</text>
<text transform="translate(421.30,549.00) rotate(-90)" font-size="4.2" text-anchor="middle" fill="#333" textLength="17.5" lengthAdjust="spacingAndGlyphs" >row min</text>
<line x1="42.40" y1="497.70" x2="42.40" y2="574.10" stroke="#111" stroke-width="1.5" />
<line x1="41.70" y1="573.40" x2="153.80" y2="573.40" stroke="#111" stroke-width="1.5" />
<line x1="38.50" y1="573.40" x2="42.40" y2="573.40" stroke="#111" stroke-width="1.1" />
<text x="36.40" y="576.00" font-size="7.3" text-anchor="end" fill="#222" textLength="4.3" lengthAdjust="spacingAndGlyphs" stroke="#222" stroke-width="0.22" >0</text>
<line x1="38.50" y1="559.48" x2="42.40" y2="559.48" stroke="#111" stroke-width="1.1" />
<text x="36.40" y="562.08" font-size="7.3" text-anchor="end" fill="#222" textLength="8.6" lengthAdjust="spacingAndGlyphs" stroke="#222" stroke-width="0.22" >20</text>
<line x1="38.50" y1="545.56" x2="42.40" y2="545.56" stroke="#111" stroke-width="1.1" />
<text x="36.40" y="548.16" font-size="7.3" text-anchor="end" fill="#222" textLength="8.6" lengthAdjust="spacingAndGlyphs" stroke="#222" stroke-width="0.22" >40</text>
<line x1="38.50" y1="531.64" x2="42.40" y2="531.64" stroke="#111" stroke-width="1.1" />
<text x="36.40" y="534.24" font-size="7.3" text-anchor="end" fill="#222" textLength="8.6" lengthAdjust="spacingAndGlyphs" stroke="#222" stroke-width="0.22" >60</text>
<line x1="38.50" y1="517.72" x2="42.40" y2="517.72" stroke="#111" stroke-width="1.1" />
<text x="36.40" y="520.32" font-size="7.3" text-anchor="end" fill="#222" textLength="8.6" lengthAdjust="spacingAndGlyphs" stroke="#222" stroke-width="0.22" >80</text>
<line x1="38.50" y1="503.80" x2="42.40" y2="503.80" stroke="#111" stroke-width="1.1" />
<text x="36.40" y="506.40" font-size="7.3" text-anchor="end" fill="#222" textLength="12.899999999999999" lengthAdjust="spacingAndGlyphs" stroke="#222" stroke-width="0.22" >100</text>
<rect x="49.20" y="503.80" width="23.60" height="69.60" fill="#38654f" />
<rect x="86.20" y="539.20" width="24.30" height="34.20" fill="#8880bd" />
<rect x="123.10" y="568.90" width="24.60" height="4.50" fill="#3c4b60" />
<line x1="98.30" y1="530.50" x2="98.30" y2="548.20" stroke="#111" stroke-width="1.25" />
<line x1="92.00" y1="530.50" x2="104.60" y2="530.50" stroke="#111" stroke-width="1.25" />
<line x1="92.00" y1="548.20" x2="104.60" y2="548.20" stroke="#111" stroke-width="1.25" />
<line x1="135.60" y1="566.50" x2="135.60" y2="572.60" stroke="#111" stroke-width="1.25" />
<line x1="129.30" y1="566.50" x2="141.90" y2="566.50" stroke="#111" stroke-width="1.25" />
<line x1="129.30" y1="572.60" x2="141.90" y2="572.60" stroke="#111" stroke-width="1.25" />
<line x1="60.80" y1="573.40" x2="60.80" y2="577.20" stroke="#111" stroke-width="1.1" />
<line x1="98.30" y1="573.40" x2="98.30" y2="577.20" stroke="#111" stroke-width="1.1" />
<line x1="135.60" y1="573.40" x2="135.60" y2="577.20" stroke="#111" stroke-width="1.1" />
<text transform="translate(64.80,584.00) rotate(-45)" font-size="8.1" text-anchor="end" fill="#222" textLength="23.2" lengthAdjust="spacingAndGlyphs" stroke="#222" stroke-width="0.22" >DMSO</text>
<text transform="translate(102.30,584.00) rotate(-45)" font-size="7.9" text-anchor="end" fill="#222" textLength="49.8" lengthAdjust="spacingAndGlyphs" stroke="#222" stroke-width="0.22" >Itacitinib 1 uM</text>
<text transform="translate(140.00,584.00) rotate(-45)" font-size="7.9" text-anchor="end" fill="#222" textLength="54" lengthAdjust="spacingAndGlyphs" stroke="#222" stroke-width="0.22" >Itacitinib 10 uM</text>
<path d="M60.7,501.5 L60.7,493.5 L135.7,493.5 L135.7,500.2" fill="none" stroke="#111" stroke-width="1.2"/>
<path d="M98.2,523.6 L98.2,518.5 L135.7,518.5 L135.7,523.6" fill="none" stroke="#111" stroke-width="1.2"/>
<text x="98.50" y="493.00" font-size="5.6" text-anchor="middle" fill="#111" >**</text>
<text x="116.80" y="518.60" font-size="5.6" text-anchor="middle" fill="#111" >**</text>
<text transform="translate(17.20,535.00) rotate(-90)" font-size="10" text-anchor="middle" fill="#222" textLength="94.6" lengthAdjust="spacingAndGlyphs" stroke="#222" stroke-width="0.22" >% colonies of DMSO control</text>
<clipPath id="g1"><rect x="248.3" y="487.5" width="59.5" height="43.3"/></clipPath>
<clipPath id="g2"><rect x="313.2" y="487.5" width="60.1" height="43.3"/></clipPath>
<g clip-path="url(#g1)">
<rect x="248.30" y="487.50" width="59.50" height="43.30" fill="url(#pg3)" />
<circle cx="274.7" cy="511.1" r="1.33" fill="#5c5454" opacity="0.39"/>
<circle cx="298.4" cy="495.2" r="1.22" fill="#5c5454" opacity="0.44"/>
<circle cx="294.8" cy="491.0" r="0.77" fill="#3a3434" opacity="0.41"/>
<circle cx="300.5" cy="514.3" r="1.04" fill="#5c5454" opacity="0.54"/>
<circle cx="286.6" cy="513.5" r="0.64" fill="#3a3434" opacity="0.50"/>
<circle cx="251.7" cy="488.5" r="1.29" fill="#403a3a" opacity="0.26"/>
<circle cx="275.4" cy="505.9" r="1.26" fill="#403a3a" opacity="0.32"/>
<circle cx="265.4" cy="487.2" r="0.58" fill="#403a3a" opacity="0.33"/>
<circle cx="306.9" cy="529.8" r="1.26" fill="#403a3a" opacity="0.33"/>
<circle cx="292.7" cy="509.1" r="0.53" fill="#403a3a" opacity="0.48"/>
<circle cx="271.6" cy="523.4" r="0.85" fill="#3a3434" opacity="0.50"/>
<circle cx="248.0" cy="496.0" r="1.32" fill="#5c5454" opacity="0.36"/>
<circle cx="289.8" cy="505.1" r="1.01" fill="#3a3434" opacity="0.48"/>
<circle cx="263.9" cy="490.7" r="0.80" fill="#5c5454" opacity="0.48"/>
<circle cx="255.0" cy="497.6" r="0.59" fill="#3a3434" opacity="0.39"/>
<circle cx="276.7" cy="516.3" r="0.67" fill="#403a3a" opacity="0.31"/>
<circle cx="291.2" cy="492.6" r="1.08" fill="#3a3434" opacity="0.37"/>
<circle cx="306.4" cy="487.0" r="1.28" fill="#403a3a" opacity="0.34"/>
<circle cx="300.2" cy="496.1" r="0.85" fill="#403a3a" opacity="0.44"/>
<circle cx="253.9" cy="529.5" r="0.69" fill="#5c5454" opacity="0.25"/>
<circle cx="284.0" cy="522.7" r="0.85" fill="#3a3434" opacity="0.28"/>
<circle cx="282.4" cy="497.4" r="1.04" fill="#5c5454" opacity="0.44"/>
<circle cx="255.5" cy="512.3" r="1.25" fill="#3a3434" opacity="0.51"/>
<circle cx="258.8" cy="493.6" r="1.32" fill="#403a3a" opacity="0.32"/>
<circle cx="259.2" cy="518.8" r="1.35" fill="#3a3434" opacity="0.46"/>
<circle cx="270.9" cy="507.7" r="0.57" fill="#3a3434" opacity="0.28"/>
<circle cx="250.3" cy="528.4" r="0.71" fill="#403a3a" opacity="0.37"/>
<circle cx="272.8" cy="525.9" r="0.94" fill="#403a3a" opacity="0.30"/>
<circle cx="290.5" cy="490.0" r="0.71" fill="#403a3a" opacity="0.45"/>
<circle cx="284.3" cy="490.2" r="0.69" fill="#3a3434" opacity="0.47"/>
<circle cx="252.1" cy="504.7" r="0.72" fill="#3a3434" opacity="0.30"/>
<circle cx="269.8" cy="511.6" r="0.62" fill="#5c5454" opacity="0.29"/>
<circle cx="274.6" cy="501.2" r="1.16" fill="#403a3a" opacity="0.43"/>
<circle cx="256.3" cy="488.5" r="0.52" fill="#5c5454" opacity="0.46"/>
<circle cx="304.8" cy="487.9" r="1.07" fill="#5c5454" opacity="0.27"/>
<circle cx="266.4" cy="492.9" r="0.57" fill="#5c5454" opacity="0.41"/>
<circle cx="291.5" cy="525.7" r="1.16" fill="#403a3a" opacity="0.29"/>
<circle cx="304.8" cy="501.7" r="0.58" fill="#5c5454" opacity="0.52"/>
<circle cx="299.4" cy="504.9" r="1.21" fill="#5c5454" opacity="0.42"/>
<circle cx="284.9" cy="503.4" r="1.02" fill="#403a3a" opacity="0.27"/>
<circle cx="253.3" cy="492.0" r="0.73" fill="#5c5454" opacity="0.47"/>
<circle cx="270.9" cy="518.6" r="1.02" fill="#5c5454" opacity="0.39"/>
<circle cx="279.9" cy="509.3" r="0.96" fill="#5c5454" opacity="0.43"/>
<circle cx="276.4" cy="496.9" r="1.13" fill="#5c5454" opacity="0.48"/>
<circle cx="286.9" cy="507.9" r="1.31" fill="#5c5454" opacity="0.34"/>
<circle cx="288.0" cy="495.7" r="0.65" fill="#5c5454" opacity="0.45"/>
<circle cx="274.1" cy="525.3" r="0.79" fill="#403a3a" opacity="0.33"/>
<circle cx="285.4" cy="521.6" r="1.18" fill="#3a3434" opacity="0.51"/>
<circle cx="270.7" cy="512.1" r="0.78" fill="#3a3434" opacity="0.29"/>
<circle cx="268.7" cy="525.5" r="0.54" fill="#3a3434" opacity="0.54"/>
<circle cx="264.3" cy="494.3" r="0.91" fill="#5c5454" opacity="0.53"/>
<circle cx="297.0" cy="503.4" r="0.97" fill="#403a3a" opacity="0.34"/>
<circle cx="297.5" cy="529.2" r="0.91" fill="#3a3434" opacity="0.50"/>
<circle cx="264.4" cy="513.1" r="1.11" fill="#5c5454" opacity="0.42"/>
<circle cx="266.2" cy="521.0" r="0.52" fill="#3a3434" opacity="0.37"/>
<circle cx="259.2" cy="520.1" r="0.74" fill="#3a3434" opacity="0.49"/>
<circle cx="306.1" cy="492.0" r="0.60" fill="#403a3a" opacity="0.45"/>
<circle cx="295.6" cy="528.2" r="1.12" fill="#3a3434" opacity="0.50"/>
<circle cx="263.1" cy="517.7" r="1.18" fill="#403a3a" opacity="0.46"/>
<circle cx="258.6" cy="498.7" r="0.81" fill="#403a3a" opacity="0.53"/>
<circle cx="280.5" cy="507.2" r="10.3" fill="#766e9a" filter="url(#b1)"/>
<circle cx="280.5" cy="507.2" r="9.7" fill="#b4aeb6" filter="url(#b1)"/>
<circle cx="280.5" cy="507.2" r="8.6" fill="#9e9276" filter="url(#b1)"/>
<circle cx="280.2" cy="507.4" r="5.6" fill="#897a58" filter="url(#b2)"/>
<circle cx="271.9" cy="507.2" r="0.54" fill="#76683f" opacity="0.7"/>
<circle cx="287.3" cy="511.4" r="0.85" fill="#76683f" opacity="0.7"/>
<circle cx="278.9" cy="507.7" r="0.94" fill="#a89a78" opacity="0.7"/>
<circle cx="277.0" cy="510.6" r="0.93" fill="#b4a888" opacity="0.7"/>
<circle cx="275.0" cy="508.5" r="0.56" fill="#a89a78" opacity="0.7"/>
<circle cx="282.3" cy="514.7" r="0.99" fill="#b4a888" opacity="0.7"/>
<circle cx="273.9" cy="505.6" r="0.63" fill="#a89a78" opacity="0.7"/>
<circle cx="280.1" cy="507.8" r="0.69" fill="#6c5e3c" opacity="0.7"/>
<circle cx="278.4" cy="508.3" r="0.96" fill="#76683f" opacity="0.7"/>
<circle cx="280.7" cy="506.7" r="0.89" fill="#76683f" opacity="0.7"/>
<circle cx="274.7" cy="506.0" r="0.95" fill="#8a7a56" opacity="0.7"/>
<circle cx="283.1" cy="510.8" r="0.85" fill="#8a7a56" opacity="0.7"/>
<circle cx="284.5" cy="505.8" r="0.97" fill="#a89a78" opacity="0.7"/>
<circle cx="280.7" cy="503.4" r="0.76" fill="#6c5e3c" opacity="0.7"/>
<circle cx="277.6" cy="503.8" r="0.91" fill="#6c5e3c" opacity="0.7"/>
<circle cx="280.3" cy="513.0" r="0.98" fill="#6c5e3c" opacity="0.7"/>
<circle cx="282.4" cy="514.3" r="0.98" fill="#6c5e3c" opacity="0.7"/>
<circle cx="279.9" cy="511.4" r="0.68" fill="#a89a78" opacity="0.7"/>
<circle cx="275.3" cy="507.1" r="0.47" fill="#a89a78" opacity="0.7"/>
<circle cx="277.1" cy="506.9" r="0.89" fill="#6c5e3c" opacity="0.7"/>
<circle cx="281.1" cy="507.8" r="0.54" fill="#6c5e3c" opacity="0.7"/>
<circle cx="272.8" cy="509.2" r="0.89" fill="#8a7a56" opacity="0.7"/>
<circle cx="280.0" cy="511.2" r="0.52" fill="#8a7a56" opacity="0.7"/>
<circle cx="287.0" cy="502.5" r="0.96" fill="#6c5e3c" opacity="0.7"/>
<circle cx="279.8" cy="508.7" r="0.79" fill="#b4a888" opacity="0.7"/>
<circle cx="285.1" cy="512.1" r="0.46" fill="#76683f" opacity="0.7"/>
<circle cx="280.6" cy="507.3" r="0.61" fill="#b4a888" opacity="0.7"/>
<circle cx="280.6" cy="511.5" r="0.72" fill="#6c5e3c" opacity="0.7"/>
<circle cx="283.6" cy="510.3" r="0.59" fill="#76683f" opacity="0.7"/>
<circle cx="278.2" cy="500.0" r="0.46" fill="#8a7a56" opacity="0.7"/>
<circle cx="282.9" cy="502.5" r="0.75" fill="#6c5e3c" opacity="0.7"/>
<circle cx="277.6" cy="503.7" r="0.92" fill="#6c5e3c" opacity="0.7"/>
<circle cx="279.5" cy="506.6" r="0.95" fill="#b4a888" opacity="0.7"/>
<circle cx="282.7" cy="505.6" r="0.62" fill="#76683f" opacity="0.7"/>
<circle cx="282.2" cy="515.6" r="0.94" fill="#76683f" opacity="0.7"/>
<circle cx="281.4" cy="506.5" r="0.50" fill="#8a7a56" opacity="0.7"/>
<circle cx="286.4" cy="511.3" r="0.68" fill="#76683f" opacity="0.7"/>
<circle cx="282.1" cy="512.3" r="0.89" fill="#a89a78" opacity="0.7"/>
<circle cx="282.3" cy="512.8" r="0.95" fill="#b4a888" opacity="0.7"/>
<circle cx="283.8" cy="510.1" r="0.87" fill="#6c5e3c" opacity="0.7"/>
<circle cx="287.7" cy="507.1" r="0.89" fill="#8a7a56" opacity="0.7"/>
<circle cx="280.8" cy="507.4" r="0.75" fill="#6c5e3c" opacity="0.7"/>
<circle cx="283.9" cy="504.9" r="0.55" fill="#a89a78" opacity="0.7"/>
<circle cx="282.6" cy="514.1" r="0.99" fill="#a89a78" opacity="0.7"/>
<circle cx="279.5" cy="506.6" r="0.82" fill="#a89a78" opacity="0.7"/>
<circle cx="280.8" cy="504.4" r="0.71" fill="#6c5e3c" opacity="0.7"/>
<circle cx="279.4" cy="508.6" r="0.66" fill="#a89a78" opacity="0.7"/>
<circle cx="281.4" cy="505.9" r="0.70" fill="#b4a888" opacity="0.7"/>
<circle cx="279.1" cy="508.1" r="0.54" fill="#6c5e3c" opacity="0.7"/>
<circle cx="281.2" cy="504.5" r="0.50" fill="#8a7a56" opacity="0.7"/>
<circle cx="279.0" cy="506.5" r="0.77" fill="#b4a888" opacity="0.7"/>
<circle cx="281.2" cy="505.1" r="0.95" fill="#76683f" opacity="0.7"/>
<circle cx="281.9" cy="504.0" r="0.94" fill="#6c5e3c" opacity="0.7"/>
<circle cx="278.3" cy="501.0" r="0.87" fill="#8a7a56" opacity="0.7"/>
<circle cx="280.9" cy="508.7" r="0.89" fill="#b4a888" opacity="0.7"/>
<circle cx="280.4" cy="507.2" r="0.65" fill="#6c5e3c" opacity="0.7"/>
<circle cx="282.7" cy="507.9" r="0.98" fill="#b4a888" opacity="0.7"/>
<circle cx="277.5" cy="512.0" r="0.76" fill="#6c5e3c" opacity="0.7"/>
<circle cx="284.4" cy="509.3" r="0.72" fill="#76683f" opacity="0.7"/>
<circle cx="278.5" cy="501.0" r="0.99" fill="#a89a78" opacity="0.7"/>
<circle cx="281.2" cy="507.8" r="0.58" fill="#8a7a56" opacity="0.7"/>
<circle cx="280.1" cy="507.5" r="0.56" fill="#8a7a56" opacity="0.7"/>
<circle cx="282.7" cy="507.4" r="0.60" fill="#b4a888" opacity="0.7"/>
<circle cx="276.3" cy="505.8" r="0.98" fill="#6c5e3c" opacity="0.7"/>
<circle cx="281.0" cy="506.5" r="0.69" fill="#a89a78" opacity="0.7"/>
<circle cx="275.0" cy="505.4" r="0.98" fill="#8a7a56" opacity="0.7"/>
<circle cx="281.7" cy="506.6" r="0.71" fill="#76683f" opacity="0.7"/>
<circle cx="283.4" cy="503.5" r="0.78" fill="#8a7a56" opacity="0.7"/>
<circle cx="283.9" cy="506.0" r="0.74" fill="#6c5e3c" opacity="0.7"/>
<circle cx="278.8" cy="511.4" r="0.72" fill="#b4a888" opacity="0.7"/>
<circle cx="270.7" cy="503.3" r="0.6" fill="#b0a8b8" opacity="0.8"/>
<circle cx="291.5" cy="509.1" r="0.6" fill="#8880b0" opacity="0.8"/>
<circle cx="273.3" cy="499.3" r="0.6" fill="#b0a8b8" opacity="0.8"/>
<circle cx="290.5" cy="510.6" r="0.6" fill="#b0a8b8" opacity="0.8"/>
<circle cx="291.3" cy="510.7" r="0.6" fill="#b0a8b8" opacity="0.8"/>
<circle cx="290.6" cy="512.2" r="0.6" fill="#b0a8b8" opacity="0.8"/>
<circle cx="278.5" cy="496.9" r="0.6" fill="#8880b0" opacity="0.8"/>
<circle cx="290.4" cy="510.1" r="0.6" fill="#b0a8b8" opacity="0.8"/>
<circle cx="287.5" cy="516.1" r="0.6" fill="#8880b0" opacity="0.8"/>
<circle cx="272.3" cy="500.9" r="0.6" fill="#b0a8b8" opacity="0.8"/>
<circle cx="270.5" cy="510.1" r="0.6" fill="#8880b0" opacity="0.8"/>
<circle cx="274.0" cy="515.3" r="0.6" fill="#b0a8b8" opacity="0.8"/>
<circle cx="270.2" cy="511.1" r="0.6" fill="#b0a8b8" opacity="0.8"/>
<circle cx="271.7" cy="500.7" r="0.6" fill="#b0a8b8" opacity="0.8"/>
<circle cx="273.2" cy="515.6" r="0.6" fill="#8880b0" opacity="0.8"/>
<circle cx="291.1" cy="503.9" r="0.6" fill="#8880b0" opacity="0.8"/>
<circle cx="269.8" cy="508.5" r="0.6" fill="#b0a8b8" opacity="0.8"/>
<circle cx="282.8" cy="496.5" r="0.6" fill="#b0a8b8" opacity="0.8"/>
<circle cx="278.8" cy="518.0" r="0.6" fill="#8880b0" opacity="0.8"/>
<circle cx="273.1" cy="499.0" r="0.6" fill="#8880b0" opacity="0.8"/>
<circle cx="290.8" cy="504.0" r="0.6" fill="#8880b0" opacity="0.8"/>
<circle cx="287.9" cy="500.1" r="0.6" fill="#8880b0" opacity="0.8"/>
<circle cx="262" cy="519.5" r="1.2" fill="none" stroke="#5e5656" stroke-width="0.5" opacity="0.8"/>
<circle cx="265.5" cy="517.5" r="1.2" fill="none" stroke="#5e5656" stroke-width="0.5" opacity="0.8"/>
<circle cx="266" cy="522" r="1.2" fill="none" stroke="#5e5656" stroke-width="0.5" opacity="0.8"/>
<circle cx="270" cy="520" r="1.2" fill="none" stroke="#5e5656" stroke-width="0.5" opacity="0.8"/>
<circle cx="296" cy="498" r="1.2" fill="none" stroke="#5e5656" stroke-width="0.5" opacity="0.8"/>
<circle cx="299" cy="500.5" r="1.2" fill="none" stroke="#5e5656" stroke-width="0.5" opacity="0.8"/>
<circle cx="262" cy="493.5" r="1.2" fill="none" stroke="#5e5656" stroke-width="0.5" opacity="0.8"/>
<circle cx="262" cy="493.6" r="1.0" fill="#7a7260" opacity="0.8"/>
</g>
<g clip-path="url(#g2)">
<rect x="313.20" y="487.50" width="60.10" height="43.30" fill="url(#pg3)" />
<circle cx="313.6" cy="498.2" r="0.52" fill="#3a3434" opacity="0.28"/>
<circle cx="345.5" cy="490.1" r="0.58" fill="#403a3a" opacity="0.30"/>
<circle cx="327.1" cy="529.2" r="0.94" fill="#5c5454" opacity="0.31"/>
<circle cx="333.6" cy="519.0" r="1.25" fill="#3a3434" opacity="0.49"/>
<circle cx="339.8" cy="522.3" r="1.25" fill="#3a3434" opacity="0.38"/>
<circle cx="357.8" cy="503.8" r="0.64" fill="#3a3434" opacity="0.45"/>
<circle cx="372.4" cy="501.0" r="0.99" fill="#403a3a" opacity="0.50"/>
<circle cx="324.0" cy="515.1" r="1.02" fill="#5c5454" opacity="0.51"/>
<circle cx="317.7" cy="490.6" r="1.01" fill="#5c5454" opacity="0.49"/>
<circle cx="340.8" cy="522.4" r="0.51" fill="#5c5454" opacity="0.31"/>
<circle cx="352.7" cy="490.5" r="0.77" fill="#403a3a" opacity="0.48"/>
<circle cx="332.7" cy="524.9" r="0.70" fill="#403a3a" opacity="0.47"/>
<circle cx="335.0" cy="492.0" r="1.14" fill="#403a3a" opacity="0.43"/>
<circle cx="367.1" cy="516.5" r="0.75" fill="#403a3a" opacity="0.49"/>
<circle cx="331.3" cy="500.7" r="0.86" fill="#403a3a" opacity="0.52"/>
<circle cx="327.9" cy="502.6" r="0.83" fill="#5c5454" opacity="0.45"/>
<circle cx="348.1" cy="521.2" r="1.16" fill="#5c5454" opacity="0.49"/>
<circle cx="345.4" cy="523.0" r="1.01" fill="#3a3434" opacity="0.28"/>
<circle cx="340.3" cy="523.8" r="1.23" fill="#3a3434" opacity="0.40"/>
<circle cx="345.6" cy="511.4" r="1.37" fill="#403a3a" opacity="0.50"/>
<circle cx="338.4" cy="512.0" r="0.77" fill="#403a3a" opacity="0.28"/>
<circle cx="317.9" cy="518.7" r="1.31" fill="#3a3434" opacity="0.26"/>
<circle cx="352.2" cy="491.2" r="1.23" fill="#5c5454" opacity="0.32"/>
<circle cx="326.2" cy="519.9" r="0.97" fill="#5c5454" opacity="0.37"/>
<circle cx="333.3" cy="528.6" r="1.11" fill="#5c5454" opacity="0.40"/>
<circle cx="361.3" cy="490.1" r="1.06" fill="#3a3434" opacity="0.37"/>
<circle cx="362.6" cy="515.7" r="1.27" fill="#5c5454" opacity="0.50"/>
<circle cx="366.3" cy="528.2" r="1.08" fill="#403a3a" opacity="0.36"/>
<circle cx="313.6" cy="491.7" r="1.33" fill="#3a3434" opacity="0.32"/>
<circle cx="322.7" cy="514.3" r="1.12" fill="#5c5454" opacity="0.31"/>
<circle cx="338.5" cy="499.6" r="1.37" fill="#3a3434" opacity="0.39"/>
<circle cx="356.8" cy="500.1" r="0.64" fill="#3a3434" opacity="0.52"/>
<circle cx="358.2" cy="487.7" r="0.93" fill="#3a3434" opacity="0.34"/>
<circle cx="324.9" cy="502.5" r="1.03" fill="#403a3a" opacity="0.47"/>
<circle cx="348.7" cy="496.6" r="0.67" fill="#5c5454" opacity="0.37"/>
<circle cx="367.6" cy="527.3" r="1.06" fill="#403a3a" opacity="0.39"/>
<circle cx="328.6" cy="525.2" r="1.32" fill="#5c5454" opacity="0.45"/>
<circle cx="359.3" cy="491.0" r="1.28" fill="#5c5454" opacity="0.26"/>
<circle cx="369.9" cy="521.5" r="0.85" fill="#403a3a" opacity="0.49"/>
<circle cx="359.5" cy="520.9" r="0.55" fill="#3a3434" opacity="0.52"/>
<circle cx="365.4" cy="525.9" r="0.91" fill="#3a3434" opacity="0.46"/>
<circle cx="349.4" cy="493.8" r="0.64" fill="#5c5454" opacity="0.29"/>
<circle cx="367.5" cy="521.8" r="0.62" fill="#403a3a" opacity="0.55"/>
<circle cx="329.0" cy="510.0" r="0.64" fill="#3a3434" opacity="0.25"/>
<circle cx="362.3" cy="523.4" r="1.24" fill="#3a3434" opacity="0.36"/>
<circle cx="349.9" cy="509.7" r="1.30" fill="#403a3a" opacity="0.39"/>
<circle cx="370.3" cy="512.2" r="1.27" fill="#5c5454" opacity="0.26"/>
<circle cx="324.3" cy="495.3" r="1.11" fill="#5c5454" opacity="0.31"/>
<circle cx="345.6" cy="509.6" r="0.64" fill="#5c5454" opacity="0.34"/>
<circle cx="337.3" cy="510.9" r="1.40" fill="#403a3a" opacity="0.46"/>
<circle cx="334.6" cy="516.5" r="0.60" fill="#5c5454" opacity="0.45"/>
<circle cx="357.8" cy="520.7" r="0.61" fill="#5c5454" opacity="0.25"/>
<circle cx="335.6" cy="517.5" r="0.71" fill="#403a3a" opacity="0.28"/>
<circle cx="359.3" cy="523.8" r="1.26" fill="#403a3a" opacity="0.31"/>
<circle cx="350.0" cy="499.5" r="0.84" fill="#403a3a" opacity="0.47"/>
<circle cx="370.2" cy="519.5" r="1.00" fill="#3a3434" opacity="0.33"/>
<circle cx="325.0" cy="518.5" r="0.80" fill="#5c5454" opacity="0.42"/>
<circle cx="356.4" cy="501.3" r="1.24" fill="#3a3434" opacity="0.28"/>
<circle cx="350.3" cy="492.7" r="1.07" fill="#3a3434" opacity="0.30"/>
<circle cx="337.1" cy="523.0" r="1.03" fill="#3a3434" opacity="0.28"/>
<circle cx="343.1" cy="507" r="9" fill="#8e8894" opacity="0.6" filter="url(#b3)"/>
<circle cx="343.1" cy="507" r="4.5" fill="#a8a2ac" opacity="0.55" filter="url(#b2)"/>
<circle cx="356.6" cy="509.5" r="0.45" fill="#b2aeba" opacity="0.44"/>
<circle cx="348.7" cy="496.8" r="0.35" fill="#9c98a8" opacity="0.61"/>
<circle cx="344.9" cy="503.7" r="0.42" fill="#8880a0" opacity="0.55"/>
<circle cx="342.0" cy="500.4" r="0.41" fill="#9c98a8" opacity="0.56"/>
<circle cx="343.0" cy="507.0" r="0.42" fill="#bebac4" opacity="0.42"/>
<circle cx="337.0" cy="509.1" r="0.37" fill="#bebac4" opacity="0.62"/>
<circle cx="346.5" cy="501.1" r="0.36" fill="#bebac4" opacity="0.52"/>
<circle cx="339.7" cy="511.1" r="0.35" fill="#9c98a8" opacity="0.69"/>
<circle cx="334.1" cy="506.2" r="0.59" fill="#9c98a8" opacity="0.53"/>
<circle cx="351.1" cy="508.2" r="0.57" fill="#9c98a8" opacity="0.40"/>
<circle cx="335.3" cy="503.4" r="0.42" fill="#bebac4" opacity="0.41"/>
<circle cx="346.8" cy="504.0" r="0.56" fill="#9c98a8" opacity="0.66"/>
<circle cx="336.7" cy="505.4" r="0.50" fill="#bebac4" opacity="0.37"/>
<circle cx="342.8" cy="496.1" r="0.42" fill="#9c98a8" opacity="0.35"/>
<circle cx="344.4" cy="504.8" r="0.61" fill="#9c98a8" opacity="0.60"/>
<circle cx="342.2" cy="507.9" r="0.51" fill="#b2aeba" opacity="0.48"/>
<circle cx="334.7" cy="512.2" r="0.63" fill="#9c98a8" opacity="0.42"/>
<circle cx="338.6" cy="499.5" r="0.43" fill="#b2aeba" opacity="0.36"/>
<circle cx="343.0" cy="507.1" r="0.48" fill="#b2aeba" opacity="0.53"/>
<circle cx="345.9" cy="511.8" r="0.39" fill="#bebac4" opacity="0.32"/>
<circle cx="345.0" cy="498.9" r="0.58" fill="#8880a0" opacity="0.68"/>
<circle cx="338.9" cy="504.2" r="0.44" fill="#8880a0" opacity="0.60"/>
<circle cx="329.3" cy="508.1" r="0.59" fill="#8880a0" opacity="0.63"/>
<circle cx="343.7" cy="507.5" r="0.63" fill="#bebac4" opacity="0.51"/>
<circle cx="331.9" cy="511.6" r="0.41" fill="#b2aeba" opacity="0.42"/>
<circle cx="339.6" cy="504.2" r="0.43" fill="#bebac4" opacity="0.60"/>
<circle cx="340.7" cy="513.0" r="0.32" fill="#b2aeba" opacity="0.64"/>
<circle cx="343.7" cy="517.5" r="0.64" fill="#8880a0" opacity="0.58"/>
<circle cx="340.9" cy="506.7" r="0.41" fill="#8880a0" opacity="0.68"/>
<circle cx="353.3" cy="498.4" r="0.56" fill="#bebac4" opacity="0.65"/>
<circle cx="333.8" cy="511.5" r="0.38" fill="#8880a0" opacity="0.53"/>
<circle cx="343.7" cy="506.6" r="0.58" fill="#b2aeba" opacity="0.65"/>
<circle cx="338.7" cy="504.9" r="0.40" fill="#bebac4" opacity="0.31"/>
<circle cx="345.4" cy="510.8" r="0.46" fill="#8880a0" opacity="0.36"/>
<circle cx="342.4" cy="505.2" r="0.41" fill="#8880a0" opacity="0.66"/>
<circle cx="341.1" cy="511.8" r="0.63" fill="#8880a0" opacity="0.65"/>
<circle cx="346.5" cy="516.9" r="0.54" fill="#b2aeba" opacity="0.38"/>
<circle cx="345.0" cy="504.2" r="0.47" fill="#9c98a8" opacity="0.55"/>
<circle cx="341.0" cy="501.4" r="0.49" fill="#9c98a8" opacity="0.38"/>
<circle cx="343.3" cy="506.8" r="0.34" fill="#bebac4" opacity="0.68"/>
<circle cx="342.4" cy="511.0" r="0.61" fill="#bebac4" opacity="0.58"/>
<circle cx="347.6" cy="505.3" r="0.33" fill="#9c98a8" opacity="0.64"/>
<circle cx="349.4" cy="512.4" r="0.39" fill="#9c98a8" opacity="0.50"/>
<circle cx="342.4" cy="509.2" r="0.58" fill="#b2aeba" opacity="0.54"/>
<circle cx="343.5" cy="509.6" r="0.62" fill="#9c98a8" opacity="0.41"/>
<circle cx="342.7" cy="506.6" r="0.64" fill="#8880a0" opacity="0.67"/>
<circle cx="354.1" cy="512.0" r="0.30" fill="#bebac4" opacity="0.51"/>
<circle cx="337.1" cy="509.8" r="0.36" fill="#9c98a8" opacity="0.40"/>
<circle cx="341.9" cy="512.7" r="0.37" fill="#9c98a8" opacity="0.70"/>
<circle cx="348.1" cy="508.0" r="0.56" fill="#8880a0" opacity="0.30"/>
<circle cx="343.4" cy="506.8" r="0.32" fill="#bebac4" opacity="0.43"/>
<circle cx="342.9" cy="507.0" r="0.40" fill="#9c98a8" opacity="0.54"/>
<circle cx="343.2" cy="506.3" r="0.45" fill="#8880a0" opacity="0.52"/>
<circle cx="342.7" cy="515.2" r="0.55" fill="#bebac4" opacity="0.50"/>
<circle cx="344.3" cy="513.1" r="0.47" fill="#b2aeba" opacity="0.38"/>
<circle cx="343.4" cy="506.9" r="0.46" fill="#9c98a8" opacity="0.43"/>
<circle cx="337.4" cy="502.8" r="0.58" fill="#8880a0" opacity="0.59"/>
<circle cx="343.2" cy="506.9" r="0.34" fill="#9c98a8" opacity="0.53"/>
<circle cx="333.1" cy="504.5" r="0.38" fill="#9c98a8" opacity="0.32"/>
<circle cx="335.3" cy="510.6" r="0.59" fill="#bebac4" opacity="0.61"/>
<circle cx="335.1" cy="507.1" r="0.48" fill="#8880a0" opacity="0.40"/>
<circle cx="347.7" cy="513.6" r="0.59" fill="#8880a0" opacity="0.32"/>
<circle cx="339.9" cy="508.8" r="0.38" fill="#b2aeba" opacity="0.35"/>
<circle cx="343.3" cy="500.5" r="0.35" fill="#8880a0" opacity="0.51"/>
<circle cx="343.1" cy="507.0" r="0.44" fill="#9c98a8" opacity="0.34"/>
<circle cx="338.2" cy="505.4" r="0.63" fill="#b2aeba" opacity="0.57"/>
<circle cx="340.3" cy="495.1" r="0.51" fill="#bebac4" opacity="0.40"/>
<circle cx="341.0" cy="506.4" r="0.46" fill="#9c98a8" opacity="0.45"/>
<circle cx="336.0" cy="517.5" r="0.51" fill="#b2aeba" opacity="0.36"/>
<circle cx="331.1" cy="500.6" r="0.56" fill="#9c98a8" opacity="0.49"/>
<circle cx="334.3" cy="513.3" r="0.43" fill="#b2aeba" opacity="0.39"/>
<circle cx="342.2" cy="508.1" r="0.49" fill="#9c98a8" opacity="0.49"/>
<circle cx="337.3" cy="510.8" r="0.57" fill="#8880a0" opacity="0.48"/>
<circle cx="351.6" cy="506.7" r="0.60" fill="#9c98a8" opacity="0.52"/>
<circle cx="342.9" cy="507.1" r="0.40" fill="#bebac4" opacity="0.55"/>
<circle cx="333.7" cy="506.0" r="0.48" fill="#9c98a8" opacity="0.41"/>
<circle cx="342.3" cy="507.8" r="0.63" fill="#bebac4" opacity="0.35"/>
<circle cx="343.7" cy="517.0" r="0.34" fill="#bebac4" opacity="0.64"/>
<circle cx="332.2" cy="510.2" r="0.43" fill="#bebac4" opacity="0.61"/>
<circle cx="342.8" cy="507.0" r="0.44" fill="#9c98a8" opacity="0.50"/>
<circle cx="345.3" cy="511.9" r="0.34" fill="#9c98a8" opacity="0.42"/>
<circle cx="337.5" cy="509.6" r="0.35" fill="#bebac4" opacity="0.43"/>
<circle cx="339.3" cy="508.1" r="0.61" fill="#bebac4" opacity="0.51"/>
<circle cx="342.1" cy="507.3" r="0.48" fill="#bebac4" opacity="0.39"/>
<circle cx="342.2" cy="510.0" r="0.38" fill="#b2aeba" opacity="0.64"/>
<circle cx="343.0" cy="502.1" r="0.30" fill="#bebac4" opacity="0.56"/>
<circle cx="353.5" cy="511.2" r="0.50" fill="#bebac4" opacity="0.57"/>
<circle cx="354.3" cy="504.1" r="0.38" fill="#bebac4" opacity="0.34"/>
<circle cx="339.4" cy="508.6" r="0.32" fill="#8880a0" opacity="0.67"/>
<circle cx="341.2" cy="514.8" r="0.38" fill="#8880a0" opacity="0.38"/>
<circle cx="343.5" cy="503.8" r="0.55" fill="#b2aeba" opacity="0.60"/>
<circle cx="351.9" cy="501.8" r="0.47" fill="#bebac4" opacity="0.58"/>
<circle cx="334.8" cy="504.4" r="0.31" fill="#8880a0" opacity="0.35"/>
<circle cx="353.6" cy="501.0" r="0.40" fill="#8880a0" opacity="0.50"/>
<circle cx="338.6" cy="504.6" r="0.41" fill="#bebac4" opacity="0.33"/>
<circle cx="346.2" cy="507.6" r="0.43" fill="#bebac4" opacity="0.40"/>
<circle cx="342.3" cy="505.8" r="0.46" fill="#bebac4" opacity="0.68"/>
<circle cx="338.7" cy="511.7" r="0.63" fill="#b2aeba" opacity="0.55"/>
<circle cx="339.9" cy="504.3" r="0.45" fill="#bebac4" opacity="0.33"/>
<circle cx="338.3" cy="508.0" r="0.64" fill="#8880a0" opacity="0.32"/>
<circle cx="346.9" cy="510.9" r="0.41" fill="#bebac4" opacity="0.49"/>
<circle cx="350.3" cy="507.9" r="0.39" fill="#bebac4" opacity="0.57"/>
<circle cx="343.1" cy="507.0" r="0.49" fill="#8880a0" opacity="0.30"/>
<circle cx="332.3" cy="504.0" r="0.57" fill="#b2aeba" opacity="0.55"/>
<circle cx="332.9" cy="503.3" r="0.64" fill="#bebac4" opacity="0.41"/>
<circle cx="343.2" cy="507.0" r="0.58" fill="#9c98a8" opacity="0.58"/>
<circle cx="337.9" cy="495.9" r="0.59" fill="#9c98a8" opacity="0.43"/>
<circle cx="339.2" cy="498.2" r="0.40" fill="#8880a0" opacity="0.41"/>
<circle cx="343.1" cy="501.4" r="0.38" fill="#9c98a8" opacity="0.44"/>
<circle cx="339.7" cy="496.2" r="0.56" fill="#b2aeba" opacity="0.70"/>
<circle cx="348.0" cy="497.2" r="0.41" fill="#8880a0" opacity="0.50"/>
<circle cx="343.0" cy="506.8" r="0.52" fill="#8880a0" opacity="0.65"/>
<circle cx="345.3" cy="507.7" r="0.48" fill="#8880a0" opacity="0.40"/>
<circle cx="340.6" cy="504.4" r="0.54" fill="#9c98a8" opacity="0.43"/>
<circle cx="343.8" cy="496.9" r="0.59" fill="#8880a0" opacity="0.56"/>
<circle cx="349.8" cy="513.0" r="0.39" fill="#9c98a8" opacity="0.35"/>
<circle cx="337.2" cy="512.2" r="0.38" fill="#9c98a8" opacity="0.69"/>
<circle cx="334.5" cy="508.4" r="0.58" fill="#9c98a8" opacity="0.41"/>
<circle cx="342.8" cy="509.1" r="0.53" fill="#8880a0" opacity="0.67"/>
<circle cx="343.4" cy="507.0" r="0.55" fill="#b2aeba" opacity="0.65"/>
<circle cx="344.4" cy="510.1" r="0.49" fill="#b2aeba" opacity="0.46"/>
<circle cx="352.2" cy="501.4" r="0.60" fill="#9c98a8" opacity="0.45"/>
<circle cx="339.3" cy="515.8" r="0.59" fill="#bebac4" opacity="0.39"/>
<circle cx="342.3" cy="503.1" r="0.35" fill="#8880a0" opacity="0.57"/>
<circle cx="343.7" cy="509.4" r="0.60" fill="#8880a0" opacity="0.37"/>
<circle cx="353.1" cy="514.2" r="0.39" fill="#8880a0" opacity="0.47"/>
<circle cx="350.0" cy="515.8" r="0.39" fill="#9c98a8" opacity="0.41"/>
<circle cx="340.5" cy="508.7" r="0.33" fill="#9c98a8" opacity="0.45"/>
<circle cx="343.1" cy="507.3" r="0.32" fill="#bebac4" opacity="0.57"/>
<circle cx="346.5" cy="507.1" r="0.35" fill="#9c98a8" opacity="0.70"/>
<circle cx="343.0" cy="507.1" r="0.42" fill="#8880a0" opacity="0.52"/>
<circle cx="344.7" cy="513.6" r="0.59" fill="#bebac4" opacity="0.41"/>
<circle cx="353.8" cy="503.1" r="0.65" fill="#8880a0" opacity="0.53"/>
<circle cx="343.3" cy="506.9" r="0.60" fill="#9c98a8" opacity="0.52"/>
<circle cx="341.9" cy="504.9" r="0.31" fill="#bebac4" opacity="0.33"/>
<circle cx="331.4" cy="509.3" r="0.32" fill="#bebac4" opacity="0.30"/>
<circle cx="332.6" cy="505.4" r="0.58" fill="#8880a0" opacity="0.46"/>
<circle cx="346.7" cy="497.7" r="0.57" fill="#b2aeba" opacity="0.67"/>
<circle cx="332.0" cy="508.1" r="0.44" fill="#b2aeba" opacity="0.30"/>
<circle cx="345.1" cy="509.2" r="0.55" fill="#bebac4" opacity="0.62"/>
<circle cx="338.0" cy="512.3" r="0.42" fill="#bebac4" opacity="0.33"/>
<circle cx="339.0" cy="501.7" r="0.39" fill="#9c98a8" opacity="0.60"/>
<circle cx="345.4" cy="515.3" r="0.49" fill="#9c98a8" opacity="0.37"/>
<circle cx="344.0" cy="507.6" r="0.42" fill="#8880a0" opacity="0.31"/>
<circle cx="342.9" cy="507.2" r="0.33" fill="#9c98a8" opacity="0.31"/>
<circle cx="343.3" cy="507.3" r="0.51" fill="#bebac4" opacity="0.47"/>
<circle cx="345.0" cy="506.6" r="0.44" fill="#9c98a8" opacity="0.63"/>
<circle cx="346.8" cy="508.6" r="0.62" fill="#9c98a8" opacity="0.61"/>
<circle cx="343.1" cy="507.0" r="0.56" fill="#8880a0" opacity="0.66"/>
<circle cx="350.1" cy="509.3" r="0.42" fill="#8880a0" opacity="0.64"/>
<circle cx="339.1" cy="503.3" r="0.50" fill="#b2aeba" opacity="0.35"/>
<circle cx="342.4" cy="498.4" r="0.45" fill="#8880a0" opacity="0.47"/>
<circle cx="341.5" cy="508.2" r="0.51" fill="#b2aeba" opacity="0.51"/>
<circle cx="350.6" cy="508.4" r="0.46" fill="#b2aeba" opacity="0.54"/>
<circle cx="344.2" cy="506.5" r="0.46" fill="#bebac4" opacity="0.60"/>
<circle cx="339.5" cy="514.8" r="0.65" fill="#8880a0" opacity="0.32"/>
<circle cx="352.6" cy="505.3" r="0.61" fill="#b2aeba" opacity="0.39"/>
<circle cx="347.4" cy="500.9" r="0.63" fill="#b2aeba" opacity="0.62"/>
<circle cx="329.3" cy="506.1" r="0.32" fill="#b2aeba" opacity="0.58"/>
<circle cx="343.1" cy="516.5" r="0.46" fill="#b2aeba" opacity="0.65"/>
<circle cx="344.0" cy="509.3" r="0.53" fill="#b2aeba" opacity="0.34"/>
<circle cx="334.0" cy="510.2" r="0.61" fill="#b2aeba" opacity="0.62"/>
<circle cx="349.2" cy="499.9" r="0.49" fill="#b2aeba" opacity="0.62"/>
<circle cx="345.3" cy="509.8" r="0.34" fill="#b2aeba" opacity="0.67"/>
<circle cx="345.0" cy="506.5" r="0.40" fill="#8880a0" opacity="0.37"/>
<circle cx="334.4" cy="513.6" r="0.52" fill="#8880a0" opacity="0.33"/>
<circle cx="344.9" cy="506.9" r="0.52" fill="#9c98a8" opacity="0.52"/>
<circle cx="347.1" cy="506.9" r="0.59" fill="#bebac4" opacity="0.64"/>
<circle cx="350.8" cy="504.6" r="0.37" fill="#9c98a8" opacity="0.37"/>
<circle cx="349.1" cy="512.6" r="0.46" fill="#9c98a8" opacity="0.41"/>
<circle cx="342.9" cy="510.1" r="0.52" fill="#bebac4" opacity="0.38"/>
<circle cx="351.8" cy="506.7" r="0.56" fill="#bebac4" opacity="0.65"/>
<circle cx="343.3" cy="505.5" r="0.33" fill="#bebac4" opacity="0.47"/>
<circle cx="345.0" cy="503.4" r="0.46" fill="#b2aeba" opacity="0.68"/>
<circle cx="338.1" cy="513.6" r="0.38" fill="#b2aeba" opacity="0.41"/>
<circle cx="345.0" cy="505.2" r="0.60" fill="#8880a0" opacity="0.39"/>
<circle cx="341.4" cy="507.2" r="0.44" fill="#9c98a8" opacity="0.48"/>
<circle cx="347.3" cy="508.6" r="0.40" fill="#8880a0" opacity="0.56"/>
<circle cx="342.2" cy="514.3" r="0.30" fill="#9c98a8" opacity="0.31"/>
<circle cx="338.1" cy="511.5" r="0.60" fill="#8880a0" opacity="0.47"/>
<circle cx="337.2" cy="515.2" r="0.60" fill="#b2aeba" opacity="0.52"/>
<circle cx="353.0" cy="513.4" r="0.33" fill="#bebac4" opacity="0.31"/>
<circle cx="350.0" cy="508.2" r="0.54" fill="#b2aeba" opacity="0.57"/>
<circle cx="343.4" cy="507.3" r="0.36" fill="#bebac4" opacity="0.49"/>
<circle cx="342.9" cy="506.7" r="0.38" fill="#b2aeba" opacity="0.70"/>
<circle cx="334.4" cy="513.0" r="0.53" fill="#b2aeba" opacity="0.70"/>
<circle cx="347.8" cy="508.9" r="0.44" fill="#9c98a8" opacity="0.51"/>
<circle cx="338.2" cy="504.4" r="0.59" fill="#8880a0" opacity="0.34"/>
<circle cx="343.1" cy="507.0" r="0.64" fill="#bebac4" opacity="0.57"/>
<circle cx="348.3" cy="506.1" r="0.61" fill="#8880a0" opacity="0.49"/>
<circle cx="354.5" cy="508.0" r="0.63" fill="#b2aeba" opacity="0.34"/>
<circle cx="337.5" cy="510.1" r="0.64" fill="#b2aeba" opacity="0.42"/>
<circle cx="342.2" cy="507.0" r="0.50" fill="#9c98a8" opacity="0.57"/>
<circle cx="340.1" cy="506.8" r="0.42" fill="#9c98a8" opacity="0.40"/>
<circle cx="342.8" cy="507.1" r="0.38" fill="#8880a0" opacity="0.37"/>
<circle cx="343.9" cy="507.6" r="0.61" fill="#9c98a8" opacity="0.36"/>
<circle cx="341.8" cy="506.5" r="0.52" fill="#b2aeba" opacity="0.47"/>
<circle cx="344.3" cy="507.1" r="0.59" fill="#8880a0" opacity="0.36"/>
<circle cx="343.0" cy="507.0" r="0.34" fill="#bebac4" opacity="0.66"/>
<circle cx="333.6" cy="504.6" r="0.57" fill="#8880a0" opacity="0.47"/>
<circle cx="345.3" cy="508.0" r="0.34" fill="#8880a0" opacity="0.43"/>
<circle cx="335.1" cy="507.5" r="0.61" fill="#9c98a8" opacity="0.53"/>
<circle cx="330.8" cy="506.9" r="0.44" fill="#bebac4" opacity="0.41"/>
<circle cx="341.5" cy="506.0" r="0.33" fill="#8880a0" opacity="0.45"/>
<circle cx="341.1" cy="504.6" r="0.34" fill="#bebac4" opacity="0.63"/>
<circle cx="348.7" cy="509.1" r="0.49" fill="#8880a0" opacity="0.63"/>
<circle cx="339.0" cy="499.8" r="0.31" fill="#bebac4" opacity="0.49"/>
<circle cx="344.3" cy="515.6" r="0.47" fill="#b2aeba" opacity="0.45"/>
<circle cx="342.5" cy="506.6" r="0.54" fill="#bebac4" opacity="0.68"/>
<circle cx="338.3" cy="511.8" r="0.43" fill="#bebac4" opacity="0.38"/>
<circle cx="343.1" cy="506.7" r="0.36" fill="#b2aeba" opacity="0.51"/>
<circle cx="343.1" cy="506.7" r="0.33" fill="#bebac4" opacity="0.54"/>
<circle cx="347.7" cy="496.1" r="0.53" fill="#bebac4" opacity="0.46"/>
<circle cx="341.2" cy="514.4" r="0.33" fill="#9c98a8" opacity="0.63"/>
<circle cx="341.6" cy="509.5" r="0.59" fill="#bebac4" opacity="0.56"/>
<circle cx="352.3" cy="510.1" r="0.32" fill="#b2aeba" opacity="0.52"/>
<circle cx="350.1" cy="503.9" r="0.31" fill="#9c98a8" opacity="0.53"/>
<circle cx="352.5" cy="507.3" r="0.45" fill="#b2aeba" opacity="0.37"/>
<circle cx="350.5" cy="510.9" r="0.35" fill="#8880a0" opacity="0.57"/>
<circle cx="344.6" cy="502.8" r="0.61" fill="#b2aeba" opacity="0.63"/>
<circle cx="346.6" cy="506.1" r="0.59" fill="#b2aeba" opacity="0.58"/>
<circle cx="336.2" cy="511.7" r="0.53" fill="#b2aeba" opacity="0.67"/>
<circle cx="344.2" cy="510.9" r="0.49" fill="#b2aeba" opacity="0.36"/>
<circle cx="342.4" cy="510.9" r="0.61" fill="#8880a0" opacity="0.38"/>
<circle cx="341.5" cy="502.2" r="0.45" fill="#8880a0" opacity="0.50"/>
<circle cx="336.7" cy="507.7" r="0.60" fill="#bebac4" opacity="0.38"/>
<circle cx="342.3" cy="508.0" r="0.42" fill="#8880a0" opacity="0.48"/>
<circle cx="338.7" cy="504.6" r="0.57" fill="#9c98a8" opacity="0.49"/>
<circle cx="346.4" cy="506.6" r="0.54" fill="#9c98a8" opacity="0.55"/>
<circle cx="340.5" cy="510.2" r="0.32" fill="#b2aeba" opacity="0.62"/>
<circle cx="343.0" cy="509.0" r="0.37" fill="#b2aeba" opacity="0.52"/>
<circle cx="355.3" cy="505.3" r="0.46" fill="#8880a0" opacity="0.35"/>
<circle cx="346.0" cy="513.2" r="0.54" fill="#9c98a8" opacity="0.31"/>
<circle cx="341.0" cy="501.3" r="0.49" fill="#bebac4" opacity="0.50"/>
<circle cx="330.4" cy="511.0" r="0.42" fill="#bebac4" opacity="0.34"/>
<circle cx="343.5" cy="505.3" r="0.37" fill="#bebac4" opacity="0.35"/>
<circle cx="343.7" cy="500.8" r="0.61" fill="#bebac4" opacity="0.58"/>
<circle cx="334.5" cy="515.9" r="0.55" fill="#bebac4" opacity="0.54"/>
<circle cx="349.7" cy="496.2" r="0.34" fill="#bebac4" opacity="0.31"/>
<circle cx="340.8" cy="506.5" r="0.40" fill="#bebac4" opacity="0.52"/>
<circle cx="343.1" cy="506.6" r="1.6" fill="#a8946a" opacity="0.9" filter="url(#b05)"/>
</g>
<text x="282.30" y="540.70" font-size="8.0" text-anchor="middle" fill="#1a1a1a" textLength="21.8" lengthAdjust="spacingAndGlyphs" >DMSO</text>
<text x="344.30" y="540.70" font-size="8.0" text-anchor="middle" fill="#1a1a1a" textLength="28.6" lengthAdjust="spacingAndGlyphs" >Itacitinib</text>
<line x1="41.90" y1="651.20" x2="41.90" y2="746.10" stroke="#111" stroke-width="1.5" />
<line x1="41.20" y1="745.40" x2="163.20" y2="745.40" stroke="#111" stroke-width="1.5" />
<line x1="38.00" y1="745.40" x2="41.90" y2="745.40" stroke="#111" stroke-width="1.1" />
<text x="35.90" y="748.00" font-size="7.3" text-anchor="end" fill="#222" textLength="4.05" lengthAdjust="spacingAndGlyphs" stroke="#222" stroke-width="0.22" >0</text>
<line x1="38.00" y1="732.37" x2="41.90" y2="732.37" stroke="#111" stroke-width="1.1" />
<text x="35.90" y="734.97" font-size="7.3" text-anchor="end" fill="#222" textLength="8.1" lengthAdjust="spacingAndGlyphs" stroke="#222" stroke-width="0.22" >20</text>
<line x1="38.00" y1="719.34" x2="41.90" y2="719.34" stroke="#111" stroke-width="1.1" />
<text x="35.90" y="721.94" font-size="7.3" text-anchor="end" fill="#222" textLength="8.1" lengthAdjust="spacingAndGlyphs" stroke="#222" stroke-width="0.22" >40</text>
<line x1="38.00" y1="706.32" x2="41.90" y2="706.32" stroke="#111" stroke-width="1.1" />
<text x="35.90" y="708.92" font-size="7.3" text-anchor="end" fill="#222" textLength="8.1" lengthAdjust="spacingAndGlyphs" stroke="#222" stroke-width="0.22" >60</text>
<line x1="38.00" y1="693.29" x2="41.90" y2="693.29" stroke="#111" stroke-width="1.1" />
<text x="35.90" y="695.89" font-size="7.3" text-anchor="end" fill="#222" textLength="8.1" lengthAdjust="spacingAndGlyphs" stroke="#222" stroke-width="0.22" >80</text>
<line x1="38.00" y1="680.26" x2="41.90" y2="680.26" stroke="#111" stroke-width="1.1" />
<text x="35.90" y="682.86" font-size="7.3" text-anchor="end" fill="#222" textLength="12.149999999999999" lengthAdjust="spacingAndGlyphs" stroke="#222" stroke-width="0.22" >100</text>
<line x1="38.00" y1="667.23" x2="41.90" y2="667.23" stroke="#111" stroke-width="1.1" />
<text x="35.90" y="669.83" font-size="7.3" text-anchor="end" fill="#222" textLength="12.149999999999999" lengthAdjust="spacingAndGlyphs" stroke="#222" stroke-width="0.22" >120</text>
<line x1="38.00" y1="654.20" x2="41.90" y2="654.20" stroke="#111" stroke-width="1.1" />
<text x="35.90" y="656.80" font-size="7.3" text-anchor="end" fill="#222" textLength="12.149999999999999" lengthAdjust="spacingAndGlyphs" stroke="#222" stroke-width="0.22" >140</text>
<line x1="71.70" y1="745.40" x2="71.70" y2="749.20" stroke="#111" stroke-width="1.1" />
<line x1="101.20" y1="745.40" x2="101.20" y2="749.20" stroke="#111" stroke-width="1.1" />
<line x1="130.60" y1="745.40" x2="130.60" y2="749.20" stroke="#111" stroke-width="1.1" />
<line x1="160.20" y1="745.40" x2="160.20" y2="749.20" stroke="#111" stroke-width="1.1" />
<polyline fill="none" stroke="#c0143c" stroke-width="1.25" stroke-linejoin="round" points="71.7,680.3 101.2,722.9 130.6,730.0 160.2,733.5"/>
<circle cx="71.7" cy="680.26" r="1.6" fill="#c0143c"/>
<line x1="101.20" y1="720.84" x2="101.20" y2="725.01" stroke="#c0143c" stroke-width="0.9" />
<line x1="99.00" y1="720.84" x2="103.40" y2="720.84" stroke="#c0143c" stroke-width="0.9" />
<line x1="99.00" y1="725.01" x2="103.40" y2="725.01" stroke="#c0143c" stroke-width="0.9" />
<circle cx="101.2" cy="722.93" r="1.6" fill="#c0143c"/>
<line x1="130.60" y1="728.07" x2="130.60" y2="731.98" stroke="#c0143c" stroke-width="0.9" />
<line x1="128.40" y1="728.07" x2="132.80" y2="728.07" stroke="#c0143c" stroke-width="0.9" />
<line x1="128.40" y1="731.98" x2="132.80" y2="731.98" stroke="#c0143c" stroke-width="0.9" />
<circle cx="130.6" cy="730.03" r="1.6" fill="#c0143c"/>
<line x1="160.20" y1="732.70" x2="160.20" y2="734.26" stroke="#c0143c" stroke-width="0.9" />
<line x1="158.00" y1="732.70" x2="162.40" y2="732.70" stroke="#c0143c" stroke-width="0.9" />
<line x1="158.00" y1="734.26" x2="162.40" y2="734.26" stroke="#c0143c" stroke-width="0.9" />
<circle cx="160.2" cy="733.48" r="1.6" fill="#c0143c"/>
<polyline fill="none" stroke="#5bb848" stroke-width="1.25" stroke-linejoin="round" points="71.7,680.3 101.2,713.3 130.6,722.9 160.2,728.7"/>
<path d="M71.7,678.34 L73.54,681.70 L69.86,681.70 Z" fill="#5bb848"/>
<line x1="101.20" y1="711.33" x2="101.20" y2="715.24" stroke="#5bb848" stroke-width="0.9" />
<line x1="99.00" y1="711.33" x2="103.40" y2="711.33" stroke="#5bb848" stroke-width="0.9" />
<line x1="99.00" y1="715.24" x2="103.40" y2="715.24" stroke="#5bb848" stroke-width="0.9" />
<path d="M101.2,711.37 L103.04,714.73 L99.36,714.73 Z" fill="#5bb848"/>
<line x1="130.60" y1="720.19" x2="130.60" y2="725.66" stroke="#5bb848" stroke-width="0.9" />
<line x1="128.40" y1="720.19" x2="132.80" y2="720.19" stroke="#5bb848" stroke-width="0.9" />
<line x1="128.40" y1="725.66" x2="132.80" y2="725.66" stroke="#5bb848" stroke-width="0.9" />
<path d="M130.6,721.01 L132.44,724.37 L128.76,724.37 Z" fill="#5bb848"/>
<line x1="160.20" y1="727.88" x2="160.20" y2="729.44" stroke="#5bb848" stroke-width="0.9" />
<line x1="158.00" y1="727.88" x2="162.40" y2="727.88" stroke="#5bb848" stroke-width="0.9" />
<line x1="158.00" y1="729.44" x2="162.40" y2="729.44" stroke="#5bb848" stroke-width="0.9" />
<path d="M160.2,726.74 L162.04,730.10 L158.36,730.10 Z" fill="#5bb848"/>
<polyline fill="none" stroke="#5a2a82" stroke-width="1.25" stroke-linejoin="round" points="71.7,680.3 101.2,700.8 130.6,709.4 160.2,714.2"/>
<path d="M71.7,682.18 L73.54,678.82 L69.86,678.82 Z" fill="#5a2a82"/>
<line x1="101.20" y1="698.82" x2="101.20" y2="702.73" stroke="#5a2a82" stroke-width="0.9" />
<line x1="99.00" y1="698.82" x2="103.40" y2="698.82" stroke="#5a2a82" stroke-width="0.9" />
<line x1="99.00" y1="702.73" x2="103.40" y2="702.73" stroke="#5a2a82" stroke-width="0.9" />
<path d="M101.2,702.70 L103.04,699.34 L99.36,699.34 Z" fill="#5a2a82"/>
<line x1="130.60" y1="707.49" x2="130.60" y2="711.40" stroke="#5a2a82" stroke-width="0.9" />
<line x1="128.40" y1="707.49" x2="132.80" y2="707.49" stroke="#5a2a82" stroke-width="0.9" />
<line x1="128.40" y1="711.40" x2="132.80" y2="711.40" stroke="#5a2a82" stroke-width="0.9" />
<path d="M130.6,711.36 L132.44,708.00 L128.76,708.00 Z" fill="#5a2a82"/>
<line x1="160.20" y1="712.24" x2="160.20" y2="716.15" stroke="#5a2a82" stroke-width="0.9" />
<line x1="158.00" y1="712.24" x2="162.40" y2="712.24" stroke="#5a2a82" stroke-width="0.9" />
<line x1="158.00" y1="716.15" x2="162.40" y2="716.15" stroke="#5a2a82" stroke-width="0.9" />
<path d="M160.2,716.12 L162.04,712.76 L158.36,712.76 Z" fill="#5a2a82"/>
<polyline fill="none" stroke="#2b4a8a" stroke-width="1.25" stroke-linejoin="round" points="71.7,680.3 101.2,706.5 130.6,707.5 160.2,712.9"/>
<rect x="70.10" y="678.66" width="3.20" height="3.20" fill="#2b4a8a" />
<line x1="101.20" y1="701.43" x2="101.20" y2="711.59" stroke="#2b4a8a" stroke-width="0.9" />
<line x1="99.00" y1="701.43" x2="103.40" y2="701.43" stroke="#2b4a8a" stroke-width="0.9" />
<line x1="99.00" y1="711.59" x2="103.40" y2="711.59" stroke="#2b4a8a" stroke-width="0.9" />
<rect x="99.60" y="704.91" width="3.20" height="3.20" fill="#2b4a8a" />
<line x1="130.60" y1="698.24" x2="130.60" y2="716.74" stroke="#2b4a8a" stroke-width="0.9" />
<line x1="128.40" y1="698.24" x2="132.80" y2="698.24" stroke="#2b4a8a" stroke-width="0.9" />
<line x1="128.40" y1="716.74" x2="132.80" y2="716.74" stroke="#2b4a8a" stroke-width="0.9" />
<rect x="129.00" y="705.89" width="3.20" height="3.20" fill="#2b4a8a" />
<line x1="160.20" y1="705.21" x2="160.20" y2="720.58" stroke="#2b4a8a" stroke-width="0.9" />
<line x1="158.00" y1="705.21" x2="162.40" y2="705.21" stroke="#2b4a8a" stroke-width="0.9" />
<line x1="158.00" y1="720.58" x2="162.40" y2="720.58" stroke="#2b4a8a" stroke-width="0.9" />
<rect x="158.60" y="711.30" width="3.20" height="3.20" fill="#2b4a8a" />
<polyline fill="none" stroke="#e8901c" stroke-width="1.25" stroke-linejoin="round" points="71.7,680.3 101.2,666.6 130.6,669.1 160.2,694.6"/>
<path d="M71.7,678.18 L73.78,680.26 L71.7,682.34 L69.62,680.26 Z" fill="#e8901c"/>
<line x1="101.20" y1="659.42" x2="101.20" y2="673.75" stroke="#e8901c" stroke-width="0.9" />
<line x1="99.00" y1="659.42" x2="103.40" y2="659.42" stroke="#e8901c" stroke-width="0.9" />
<line x1="99.00" y1="673.75" x2="103.40" y2="673.75" stroke="#e8901c" stroke-width="0.9" />
<path d="M101.2,664.50 L103.28,666.58 L101.2,668.66 L99.12,666.58 Z" fill="#e8901c"/>
<line x1="130.60" y1="663.52" x2="130.60" y2="674.59" stroke="#e8901c" stroke-width="0.9" />
<line x1="128.40" y1="663.52" x2="132.80" y2="663.52" stroke="#e8901c" stroke-width="0.9" />
<line x1="128.40" y1="674.59" x2="132.80" y2="674.59" stroke="#e8901c" stroke-width="0.9" />
<path d="M130.6,666.98 L132.68,669.06 L130.6,671.14 L128.52,669.06 Z" fill="#e8901c"/>
<line x1="160.20" y1="690.29" x2="160.20" y2="698.89" stroke="#e8901c" stroke-width="0.9" />
<line x1="158.00" y1="690.29" x2="162.40" y2="690.29" stroke="#e8901c" stroke-width="0.9" />
<line x1="158.00" y1="698.89" x2="162.40" y2="698.89" stroke="#e8901c" stroke-width="0.9" />
<path d="M160.2,692.51 L162.28,694.59 L160.2,696.67 L158.12,694.59 Z" fill="#e8901c"/>
<line x1="49.20" y1="707.90" x2="54.40" y2="707.90" stroke="#c0143c" stroke-width="1.0" />
<circle cx="51.8" cy="707.90" r="1.6" fill="#c0143c"/>
<text x="57.90" y="709.90" font-size="5.6" text-anchor="start" fill="#222" textLength="7.2" lengthAdjust="spacingAndGlyphs" >P1</text>
<line x1="49.20" y1="715.50" x2="54.40" y2="715.50" stroke="#2b4a8a" stroke-width="1.0" />
<rect x="50.20" y="713.90" width="3.20" height="3.20" fill="#2b4a8a" />
<text x="57.90" y="717.50" font-size="5.6" text-anchor="start" fill="#222" textLength="7.2" lengthAdjust="spacingAndGlyphs" >P2</text>
<line x1="49.20" y1="723.10" x2="54.40" y2="723.10" stroke="#5bb848" stroke-width="1.0" />
<path d="M51.8,721.18 L53.64,724.54 L49.96,724.54 Z" fill="#5bb848"/>
<text x="57.90" y="725.10" font-size="5.6" text-anchor="start" fill="#222" textLength="7.2" lengthAdjust="spacingAndGlyphs" >P3</text>
<line x1="49.20" y1="730.70" x2="54.40" y2="730.70" stroke="#5a2a82" stroke-width="1.0" />
<path d="M51.8,732.62 L53.64,729.26 L49.96,729.26 Z" fill="#5a2a82"/>
<text x="57.90" y="732.70" font-size="5.6" text-anchor="start" fill="#222" textLength="7.2" lengthAdjust="spacingAndGlyphs" >P4</text>
<line x1="49.20" y1="738.30" x2="54.40" y2="738.30" stroke="#e8901c" stroke-width="1.0" />
<path d="M51.8,736.22 L53.88,738.30 L51.8,740.38 L49.72,738.30 Z" fill="#e8901c"/>
<text x="57.90" y="740.30" font-size="5.6" text-anchor="start" fill="#222" textLength="7.2" lengthAdjust="spacingAndGlyphs" >P5</text>
<text transform="translate(75.60,755.80) rotate(-45)" font-size="8.2" text-anchor="end" fill="#222" textLength="23.2" lengthAdjust="spacingAndGlyphs" stroke="#222" stroke-width="0.22" >DMSO</text>
<text transform="translate(105.10,755.80) rotate(-45)" font-size="8.2" text-anchor="end" fill="#222" textLength="16.8" lengthAdjust="spacingAndGlyphs" stroke="#222" stroke-width="0.22" >1 uM</text>
<text transform="translate(134.50,755.80) rotate(-45)" font-size="8.2" text-anchor="end" fill="#222" textLength="16.8" lengthAdjust="spacingAndGlyphs" stroke="#222" stroke-width="0.22" >5 uM</text>
<text transform="translate(164.10,755.80) rotate(-45)" font-size="8.2" text-anchor="end" fill="#222" textLength="21.4" lengthAdjust="spacingAndGlyphs" stroke="#222" stroke-width="0.22" >10 uM</text>
<text transform="translate(17.50,698.20) rotate(-90)" font-size="10" text-anchor="middle" fill="#222" textLength="80.3" lengthAdjust="spacingAndGlyphs" stroke="#222" stroke-width="0.22" >Cell viability (% DMSO)</text>
<text x="103.00" y="785.60" font-size="10" text-anchor="middle" fill="#222" textLength="79" lengthAdjust="spacingAndGlyphs" stroke="#222" stroke-width="0.22" >Itacitinib concentration</text>
<line x1="212.00" y1="701.80" x2="212.00" y2="745.90" stroke="#111" stroke-width="1.5" />
<line x1="211.30" y1="745.20" x2="241.90" y2="745.20" stroke="#111" stroke-width="1.5" />
<line x1="208.00" y1="745.20" x2="212.00" y2="745.20" stroke="#111" stroke-width="1.1" />
<text x="205.40" y="747.95" font-size="7.8" text-anchor="end" fill="#222" textLength="3.95" lengthAdjust="spacingAndGlyphs" stroke="#222" stroke-width="0.22" >0</text>
<line x1="208.00" y1="735.00" x2="212.00" y2="735.00" stroke="#111" stroke-width="1.1" />
<text x="205.40" y="737.75" font-size="7.8" text-anchor="end" fill="#222" textLength="7.9" lengthAdjust="spacingAndGlyphs" stroke="#222" stroke-width="0.22" >10</text>
<line x1="208.00" y1="724.80" x2="212.00" y2="724.80" stroke="#111" stroke-width="1.1" />
<text x="205.40" y="727.55" font-size="7.8" text-anchor="end" fill="#222" textLength="7.9" lengthAdjust="spacingAndGlyphs" stroke="#222" stroke-width="0.22" >20</text>
<line x1="208.00" y1="714.60" x2="212.00" y2="714.60" stroke="#111" stroke-width="1.1" />
<text x="205.40" y="717.35" font-size="7.8" text-anchor="end" fill="#222" textLength="7.9" lengthAdjust="spacingAndGlyphs" stroke="#222" stroke-width="0.22" >30</text>
<line x1="208.00" y1="704.40" x2="212.00" y2="704.40" stroke="#111" stroke-width="1.1" />
<text x="205.40" y="707.15" font-size="7.8" text-anchor="end" fill="#222" textLength="7.9" lengthAdjust="spacingAndGlyphs" stroke="#222" stroke-width="0.22" >40</text>
<rect x="215.70" y="740.90" width="7.90" height="4.30" fill="#a80f32" />
<rect x="227.80" y="714.90" width="7.60" height="30.30" fill="#2b4b84" />
<line x1="219.40" y1="739.50" x2="219.40" y2="740.90" stroke="#111" stroke-width="1.0" />
<line x1="217.00" y1="739.50" x2="221.80" y2="739.50" stroke="#111" stroke-width="1.0" />
<line x1="231.40" y1="707.50" x2="231.40" y2="714.90" stroke="#111" stroke-width="1.0" />
<line x1="229.00" y1="707.50" x2="233.80" y2="707.50" stroke="#111" stroke-width="1.0" />
<line x1="219.40" y1="745.20" x2="219.40" y2="748.70" stroke="#111" stroke-width="1.1" />
<line x1="231.40" y1="745.20" x2="231.40" y2="748.70" stroke="#111" stroke-width="1.1" />
<path d="M219.4,734.4 L219.4,700.8 L231.4,700.8 L231.4,706.2" fill="none" stroke="#111" stroke-width="1.1"/>
<text x="225.40" y="700.60" font-size="5.6" text-anchor="middle" fill="#111" >*</text>
<text transform="translate(223.10,756.80) rotate(-45)" font-size="8.2" text-anchor="end" fill="#222" textLength="22.4" lengthAdjust="spacingAndGlyphs" stroke="#222" stroke-width="0.22" >DMSO</text>
<text transform="translate(235.10,756.80) rotate(-45)" font-size="8.2" text-anchor="end" fill="#222" textLength="28.2" lengthAdjust="spacingAndGlyphs" stroke="#222" stroke-width="0.22" >itacitinib</text>
<text transform="translate(191.50,723.30) rotate(-90)" font-size="10" text-anchor="middle" fill="#222" textLength="41" lengthAdjust="spacingAndGlyphs" stroke="#222" stroke-width="0.22" >% apoptosis</text>
<line x1="281.90" y1="701.80" x2="281.90" y2="745.90" stroke="#111" stroke-width="1.5" />
<line x1="281.20" y1="745.20" x2="308.80" y2="745.20" stroke="#111" stroke-width="1.5" />
<line x1="277.90" y1="745.20" x2="281.90" y2="745.20" stroke="#111" stroke-width="1.1" />
<text x="275.30" y="747.95" font-size="7.8" text-anchor="end" fill="#222" textLength="3.95" lengthAdjust="spacingAndGlyphs" stroke="#222" stroke-width="0.22" >0</text>
<line x1="277.90" y1="737.04" x2="281.90" y2="737.04" stroke="#111" stroke-width="1.1" />
<text x="275.30" y="739.79" font-size="7.8" text-anchor="end" fill="#222" textLength="3.95" lengthAdjust="spacingAndGlyphs" stroke="#222" stroke-width="0.22" >5</text>
<line x1="277.90" y1="728.88" x2="281.90" y2="728.88" stroke="#111" stroke-width="1.1" />
<text x="275.30" y="731.63" font-size="7.8" text-anchor="end" fill="#222" textLength="7.9" lengthAdjust="spacingAndGlyphs" stroke="#222" stroke-width="0.22" >10</text>
<line x1="277.90" y1="720.72" x2="281.90" y2="720.72" stroke="#111" stroke-width="1.1" />
<text x="275.30" y="723.47" font-size="7.8" text-anchor="end" fill="#222" textLength="7.9" lengthAdjust="spacingAndGlyphs" stroke="#222" stroke-width="0.22" >15</text>
<line x1="277.90" y1="712.56" x2="281.90" y2="712.56" stroke="#111" stroke-width="1.1" />
<text x="275.30" y="715.31" font-size="7.8" text-anchor="end" fill="#222" textLength="7.9" lengthAdjust="spacingAndGlyphs" stroke="#222" stroke-width="0.22" >20</text>
<line x1="277.90" y1="704.40" x2="281.90" y2="704.40" stroke="#111" stroke-width="1.1" />
<text x="275.30" y="707.15" font-size="7.8" text-anchor="end" fill="#222" textLength="7.9" lengthAdjust="spacingAndGlyphs" stroke="#222" stroke-width="0.22" >25</text>
<rect x="285.60" y="725.40" width="7.90" height="19.80" fill="#a80f32" />
<rect x="297.50" y="709.50" width="7.60" height="35.70" fill="#2b4b84" />
<line x1="289.40" y1="723.60" x2="289.40" y2="725.40" stroke="#111" stroke-width="1.0" />
<line x1="287.00" y1="723.60" x2="291.80" y2="723.60" stroke="#111" stroke-width="1.0" />
<line x1="301.40" y1="706.80" x2="301.40" y2="709.50" stroke="#111" stroke-width="1.0" />
<line x1="299.00" y1="706.80" x2="303.80" y2="706.80" stroke="#111" stroke-width="1.0" />
<line x1="289.40" y1="745.20" x2="289.40" y2="748.70" stroke="#111" stroke-width="1.1" />
<line x1="301.40" y1="745.20" x2="301.40" y2="748.70" stroke="#111" stroke-width="1.1" />
<path d="M289.4,723 L289.4,701.8 L301.4,701.8 L301.4,705.9" fill="none" stroke="#111" stroke-width="1.1"/>
<text x="295.40" y="700.20" font-size="5.4" text-anchor="middle" fill="#111" font-style="italic" >ns</text>
<text transform="translate(293.10,756.80) rotate(-45)" font-size="8.2" text-anchor="end" fill="#222" textLength="22.4" lengthAdjust="spacingAndGlyphs" stroke="#222" stroke-width="0.22" >DMSO</text>
<text transform="translate(305.10,756.80) rotate(-45)" font-size="8.2" text-anchor="end" fill="#222" textLength="28.2" lengthAdjust="spacingAndGlyphs" stroke="#222" stroke-width="0.22" >itacitinib</text>
<text transform="translate(261.40,723.30) rotate(-90)" font-size="10" text-anchor="middle" fill="#222" textLength="41" lengthAdjust="spacingAndGlyphs" stroke="#222" stroke-width="0.22" >% apoptosis</text>
<line x1="349.40" y1="701.80" x2="349.40" y2="745.90" stroke="#111" stroke-width="1.5" />
<line x1="348.70" y1="745.20" x2="375.90" y2="745.20" stroke="#111" stroke-width="1.5" />
<line x1="345.40" y1="745.20" x2="349.40" y2="745.20" stroke="#111" stroke-width="1.1" />
<text x="342.80" y="747.95" font-size="7.8" text-anchor="end" fill="#222" textLength="3.95" lengthAdjust="spacingAndGlyphs" stroke="#222" stroke-width="0.22" >0</text>
<line x1="345.40" y1="738.40" x2="349.40" y2="738.40" stroke="#111" stroke-width="1.1" />
<text x="342.80" y="741.15" font-size="7.8" text-anchor="end" fill="#222" textLength="7.9" lengthAdjust="spacingAndGlyphs" stroke="#222" stroke-width="0.22" >10</text>
<line x1="345.40" y1="731.60" x2="349.40" y2="731.60" stroke="#111" stroke-width="1.1" />
<text x="342.80" y="734.35" font-size="7.8" text-anchor="end" fill="#222" textLength="7.9" lengthAdjust="spacingAndGlyphs" stroke="#222" stroke-width="0.22" >20</text>
<line x1="345.40" y1="724.80" x2="349.40" y2="724.80" stroke="#111" stroke-width="1.1" />
<text x="342.80" y="727.55" font-size="7.8" text-anchor="end" fill="#222" textLength="7.9" lengthAdjust="spacingAndGlyphs" stroke="#222" stroke-width="0.22" >30</text>
<line x1="345.40" y1="718.00" x2="349.40" y2="718.00" stroke="#111" stroke-width="1.1" />
<text x="342.80" y="720.75" font-size="7.8" text-anchor="end" fill="#222" textLength="7.9" lengthAdjust="spacingAndGlyphs" stroke="#222" stroke-width="0.22" >40</text>
<line x1="345.40" y1="711.20" x2="349.40" y2="711.20" stroke="#111" stroke-width="1.1" />
<text x="342.80" y="713.95" font-size="7.8" text-anchor="end" fill="#222" textLength="7.9" lengthAdjust="spacingAndGlyphs" stroke="#222" stroke-width="0.22" >50</text>
<line x1="345.40" y1="704.40" x2="349.40" y2="704.40" stroke="#111" stroke-width="1.1" />
<text x="342.80" y="707.15" font-size="7.8" text-anchor="end" fill="#222" textLength="7.9" lengthAdjust="spacingAndGlyphs" stroke="#222" stroke-width="0.22" >60</text>
<rect x="352.90" y="733.30" width="7.90" height="11.90" fill="#a80f32" />
<rect x="364.70" y="709.50" width="7.60" height="35.70" fill="#2b4b84" />
<line x1="356.60" y1="732.40" x2="356.60" y2="733.30" stroke="#111" stroke-width="1.0" />
<line x1="354.20" y1="732.40" x2="359.00" y2="732.40" stroke="#111" stroke-width="1.0" />
<line x1="368.70" y1="707.10" x2="368.70" y2="709.50" stroke="#111" stroke-width="1.0" />
<line x1="366.30" y1="707.10" x2="371.10" y2="707.10" stroke="#111" stroke-width="1.0" />
<line x1="356.60" y1="745.20" x2="356.60" y2="748.70" stroke="#111" stroke-width="1.1" />
<line x1="368.70" y1="745.20" x2="368.70" y2="748.70" stroke="#111" stroke-width="1.1" />
<path d="M356.6,730.4 L356.6,703.9 L368.7,703.9 L368.7,706.2" fill="none" stroke="#111" stroke-width="1.1"/>
<text x="362.65" y="703.60" font-size="5.6" text-anchor="middle" fill="#111" >*</text>
<text transform="translate(360.30,756.80) rotate(-45)" font-size="8.2" text-anchor="end" fill="#222" textLength="22.4" lengthAdjust="spacingAndGlyphs" stroke="#222" stroke-width="0.22" >DMSO</text>
<text transform="translate(372.40,756.80) rotate(-45)" font-size="8.2" text-anchor="end" fill="#222" textLength="28.2" lengthAdjust="spacingAndGlyphs" stroke="#222" stroke-width="0.22" >itacitinib</text>
<text transform="translate(328.50,723.30) rotate(-90)" font-size="10" text-anchor="middle" fill="#222" textLength="41" lengthAdjust="spacingAndGlyphs" stroke="#222" stroke-width="0.22" >% apoptosis</text>
<line x1="420.40" y1="701.80" x2="420.40" y2="745.90" stroke="#111" stroke-width="1.5" />
<line x1="419.70" y1="745.20" x2="447.20" y2="745.20" stroke="#111" stroke-width="1.5" />
<line x1="416.40" y1="745.20" x2="420.40" y2="745.20" stroke="#111" stroke-width="1.1" />
<text x="413.80" y="747.95" font-size="7.8" text-anchor="end" fill="#222" textLength="3.95" lengthAdjust="spacingAndGlyphs" stroke="#222" stroke-width="0.22" >0</text>
<line x1="416.40" y1="737.04" x2="420.40" y2="737.04" stroke="#111" stroke-width="1.1" />
<text x="413.80" y="739.79" font-size="7.8" text-anchor="end" fill="#222" textLength="7.9" lengthAdjust="spacingAndGlyphs" stroke="#222" stroke-width="0.22" >20</text>
<line x1="416.40" y1="728.88" x2="420.40" y2="728.88" stroke="#111" stroke-width="1.1" />
<text x="413.80" y="731.63" font-size="7.8" text-anchor="end" fill="#222" textLength="7.9" lengthAdjust="spacingAndGlyphs" stroke="#222" stroke-width="0.22" >40</text>
<line x1="416.40" y1="720.72" x2="420.40" y2="720.72" stroke="#111" stroke-width="1.1" />
<text x="413.80" y="723.47" font-size="7.8" text-anchor="end" fill="#222" textLength="7.9" lengthAdjust="spacingAndGlyphs" stroke="#222" stroke-width="0.22" >60</text>
<line x1="416.40" y1="712.56" x2="420.40" y2="712.56" stroke="#111" stroke-width="1.1" />
<text x="413.80" y="715.31" font-size="7.8" text-anchor="end" fill="#222" textLength="7.9" lengthAdjust="spacingAndGlyphs" stroke="#222" stroke-width="0.22" >80</text>
<line x1="416.40" y1="704.40" x2="420.40" y2="704.40" stroke="#111" stroke-width="1.1" />
<text x="413.80" y="707.15" font-size="7.8" text-anchor="end" fill="#222" textLength="11.850000000000001" lengthAdjust="spacingAndGlyphs" stroke="#222" stroke-width="0.22" >100</text>
<rect x="424.00" y="724.30" width="7.90" height="20.90" fill="#a80f32" />
<rect x="436.00" y="710.20" width="7.60" height="35.00" fill="#2b4b84" />
<line x1="428.10" y1="722.70" x2="428.10" y2="724.30" stroke="#111" stroke-width="1.0" />
<line x1="425.70" y1="722.70" x2="430.50" y2="722.70" stroke="#111" stroke-width="1.0" />
<line x1="439.90" y1="707.90" x2="439.90" y2="710.20" stroke="#111" stroke-width="1.0" />
<line x1="437.50" y1="707.90" x2="442.30" y2="707.90" stroke="#111" stroke-width="1.0" />
<line x1="428.10" y1="745.20" x2="428.10" y2="748.70" stroke="#111" stroke-width="1.1" />
<line x1="439.90" y1="745.20" x2="439.90" y2="748.70" stroke="#111" stroke-width="1.1" />
<path d="M428.1,720.3 L428.1,702.1 L439.9,702.1 L439.9,706.8" fill="none" stroke="#111" stroke-width="1.1"/>
<text x="434.00" y="701.80" font-size="5.6" text-anchor="middle" fill="#111" >*</text>
<text transform="translate(431.80,756.80) rotate(-45)" font-size="8.2" text-anchor="end" fill="#222" textLength="22.4" lengthAdjust="spacingAndGlyphs" stroke="#222" stroke-width="0.22" >DMSO</text>
<text transform="translate(443.60,756.80) rotate(-45)" font-size="8.2" text-anchor="end" fill="#222" textLength="28.2" lengthAdjust="spacingAndGlyphs" stroke="#222" stroke-width="0.22" >itacitinib</text>
<text transform="translate(395.50,723.30) rotate(-90)" font-size="10" text-anchor="middle" fill="#222" textLength="41" lengthAdjust="spacingAndGlyphs" stroke="#222" stroke-width="0.22" >% apoptosis</text>
<line x1="483.40" y1="701.80" x2="483.40" y2="745.90" stroke="#111" stroke-width="1.5" />
<line x1="482.70" y1="745.20" x2="511.90" y2="745.20" stroke="#111" stroke-width="1.5" />
<line x1="479.40" y1="745.20" x2="483.40" y2="745.20" stroke="#111" stroke-width="1.1" />
<text x="476.80" y="747.95" font-size="7.8" text-anchor="end" fill="#222" textLength="3.95" lengthAdjust="spacingAndGlyphs" stroke="#222" stroke-width="0.22" >0</text>
<line x1="479.40" y1="737.04" x2="483.40" y2="737.04" stroke="#111" stroke-width="1.1" />
<text x="476.80" y="739.79" font-size="7.8" text-anchor="end" fill="#222" textLength="3.95" lengthAdjust="spacingAndGlyphs" stroke="#222" stroke-width="0.22" >1</text>
<line x1="479.40" y1="728.88" x2="483.40" y2="728.88" stroke="#111" stroke-width="1.1" />
<text x="476.80" y="731.63" font-size="7.8" text-anchor="end" fill="#222" textLength="3.95" lengthAdjust="spacingAndGlyphs" stroke="#222" stroke-width="0.22" >2</text>
<line x1="479.40" y1="720.72" x2="483.40" y2="720.72" stroke="#111" stroke-width="1.1" />
<text x="476.80" y="723.47" font-size="7.8" text-anchor="end" fill="#222" textLength="3.95" lengthAdjust="spacingAndGlyphs" stroke="#222" stroke-width="0.22" >3</text>
<line x1="479.40" y1="712.56" x2="483.40" y2="712.56" stroke="#111" stroke-width="1.1" />
<text x="476.80" y="715.31" font-size="7.8" text-anchor="end" fill="#222" textLength="3.95" lengthAdjust="spacingAndGlyphs" stroke="#222" stroke-width="0.22" >4</text>
<line x1="479.40" y1="704.40" x2="483.40" y2="704.40" stroke="#111" stroke-width="1.1" />
<text x="476.80" y="707.15" font-size="7.8" text-anchor="end" fill="#222" textLength="3.95" lengthAdjust="spacingAndGlyphs" stroke="#222" stroke-width="0.22" >5</text>
<rect x="487.60" y="717.60" width="7.90" height="27.60" fill="#a80f32" />
<rect x="499.90" y="715.20" width="7.60" height="30.00" fill="#2b4b84" />
<line x1="491.50" y1="715.60" x2="491.50" y2="717.60" stroke="#111" stroke-width="1.0" />
<line x1="489.10" y1="715.60" x2="493.90" y2="715.60" stroke="#111" stroke-width="1.0" />
<line x1="503.80" y1="709.50" x2="503.80" y2="715.20" stroke="#111" stroke-width="1.0" />
<line x1="501.40" y1="709.50" x2="506.20" y2="709.50" stroke="#111" stroke-width="1.0" />
<line x1="491.50" y1="745.20" x2="491.50" y2="748.70" stroke="#111" stroke-width="1.1" />
<line x1="503.80" y1="745.20" x2="503.80" y2="748.70" stroke="#111" stroke-width="1.1" />
<path d="M491.5,714 L491.5,707.1 L503.8,707.1 L503.8,708.8" fill="none" stroke="#111" stroke-width="1.1"/>
<text x="497.65" y="705.40" font-size="5.4" text-anchor="middle" fill="#111" font-style="italic" >ns</text>
<text transform="translate(495.20,756.80) rotate(-45)" font-size="8.2" text-anchor="end" fill="#222" textLength="22.4" lengthAdjust="spacingAndGlyphs" stroke="#222" stroke-width="0.22" >DMSO</text>
<text transform="translate(507.50,756.80) rotate(-45)" font-size="8.2" text-anchor="end" fill="#222" textLength="28.2" lengthAdjust="spacingAndGlyphs" stroke="#222" stroke-width="0.22" >itacitinib</text>
<text transform="translate(467.20,723.30) rotate(-90)" font-size="10" text-anchor="middle" fill="#222" textLength="41" lengthAdjust="spacingAndGlyphs" stroke="#222" stroke-width="0.22" >% apoptosis</text>
<rect x="0.00" y="0.00" width="1.50" height="795.00" fill="#000" />
<rect x="518.40" y="0.00" width="1.60" height="795.00" fill="#000" />
<rect x="0.00" y="0.00" width="520.00" height="1.15" fill="#000" />
<rect x="0.00" y="793.70" width="520.00" height="1.30" fill="#000" />
</svg>
</body></html>
